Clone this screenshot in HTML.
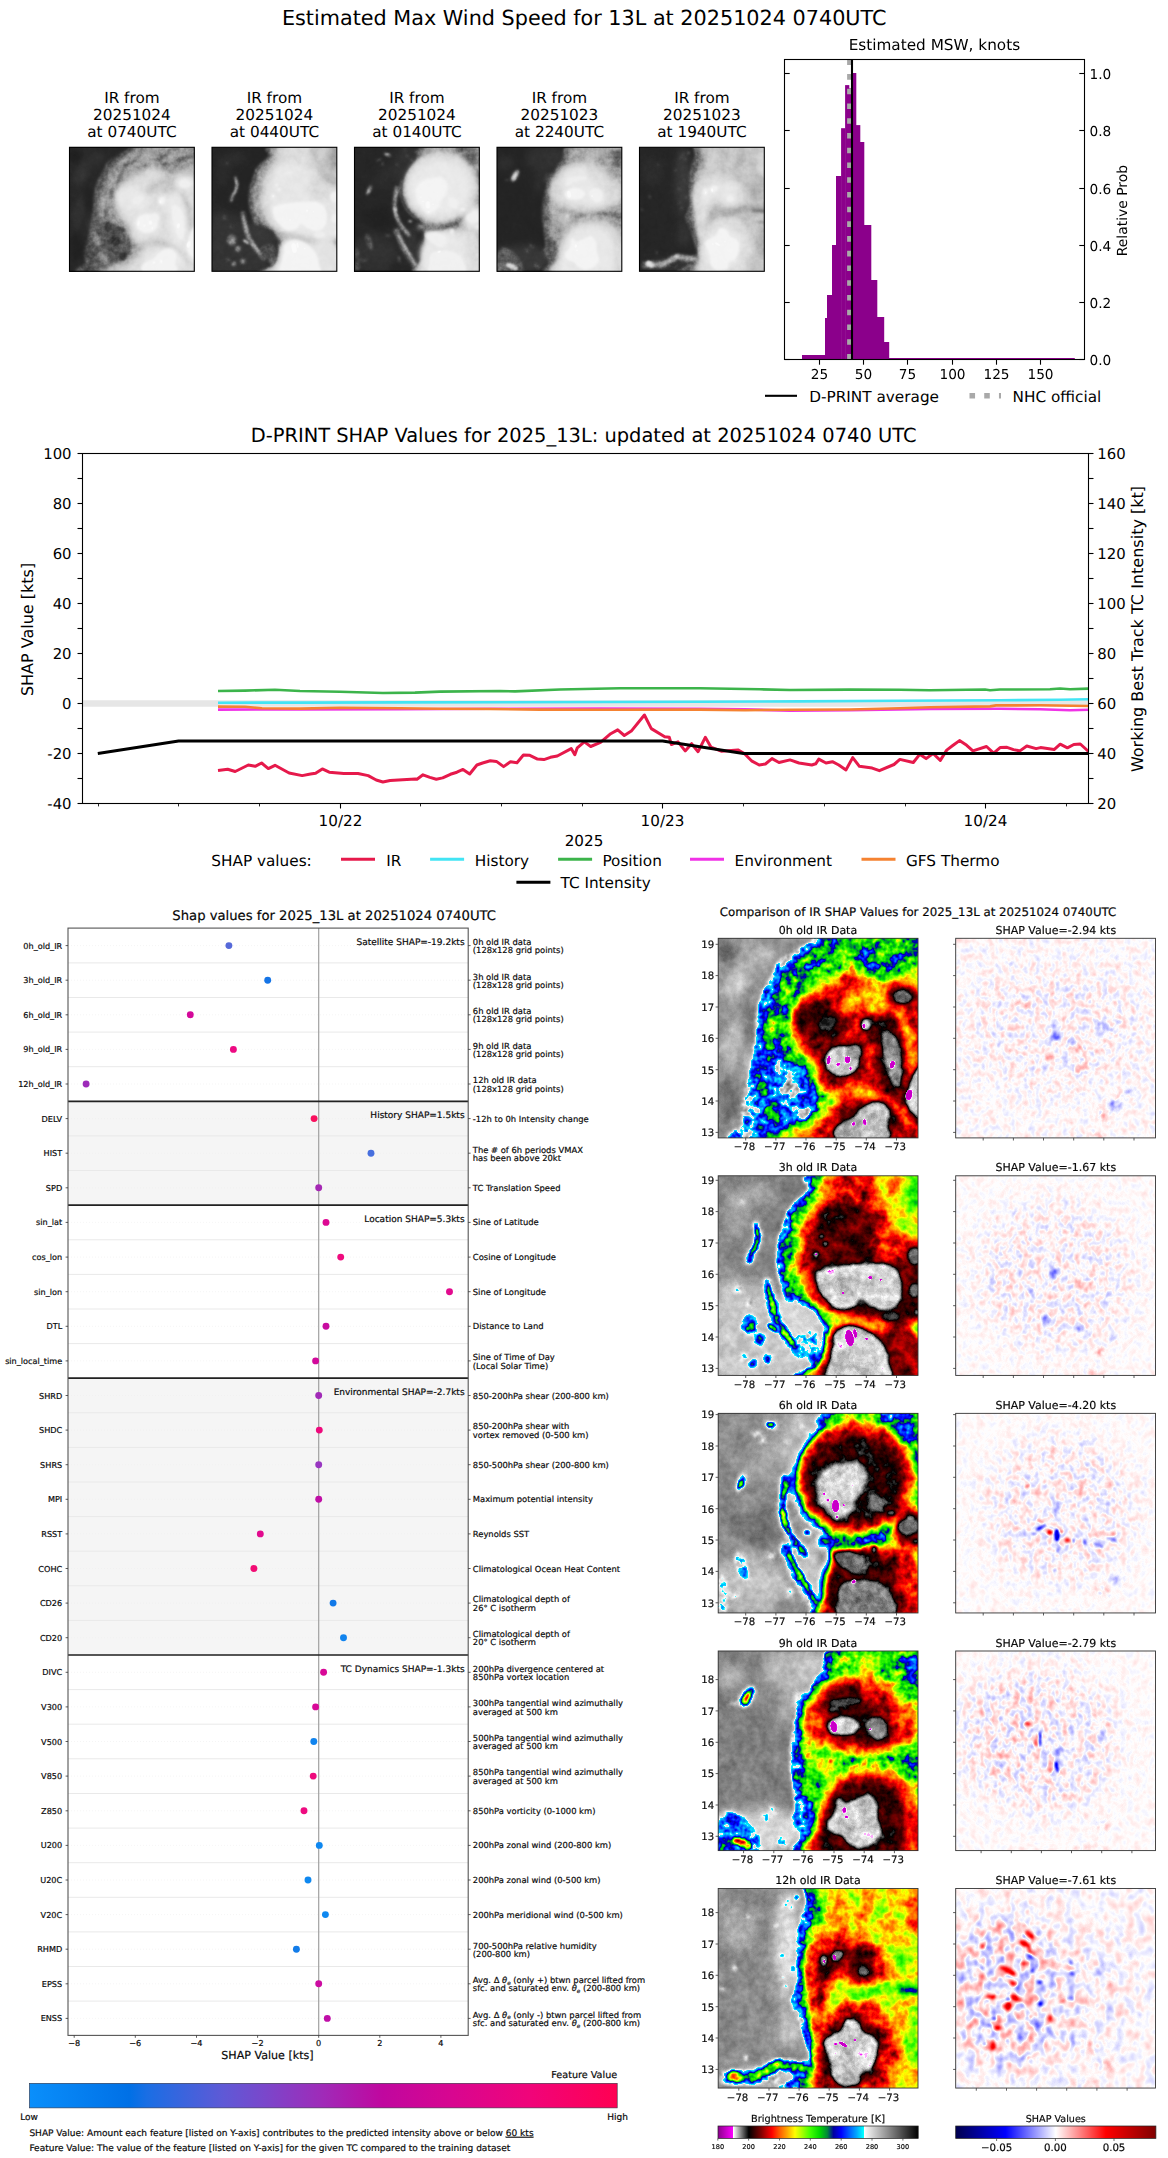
<!DOCTYPE html>
<html lang="en"><head><meta charset="utf-8"><title>D-PRINT 13L 20251024 0740UTC</title>
<style>
html,body{margin:0;padding:0;background:#fff}
svg{display:block}
text{font-family:"DejaVu Sans","Liberation Sans",sans-serif;fill:#000;text-rendering:geometricPrecision}
.soft text{stroke:#222;stroke-width:.2px}
</style></head><body>
<svg width="1168" height="2158" viewBox="0 0 1168 2158">
<rect width="1168" height="2158" fill="#fff"/>
<defs>
<filter id="b0_6" x="-60%" y="-60%" width="220%" height="220%" color-interpolation-filters="sRGB"><feGaussianBlur stdDeviation="0.6"/></filter>
<filter id="b1_2" x="-60%" y="-60%" width="220%" height="220%" color-interpolation-filters="sRGB"><feGaussianBlur stdDeviation="1.2"/></filter>
<filter id="b1_5" x="-60%" y="-60%" width="220%" height="220%" color-interpolation-filters="sRGB"><feGaussianBlur stdDeviation="1.5"/></filter>
<filter id="b2" x="-60%" y="-60%" width="220%" height="220%" color-interpolation-filters="sRGB"><feGaussianBlur stdDeviation="2"/></filter>
<filter id="b2_5" x="-60%" y="-60%" width="220%" height="220%" color-interpolation-filters="sRGB"><feGaussianBlur stdDeviation="2.5"/></filter>
<filter id="b3" x="-60%" y="-60%" width="220%" height="220%" color-interpolation-filters="sRGB"><feGaussianBlur stdDeviation="3"/></filter>
<filter id="b3_5" x="-60%" y="-60%" width="220%" height="220%" color-interpolation-filters="sRGB"><feGaussianBlur stdDeviation="3.5"/></filter>
<filter id="b4" x="-60%" y="-60%" width="220%" height="220%" color-interpolation-filters="sRGB"><feGaussianBlur stdDeviation="4"/></filter>
<filter id="b4_5" x="-60%" y="-60%" width="220%" height="220%" color-interpolation-filters="sRGB"><feGaussianBlur stdDeviation="4.5"/></filter>
<filter id="b5" x="-60%" y="-60%" width="220%" height="220%" color-interpolation-filters="sRGB"><feGaussianBlur stdDeviation="5"/></filter>
<filter id="b6" x="-60%" y="-60%" width="220%" height="220%" color-interpolation-filters="sRGB"><feGaussianBlur stdDeviation="6"/></filter>
<filter id="b14" x="-60%" y="-60%" width="220%" height="220%" color-interpolation-filters="sRGB"><feGaussianBlur stdDeviation="14"/></filter>
<filter id="ir0" x="0" y="0" width="1" height="1" color-interpolation-filters="sRGB"><feTurbulence type="fractalNoise" baseFrequency="0.05" numOctaves="2" seed="11" result="t1"/><feColorMatrix in="t1" type="matrix" values="1 0 0 0 0 1 0 0 0 0 1 0 0 0 0 0 0 0 0 1" result="n1"/><feTurbulence type="fractalNoise" baseFrequency="0.16" numOctaves="2" seed="4" result="t2"/><feColorMatrix in="t2" type="matrix" values="1 0 0 0 0 1 0 0 0 0 1 0 0 0 0 0 0 0 0 1" result="n2"/><feColorMatrix in="SourceGraphic" type="matrix" values="1 0 0 0 0 1 0 0 0 0 1 0 0 0 0 0 0 0 0 1" result="T"/><feColorMatrix in="SourceGraphic" type="matrix" values="0 1 0 0 0 0 1 0 0 0 0 1 0 0 0 0 0 0 0 1" result="m1"/><feColorMatrix in="SourceGraphic" type="matrix" values="0 0 1 0 0 0 0 1 0 0 0 0 1 0 0 0 0 0 0 1" result="m2"/><feComposite in="n1" in2="m1" operator="arithmetic" k1="1" k2="0" k3="-0.5" k4="0.5" result="p1"/><feComposite in="n2" in2="m2" operator="arithmetic" k1="1" k2="0" k3="-0.5" k4="0.5" result="p2"/><feComposite in="T" in2="p1" operator="arithmetic" k1="0" k2="1" k3="1" k4="-0.5" result="f1"/><feComposite in="f1" in2="p2" operator="arithmetic" k1="0" k2="1" k3="1" k4="-0.5" result="f"/><feComponentTransfer in="f"><feFuncR type="table" tableValues="0.545 0.591 0.637 0.683 0.729 0.775 0.821 0.867 0.913 0.959 1 0.9 0.8 0.7 0.6 0.5 0.4 0.3 0.2 0.1 0 0.063 0.125 0.188 0.251 0.314 0.376 0.439 0.502 0.573 0.644 0.715 0.787 0.858 0.929 1 1 1 1 1 1 1 1 1 1 1 1 1 1 1 1 0.925 0.851 0.776 0.702 0.627 0.552 0.477 0.402 0.326 0.251 0.209 0.167 0.125 0.084 0.042 0 0 0 0 0 0 0 0 0 0 0 0 0 0 0 0 0 0 0 0 0 0 0 0 0 0 0 0 0 0.989 0.96 0.932 0.904 0.876 0.847 0.819 0.791 0.763 0.734 0.706 0.678 0.65 0.621 0.593 0.565 0.537 0.508 0.48 0.452 0.424 0.395 0.367 0.339 0.311 0.282 0.254 0.226 0.198 0.169 0.141 0.113 0.085 0.056 0.028 0"/><feFuncG type="table" tableValues="0 0 0 0 0 0 0 0 0 0 1 0.9 0.8 0.7 0.6 0.5 0.4 0.3 0.2 0.1 0 0 0 0 0 0 0 0 0 0 0 0 0 0 0 0 0.071 0.141 0.212 0.282 0.353 0.414 0.475 0.536 0.598 0.659 0.727 0.795 0.864 0.932 1 1 1 1 1 1 1 1 1 1 1 0.975 0.949 0.924 0.898 0.873 0.847 0.784 0.722 0.659 0.596 0.533 0.4 0.267 0.133 0 0 0 0 0 0 0.068 0.136 0.204 0.272 0.34 0.408 0.471 0.533 0.596 0.659 0.735 0.81 0.886 0.962 0.989 0.96 0.932 0.904 0.876 0.847 0.819 0.791 0.763 0.734 0.706 0.678 0.65 0.621 0.593 0.565 0.537 0.508 0.48 0.452 0.424 0.395 0.367 0.339 0.311 0.282 0.254 0.226 0.198 0.169 0.141 0.113 0.085 0.056 0.028 0"/><feFuncB type="table" tableValues="0.545 0.591 0.637 0.683 0.729 0.775 0.821 0.867 0.913 0.959 1 0.9 0.8 0.7 0.6 0.5 0.4 0.3 0.2 0.1 0 0 0 0 0 0 0 0 0 0 0 0 0 0 0 0 0 0 0 0 0 0 0 0 0 0 0 0 0 0 0 0 0 0 0 0 0 0 0 0 0 0 0 0 0 0 0 0.044 0.088 0.132 0.176 0.22 0.322 0.424 0.525 0.627 0.702 0.776 0.851 0.925 1 1 1 1 1 1 1 1 1 1 1 1 1 1 1 0.989 0.96 0.932 0.904 0.876 0.847 0.819 0.791 0.763 0.734 0.706 0.678 0.65 0.621 0.593 0.565 0.537 0.508 0.48 0.452 0.424 0.395 0.367 0.339 0.311 0.282 0.254 0.226 0.198 0.169 0.141 0.113 0.085 0.056 0.028 0"/></feComponentTransfer></filter>
<filter id="gr0" x="0" y="0" width="1" height="1" color-interpolation-filters="sRGB"><feTurbulence type="fractalNoise" baseFrequency="0.05" numOctaves="2" seed="11" result="t1"/><feColorMatrix in="t1" type="matrix" values="1 0 0 0 0 1 0 0 0 0 1 0 0 0 0 0 0 0 0 1" result="n1"/><feTurbulence type="fractalNoise" baseFrequency="0.16" numOctaves="2" seed="4" result="t2"/><feColorMatrix in="t2" type="matrix" values="1 0 0 0 0 1 0 0 0 0 1 0 0 0 0 0 0 0 0 1" result="n2"/><feColorMatrix in="SourceGraphic" type="matrix" values="1 0 0 0 0 1 0 0 0 0 1 0 0 0 0 0 0 0 0 1" result="T"/><feColorMatrix in="SourceGraphic" type="matrix" values="0 1 0 0 0 0 1 0 0 0 0 1 0 0 0 0 0 0 0 1" result="m1"/><feColorMatrix in="SourceGraphic" type="matrix" values="0 0 1 0 0 0 0 1 0 0 0 0 1 0 0 0 0 0 0 1" result="m2"/><feComposite in="n1" in2="m1" operator="arithmetic" k1="0.5" k2="0" k3="-0.25" k4="0.5" result="p1"/><feComposite in="n2" in2="m2" operator="arithmetic" k1="0.5" k2="0" k3="-0.25" k4="0.5" result="p2"/><feComposite in="T" in2="p1" operator="arithmetic" k1="0" k2="1" k3="1" k4="-0.5" result="f1"/><feComposite in="f1" in2="p2" operator="arithmetic" k1="0" k2="1" k3="1" k4="-0.5" result="f"/><feComponentTransfer in="f"><feFuncR type="table" tableValues="1 0.982 0.965 0.945 0.925 0.904 0.883 0.859 0.829 0.8 0.757 0.714 0.663 0.612 0.549 0.486 0.424 0.361 0.31 0.259 0.22 0.184 0.153 0.129 0.106 0.084 0.063"/><feFuncG type="table" tableValues="1 0.982 0.965 0.945 0.925 0.904 0.883 0.859 0.829 0.8 0.757 0.714 0.663 0.612 0.549 0.486 0.424 0.361 0.31 0.259 0.22 0.184 0.153 0.129 0.106 0.084 0.063"/><feFuncB type="table" tableValues="1 0.982 0.965 0.945 0.925 0.904 0.883 0.859 0.829 0.8 0.757 0.714 0.663 0.612 0.549 0.486 0.424 0.361 0.31 0.259 0.22 0.184 0.153 0.129 0.106 0.084 0.063"/></feComponentTransfer></filter>
<filter id="ir1" x="0" y="0" width="1" height="1" color-interpolation-filters="sRGB"><feTurbulence type="fractalNoise" baseFrequency="0.05" numOctaves="2" seed="18" result="t1"/><feColorMatrix in="t1" type="matrix" values="1 0 0 0 0 1 0 0 0 0 1 0 0 0 0 0 0 0 0 1" result="n1"/><feTurbulence type="fractalNoise" baseFrequency="0.16" numOctaves="2" seed="7" result="t2"/><feColorMatrix in="t2" type="matrix" values="1 0 0 0 0 1 0 0 0 0 1 0 0 0 0 0 0 0 0 1" result="n2"/><feColorMatrix in="SourceGraphic" type="matrix" values="1 0 0 0 0 1 0 0 0 0 1 0 0 0 0 0 0 0 0 1" result="T"/><feColorMatrix in="SourceGraphic" type="matrix" values="0 1 0 0 0 0 1 0 0 0 0 1 0 0 0 0 0 0 0 1" result="m1"/><feColorMatrix in="SourceGraphic" type="matrix" values="0 0 1 0 0 0 0 1 0 0 0 0 1 0 0 0 0 0 0 1" result="m2"/><feComposite in="n1" in2="m1" operator="arithmetic" k1="1" k2="0" k3="-0.5" k4="0.5" result="p1"/><feComposite in="n2" in2="m2" operator="arithmetic" k1="1" k2="0" k3="-0.5" k4="0.5" result="p2"/><feComposite in="T" in2="p1" operator="arithmetic" k1="0" k2="1" k3="1" k4="-0.5" result="f1"/><feComposite in="f1" in2="p2" operator="arithmetic" k1="0" k2="1" k3="1" k4="-0.5" result="f"/><feComponentTransfer in="f"><feFuncR type="table" tableValues="0.545 0.591 0.637 0.683 0.729 0.775 0.821 0.867 0.913 0.959 1 0.9 0.8 0.7 0.6 0.5 0.4 0.3 0.2 0.1 0 0.063 0.125 0.188 0.251 0.314 0.376 0.439 0.502 0.573 0.644 0.715 0.787 0.858 0.929 1 1 1 1 1 1 1 1 1 1 1 1 1 1 1 1 0.925 0.851 0.776 0.702 0.627 0.552 0.477 0.402 0.326 0.251 0.209 0.167 0.125 0.084 0.042 0 0 0 0 0 0 0 0 0 0 0 0 0 0 0 0 0 0 0 0 0 0 0 0 0 0 0 0 0 0.989 0.96 0.932 0.904 0.876 0.847 0.819 0.791 0.763 0.734 0.706 0.678 0.65 0.621 0.593 0.565 0.537 0.508 0.48 0.452 0.424 0.395 0.367 0.339 0.311 0.282 0.254 0.226 0.198 0.169 0.141 0.113 0.085 0.056 0.028 0"/><feFuncG type="table" tableValues="0 0 0 0 0 0 0 0 0 0 1 0.9 0.8 0.7 0.6 0.5 0.4 0.3 0.2 0.1 0 0 0 0 0 0 0 0 0 0 0 0 0 0 0 0 0.071 0.141 0.212 0.282 0.353 0.414 0.475 0.536 0.598 0.659 0.727 0.795 0.864 0.932 1 1 1 1 1 1 1 1 1 1 1 0.975 0.949 0.924 0.898 0.873 0.847 0.784 0.722 0.659 0.596 0.533 0.4 0.267 0.133 0 0 0 0 0 0 0.068 0.136 0.204 0.272 0.34 0.408 0.471 0.533 0.596 0.659 0.735 0.81 0.886 0.962 0.989 0.96 0.932 0.904 0.876 0.847 0.819 0.791 0.763 0.734 0.706 0.678 0.65 0.621 0.593 0.565 0.537 0.508 0.48 0.452 0.424 0.395 0.367 0.339 0.311 0.282 0.254 0.226 0.198 0.169 0.141 0.113 0.085 0.056 0.028 0"/><feFuncB type="table" tableValues="0.545 0.591 0.637 0.683 0.729 0.775 0.821 0.867 0.913 0.959 1 0.9 0.8 0.7 0.6 0.5 0.4 0.3 0.2 0.1 0 0 0 0 0 0 0 0 0 0 0 0 0 0 0 0 0 0 0 0 0 0 0 0 0 0 0 0 0 0 0 0 0 0 0 0 0 0 0 0 0 0 0 0 0 0 0 0.044 0.088 0.132 0.176 0.22 0.322 0.424 0.525 0.627 0.702 0.776 0.851 0.925 1 1 1 1 1 1 1 1 1 1 1 1 1 1 1 0.989 0.96 0.932 0.904 0.876 0.847 0.819 0.791 0.763 0.734 0.706 0.678 0.65 0.621 0.593 0.565 0.537 0.508 0.48 0.452 0.424 0.395 0.367 0.339 0.311 0.282 0.254 0.226 0.198 0.169 0.141 0.113 0.085 0.056 0.028 0"/></feComponentTransfer></filter>
<filter id="gr1" x="0" y="0" width="1" height="1" color-interpolation-filters="sRGB"><feTurbulence type="fractalNoise" baseFrequency="0.05" numOctaves="2" seed="18" result="t1"/><feColorMatrix in="t1" type="matrix" values="1 0 0 0 0 1 0 0 0 0 1 0 0 0 0 0 0 0 0 1" result="n1"/><feTurbulence type="fractalNoise" baseFrequency="0.16" numOctaves="2" seed="7" result="t2"/><feColorMatrix in="t2" type="matrix" values="1 0 0 0 0 1 0 0 0 0 1 0 0 0 0 0 0 0 0 1" result="n2"/><feColorMatrix in="SourceGraphic" type="matrix" values="1 0 0 0 0 1 0 0 0 0 1 0 0 0 0 0 0 0 0 1" result="T"/><feColorMatrix in="SourceGraphic" type="matrix" values="0 1 0 0 0 0 1 0 0 0 0 1 0 0 0 0 0 0 0 1" result="m1"/><feColorMatrix in="SourceGraphic" type="matrix" values="0 0 1 0 0 0 0 1 0 0 0 0 1 0 0 0 0 0 0 1" result="m2"/><feComposite in="n1" in2="m1" operator="arithmetic" k1="0.5" k2="0" k3="-0.25" k4="0.5" result="p1"/><feComposite in="n2" in2="m2" operator="arithmetic" k1="0.5" k2="0" k3="-0.25" k4="0.5" result="p2"/><feComposite in="T" in2="p1" operator="arithmetic" k1="0" k2="1" k3="1" k4="-0.5" result="f1"/><feComposite in="f1" in2="p2" operator="arithmetic" k1="0" k2="1" k3="1" k4="-0.5" result="f"/><feComponentTransfer in="f"><feFuncR type="table" tableValues="1 0.982 0.965 0.945 0.925 0.904 0.883 0.859 0.829 0.8 0.757 0.714 0.663 0.612 0.549 0.486 0.424 0.361 0.31 0.259 0.22 0.184 0.153 0.129 0.106 0.084 0.063"/><feFuncG type="table" tableValues="1 0.982 0.965 0.945 0.925 0.904 0.883 0.859 0.829 0.8 0.757 0.714 0.663 0.612 0.549 0.486 0.424 0.361 0.31 0.259 0.22 0.184 0.153 0.129 0.106 0.084 0.063"/><feFuncB type="table" tableValues="1 0.982 0.965 0.945 0.925 0.904 0.883 0.859 0.829 0.8 0.757 0.714 0.663 0.612 0.549 0.486 0.424 0.361 0.31 0.259 0.22 0.184 0.153 0.129 0.106 0.084 0.063"/></feComponentTransfer></filter>
<filter id="ir2" x="0" y="0" width="1" height="1" color-interpolation-filters="sRGB"><feTurbulence type="fractalNoise" baseFrequency="0.05" numOctaves="2" seed="25" result="t1"/><feColorMatrix in="t1" type="matrix" values="1 0 0 0 0 1 0 0 0 0 1 0 0 0 0 0 0 0 0 1" result="n1"/><feTurbulence type="fractalNoise" baseFrequency="0.16" numOctaves="2" seed="10" result="t2"/><feColorMatrix in="t2" type="matrix" values="1 0 0 0 0 1 0 0 0 0 1 0 0 0 0 0 0 0 0 1" result="n2"/><feColorMatrix in="SourceGraphic" type="matrix" values="1 0 0 0 0 1 0 0 0 0 1 0 0 0 0 0 0 0 0 1" result="T"/><feColorMatrix in="SourceGraphic" type="matrix" values="0 1 0 0 0 0 1 0 0 0 0 1 0 0 0 0 0 0 0 1" result="m1"/><feColorMatrix in="SourceGraphic" type="matrix" values="0 0 1 0 0 0 0 1 0 0 0 0 1 0 0 0 0 0 0 1" result="m2"/><feComposite in="n1" in2="m1" operator="arithmetic" k1="1" k2="0" k3="-0.5" k4="0.5" result="p1"/><feComposite in="n2" in2="m2" operator="arithmetic" k1="1" k2="0" k3="-0.5" k4="0.5" result="p2"/><feComposite in="T" in2="p1" operator="arithmetic" k1="0" k2="1" k3="1" k4="-0.5" result="f1"/><feComposite in="f1" in2="p2" operator="arithmetic" k1="0" k2="1" k3="1" k4="-0.5" result="f"/><feComponentTransfer in="f"><feFuncR type="table" tableValues="0.545 0.591 0.637 0.683 0.729 0.775 0.821 0.867 0.913 0.959 1 0.9 0.8 0.7 0.6 0.5 0.4 0.3 0.2 0.1 0 0.063 0.125 0.188 0.251 0.314 0.376 0.439 0.502 0.573 0.644 0.715 0.787 0.858 0.929 1 1 1 1 1 1 1 1 1 1 1 1 1 1 1 1 0.925 0.851 0.776 0.702 0.627 0.552 0.477 0.402 0.326 0.251 0.209 0.167 0.125 0.084 0.042 0 0 0 0 0 0 0 0 0 0 0 0 0 0 0 0 0 0 0 0 0 0 0 0 0 0 0 0 0 0.989 0.96 0.932 0.904 0.876 0.847 0.819 0.791 0.763 0.734 0.706 0.678 0.65 0.621 0.593 0.565 0.537 0.508 0.48 0.452 0.424 0.395 0.367 0.339 0.311 0.282 0.254 0.226 0.198 0.169 0.141 0.113 0.085 0.056 0.028 0"/><feFuncG type="table" tableValues="0 0 0 0 0 0 0 0 0 0 1 0.9 0.8 0.7 0.6 0.5 0.4 0.3 0.2 0.1 0 0 0 0 0 0 0 0 0 0 0 0 0 0 0 0 0.071 0.141 0.212 0.282 0.353 0.414 0.475 0.536 0.598 0.659 0.727 0.795 0.864 0.932 1 1 1 1 1 1 1 1 1 1 1 0.975 0.949 0.924 0.898 0.873 0.847 0.784 0.722 0.659 0.596 0.533 0.4 0.267 0.133 0 0 0 0 0 0 0.068 0.136 0.204 0.272 0.34 0.408 0.471 0.533 0.596 0.659 0.735 0.81 0.886 0.962 0.989 0.96 0.932 0.904 0.876 0.847 0.819 0.791 0.763 0.734 0.706 0.678 0.65 0.621 0.593 0.565 0.537 0.508 0.48 0.452 0.424 0.395 0.367 0.339 0.311 0.282 0.254 0.226 0.198 0.169 0.141 0.113 0.085 0.056 0.028 0"/><feFuncB type="table" tableValues="0.545 0.591 0.637 0.683 0.729 0.775 0.821 0.867 0.913 0.959 1 0.9 0.8 0.7 0.6 0.5 0.4 0.3 0.2 0.1 0 0 0 0 0 0 0 0 0 0 0 0 0 0 0 0 0 0 0 0 0 0 0 0 0 0 0 0 0 0 0 0 0 0 0 0 0 0 0 0 0 0 0 0 0 0 0 0.044 0.088 0.132 0.176 0.22 0.322 0.424 0.525 0.627 0.702 0.776 0.851 0.925 1 1 1 1 1 1 1 1 1 1 1 1 1 1 1 0.989 0.96 0.932 0.904 0.876 0.847 0.819 0.791 0.763 0.734 0.706 0.678 0.65 0.621 0.593 0.565 0.537 0.508 0.48 0.452 0.424 0.395 0.367 0.339 0.311 0.282 0.254 0.226 0.198 0.169 0.141 0.113 0.085 0.056 0.028 0"/></feComponentTransfer></filter>
<filter id="gr2" x="0" y="0" width="1" height="1" color-interpolation-filters="sRGB"><feTurbulence type="fractalNoise" baseFrequency="0.05" numOctaves="2" seed="25" result="t1"/><feColorMatrix in="t1" type="matrix" values="1 0 0 0 0 1 0 0 0 0 1 0 0 0 0 0 0 0 0 1" result="n1"/><feTurbulence type="fractalNoise" baseFrequency="0.16" numOctaves="2" seed="10" result="t2"/><feColorMatrix in="t2" type="matrix" values="1 0 0 0 0 1 0 0 0 0 1 0 0 0 0 0 0 0 0 1" result="n2"/><feColorMatrix in="SourceGraphic" type="matrix" values="1 0 0 0 0 1 0 0 0 0 1 0 0 0 0 0 0 0 0 1" result="T"/><feColorMatrix in="SourceGraphic" type="matrix" values="0 1 0 0 0 0 1 0 0 0 0 1 0 0 0 0 0 0 0 1" result="m1"/><feColorMatrix in="SourceGraphic" type="matrix" values="0 0 1 0 0 0 0 1 0 0 0 0 1 0 0 0 0 0 0 1" result="m2"/><feComposite in="n1" in2="m1" operator="arithmetic" k1="0.5" k2="0" k3="-0.25" k4="0.5" result="p1"/><feComposite in="n2" in2="m2" operator="arithmetic" k1="0.5" k2="0" k3="-0.25" k4="0.5" result="p2"/><feComposite in="T" in2="p1" operator="arithmetic" k1="0" k2="1" k3="1" k4="-0.5" result="f1"/><feComposite in="f1" in2="p2" operator="arithmetic" k1="0" k2="1" k3="1" k4="-0.5" result="f"/><feComponentTransfer in="f"><feFuncR type="table" tableValues="1 0.982 0.965 0.945 0.925 0.904 0.883 0.859 0.829 0.8 0.757 0.714 0.663 0.612 0.549 0.486 0.424 0.361 0.31 0.259 0.22 0.184 0.153 0.129 0.106 0.084 0.063"/><feFuncG type="table" tableValues="1 0.982 0.965 0.945 0.925 0.904 0.883 0.859 0.829 0.8 0.757 0.714 0.663 0.612 0.549 0.486 0.424 0.361 0.31 0.259 0.22 0.184 0.153 0.129 0.106 0.084 0.063"/><feFuncB type="table" tableValues="1 0.982 0.965 0.945 0.925 0.904 0.883 0.859 0.829 0.8 0.757 0.714 0.663 0.612 0.549 0.486 0.424 0.361 0.31 0.259 0.22 0.184 0.153 0.129 0.106 0.084 0.063"/></feComponentTransfer></filter>
<filter id="ir3" x="0" y="0" width="1" height="1" color-interpolation-filters="sRGB"><feTurbulence type="fractalNoise" baseFrequency="0.05" numOctaves="2" seed="32" result="t1"/><feColorMatrix in="t1" type="matrix" values="1 0 0 0 0 1 0 0 0 0 1 0 0 0 0 0 0 0 0 1" result="n1"/><feTurbulence type="fractalNoise" baseFrequency="0.16" numOctaves="2" seed="13" result="t2"/><feColorMatrix in="t2" type="matrix" values="1 0 0 0 0 1 0 0 0 0 1 0 0 0 0 0 0 0 0 1" result="n2"/><feColorMatrix in="SourceGraphic" type="matrix" values="1 0 0 0 0 1 0 0 0 0 1 0 0 0 0 0 0 0 0 1" result="T"/><feColorMatrix in="SourceGraphic" type="matrix" values="0 1 0 0 0 0 1 0 0 0 0 1 0 0 0 0 0 0 0 1" result="m1"/><feColorMatrix in="SourceGraphic" type="matrix" values="0 0 1 0 0 0 0 1 0 0 0 0 1 0 0 0 0 0 0 1" result="m2"/><feComposite in="n1" in2="m1" operator="arithmetic" k1="1" k2="0" k3="-0.5" k4="0.5" result="p1"/><feComposite in="n2" in2="m2" operator="arithmetic" k1="1" k2="0" k3="-0.5" k4="0.5" result="p2"/><feComposite in="T" in2="p1" operator="arithmetic" k1="0" k2="1" k3="1" k4="-0.5" result="f1"/><feComposite in="f1" in2="p2" operator="arithmetic" k1="0" k2="1" k3="1" k4="-0.5" result="f"/><feComponentTransfer in="f"><feFuncR type="table" tableValues="0.545 0.591 0.637 0.683 0.729 0.775 0.821 0.867 0.913 0.959 1 0.9 0.8 0.7 0.6 0.5 0.4 0.3 0.2 0.1 0 0.063 0.125 0.188 0.251 0.314 0.376 0.439 0.502 0.573 0.644 0.715 0.787 0.858 0.929 1 1 1 1 1 1 1 1 1 1 1 1 1 1 1 1 0.925 0.851 0.776 0.702 0.627 0.552 0.477 0.402 0.326 0.251 0.209 0.167 0.125 0.084 0.042 0 0 0 0 0 0 0 0 0 0 0 0 0 0 0 0 0 0 0 0 0 0 0 0 0 0 0 0 0 0.989 0.96 0.932 0.904 0.876 0.847 0.819 0.791 0.763 0.734 0.706 0.678 0.65 0.621 0.593 0.565 0.537 0.508 0.48 0.452 0.424 0.395 0.367 0.339 0.311 0.282 0.254 0.226 0.198 0.169 0.141 0.113 0.085 0.056 0.028 0"/><feFuncG type="table" tableValues="0 0 0 0 0 0 0 0 0 0 1 0.9 0.8 0.7 0.6 0.5 0.4 0.3 0.2 0.1 0 0 0 0 0 0 0 0 0 0 0 0 0 0 0 0 0.071 0.141 0.212 0.282 0.353 0.414 0.475 0.536 0.598 0.659 0.727 0.795 0.864 0.932 1 1 1 1 1 1 1 1 1 1 1 0.975 0.949 0.924 0.898 0.873 0.847 0.784 0.722 0.659 0.596 0.533 0.4 0.267 0.133 0 0 0 0 0 0 0.068 0.136 0.204 0.272 0.34 0.408 0.471 0.533 0.596 0.659 0.735 0.81 0.886 0.962 0.989 0.96 0.932 0.904 0.876 0.847 0.819 0.791 0.763 0.734 0.706 0.678 0.65 0.621 0.593 0.565 0.537 0.508 0.48 0.452 0.424 0.395 0.367 0.339 0.311 0.282 0.254 0.226 0.198 0.169 0.141 0.113 0.085 0.056 0.028 0"/><feFuncB type="table" tableValues="0.545 0.591 0.637 0.683 0.729 0.775 0.821 0.867 0.913 0.959 1 0.9 0.8 0.7 0.6 0.5 0.4 0.3 0.2 0.1 0 0 0 0 0 0 0 0 0 0 0 0 0 0 0 0 0 0 0 0 0 0 0 0 0 0 0 0 0 0 0 0 0 0 0 0 0 0 0 0 0 0 0 0 0 0 0 0.044 0.088 0.132 0.176 0.22 0.322 0.424 0.525 0.627 0.702 0.776 0.851 0.925 1 1 1 1 1 1 1 1 1 1 1 1 1 1 1 0.989 0.96 0.932 0.904 0.876 0.847 0.819 0.791 0.763 0.734 0.706 0.678 0.65 0.621 0.593 0.565 0.537 0.508 0.48 0.452 0.424 0.395 0.367 0.339 0.311 0.282 0.254 0.226 0.198 0.169 0.141 0.113 0.085 0.056 0.028 0"/></feComponentTransfer></filter>
<filter id="gr3" x="0" y="0" width="1" height="1" color-interpolation-filters="sRGB"><feTurbulence type="fractalNoise" baseFrequency="0.05" numOctaves="2" seed="32" result="t1"/><feColorMatrix in="t1" type="matrix" values="1 0 0 0 0 1 0 0 0 0 1 0 0 0 0 0 0 0 0 1" result="n1"/><feTurbulence type="fractalNoise" baseFrequency="0.16" numOctaves="2" seed="13" result="t2"/><feColorMatrix in="t2" type="matrix" values="1 0 0 0 0 1 0 0 0 0 1 0 0 0 0 0 0 0 0 1" result="n2"/><feColorMatrix in="SourceGraphic" type="matrix" values="1 0 0 0 0 1 0 0 0 0 1 0 0 0 0 0 0 0 0 1" result="T"/><feColorMatrix in="SourceGraphic" type="matrix" values="0 1 0 0 0 0 1 0 0 0 0 1 0 0 0 0 0 0 0 1" result="m1"/><feColorMatrix in="SourceGraphic" type="matrix" values="0 0 1 0 0 0 0 1 0 0 0 0 1 0 0 0 0 0 0 1" result="m2"/><feComposite in="n1" in2="m1" operator="arithmetic" k1="0.5" k2="0" k3="-0.25" k4="0.5" result="p1"/><feComposite in="n2" in2="m2" operator="arithmetic" k1="0.5" k2="0" k3="-0.25" k4="0.5" result="p2"/><feComposite in="T" in2="p1" operator="arithmetic" k1="0" k2="1" k3="1" k4="-0.5" result="f1"/><feComposite in="f1" in2="p2" operator="arithmetic" k1="0" k2="1" k3="1" k4="-0.5" result="f"/><feComponentTransfer in="f"><feFuncR type="table" tableValues="1 0.982 0.965 0.945 0.925 0.904 0.883 0.859 0.829 0.8 0.757 0.714 0.663 0.612 0.549 0.486 0.424 0.361 0.31 0.259 0.22 0.184 0.153 0.129 0.106 0.084 0.063"/><feFuncG type="table" tableValues="1 0.982 0.965 0.945 0.925 0.904 0.883 0.859 0.829 0.8 0.757 0.714 0.663 0.612 0.549 0.486 0.424 0.361 0.31 0.259 0.22 0.184 0.153 0.129 0.106 0.084 0.063"/><feFuncB type="table" tableValues="1 0.982 0.965 0.945 0.925 0.904 0.883 0.859 0.829 0.8 0.757 0.714 0.663 0.612 0.549 0.486 0.424 0.361 0.31 0.259 0.22 0.184 0.153 0.129 0.106 0.084 0.063"/></feComponentTransfer></filter>
<filter id="ir4" x="0" y="0" width="1" height="1" color-interpolation-filters="sRGB"><feTurbulence type="fractalNoise" baseFrequency="0.05" numOctaves="2" seed="39" result="t1"/><feColorMatrix in="t1" type="matrix" values="1 0 0 0 0 1 0 0 0 0 1 0 0 0 0 0 0 0 0 1" result="n1"/><feTurbulence type="fractalNoise" baseFrequency="0.16" numOctaves="2" seed="16" result="t2"/><feColorMatrix in="t2" type="matrix" values="1 0 0 0 0 1 0 0 0 0 1 0 0 0 0 0 0 0 0 1" result="n2"/><feColorMatrix in="SourceGraphic" type="matrix" values="1 0 0 0 0 1 0 0 0 0 1 0 0 0 0 0 0 0 0 1" result="T"/><feColorMatrix in="SourceGraphic" type="matrix" values="0 1 0 0 0 0 1 0 0 0 0 1 0 0 0 0 0 0 0 1" result="m1"/><feColorMatrix in="SourceGraphic" type="matrix" values="0 0 1 0 0 0 0 1 0 0 0 0 1 0 0 0 0 0 0 1" result="m2"/><feComposite in="n1" in2="m1" operator="arithmetic" k1="1" k2="0" k3="-0.5" k4="0.5" result="p1"/><feComposite in="n2" in2="m2" operator="arithmetic" k1="1" k2="0" k3="-0.5" k4="0.5" result="p2"/><feComposite in="T" in2="p1" operator="arithmetic" k1="0" k2="1" k3="1" k4="-0.5" result="f1"/><feComposite in="f1" in2="p2" operator="arithmetic" k1="0" k2="1" k3="1" k4="-0.5" result="f"/><feComponentTransfer in="f"><feFuncR type="table" tableValues="0.545 0.591 0.637 0.683 0.729 0.775 0.821 0.867 0.913 0.959 1 0.9 0.8 0.7 0.6 0.5 0.4 0.3 0.2 0.1 0 0.063 0.125 0.188 0.251 0.314 0.376 0.439 0.502 0.573 0.644 0.715 0.787 0.858 0.929 1 1 1 1 1 1 1 1 1 1 1 1 1 1 1 1 0.925 0.851 0.776 0.702 0.627 0.552 0.477 0.402 0.326 0.251 0.209 0.167 0.125 0.084 0.042 0 0 0 0 0 0 0 0 0 0 0 0 0 0 0 0 0 0 0 0 0 0 0 0 0 0 0 0 0 0.989 0.96 0.932 0.904 0.876 0.847 0.819 0.791 0.763 0.734 0.706 0.678 0.65 0.621 0.593 0.565 0.537 0.508 0.48 0.452 0.424 0.395 0.367 0.339 0.311 0.282 0.254 0.226 0.198 0.169 0.141 0.113 0.085 0.056 0.028 0"/><feFuncG type="table" tableValues="0 0 0 0 0 0 0 0 0 0 1 0.9 0.8 0.7 0.6 0.5 0.4 0.3 0.2 0.1 0 0 0 0 0 0 0 0 0 0 0 0 0 0 0 0 0.071 0.141 0.212 0.282 0.353 0.414 0.475 0.536 0.598 0.659 0.727 0.795 0.864 0.932 1 1 1 1 1 1 1 1 1 1 1 0.975 0.949 0.924 0.898 0.873 0.847 0.784 0.722 0.659 0.596 0.533 0.4 0.267 0.133 0 0 0 0 0 0 0.068 0.136 0.204 0.272 0.34 0.408 0.471 0.533 0.596 0.659 0.735 0.81 0.886 0.962 0.989 0.96 0.932 0.904 0.876 0.847 0.819 0.791 0.763 0.734 0.706 0.678 0.65 0.621 0.593 0.565 0.537 0.508 0.48 0.452 0.424 0.395 0.367 0.339 0.311 0.282 0.254 0.226 0.198 0.169 0.141 0.113 0.085 0.056 0.028 0"/><feFuncB type="table" tableValues="0.545 0.591 0.637 0.683 0.729 0.775 0.821 0.867 0.913 0.959 1 0.9 0.8 0.7 0.6 0.5 0.4 0.3 0.2 0.1 0 0 0 0 0 0 0 0 0 0 0 0 0 0 0 0 0 0 0 0 0 0 0 0 0 0 0 0 0 0 0 0 0 0 0 0 0 0 0 0 0 0 0 0 0 0 0 0.044 0.088 0.132 0.176 0.22 0.322 0.424 0.525 0.627 0.702 0.776 0.851 0.925 1 1 1 1 1 1 1 1 1 1 1 1 1 1 1 0.989 0.96 0.932 0.904 0.876 0.847 0.819 0.791 0.763 0.734 0.706 0.678 0.65 0.621 0.593 0.565 0.537 0.508 0.48 0.452 0.424 0.395 0.367 0.339 0.311 0.282 0.254 0.226 0.198 0.169 0.141 0.113 0.085 0.056 0.028 0"/></feComponentTransfer></filter>
<filter id="gr4" x="0" y="0" width="1" height="1" color-interpolation-filters="sRGB"><feTurbulence type="fractalNoise" baseFrequency="0.05" numOctaves="2" seed="39" result="t1"/><feColorMatrix in="t1" type="matrix" values="1 0 0 0 0 1 0 0 0 0 1 0 0 0 0 0 0 0 0 1" result="n1"/><feTurbulence type="fractalNoise" baseFrequency="0.16" numOctaves="2" seed="16" result="t2"/><feColorMatrix in="t2" type="matrix" values="1 0 0 0 0 1 0 0 0 0 1 0 0 0 0 0 0 0 0 1" result="n2"/><feColorMatrix in="SourceGraphic" type="matrix" values="1 0 0 0 0 1 0 0 0 0 1 0 0 0 0 0 0 0 0 1" result="T"/><feColorMatrix in="SourceGraphic" type="matrix" values="0 1 0 0 0 0 1 0 0 0 0 1 0 0 0 0 0 0 0 1" result="m1"/><feColorMatrix in="SourceGraphic" type="matrix" values="0 0 1 0 0 0 0 1 0 0 0 0 1 0 0 0 0 0 0 1" result="m2"/><feComposite in="n1" in2="m1" operator="arithmetic" k1="0.5" k2="0" k3="-0.25" k4="0.5" result="p1"/><feComposite in="n2" in2="m2" operator="arithmetic" k1="0.5" k2="0" k3="-0.25" k4="0.5" result="p2"/><feComposite in="T" in2="p1" operator="arithmetic" k1="0" k2="1" k3="1" k4="-0.5" result="f1"/><feComposite in="f1" in2="p2" operator="arithmetic" k1="0" k2="1" k3="1" k4="-0.5" result="f"/><feComponentTransfer in="f"><feFuncR type="table" tableValues="1 0.982 0.965 0.945 0.925 0.904 0.883 0.859 0.829 0.8 0.757 0.714 0.663 0.612 0.549 0.486 0.424 0.361 0.31 0.259 0.22 0.184 0.153 0.129 0.106 0.084 0.063"/><feFuncG type="table" tableValues="1 0.982 0.965 0.945 0.925 0.904 0.883 0.859 0.829 0.8 0.757 0.714 0.663 0.612 0.549 0.486 0.424 0.361 0.31 0.259 0.22 0.184 0.153 0.129 0.106 0.084 0.063"/><feFuncB type="table" tableValues="1 0.982 0.965 0.945 0.925 0.904 0.883 0.859 0.829 0.8 0.757 0.714 0.663 0.612 0.549 0.486 0.424 0.361 0.31 0.259 0.22 0.184 0.153 0.129 0.106 0.084 0.063"/></feComponentTransfer></filter>
<filter id="sh0" x="0" y="0" width="1" height="1" color-interpolation-filters="sRGB"><feTurbulence type="fractalNoise" baseFrequency="0.15 0.128" numOctaves="2" seed="5" result="t"/><feColorMatrix in="t" type="matrix" values="1 0 0 0 0 1 0 0 0 0 1 0 0 0 0 0 0 0 0 1" result="n"/><feColorMatrix in="SourceGraphic" type="matrix" values="1 0 0 0 0 1 0 0 0 0 1 0 0 0 0 0 0 0 0 1" result="m"/><feColorMatrix in="SourceGraphic" type="matrix" values="0 1 0 0 0 0 1 0 0 0 0 1 0 0 0 0 0 0 0 1" result="o"/><feComposite in="n" in2="m" operator="arithmetic" k1="2" k2="0" k3="-1.0" k4="0.5" result="p"/><feComposite in="p" in2="o" operator="arithmetic" k1="0" k2="1" k3="1" k4="-0.5" result="q"/><feComponentTransfer in="q"><feFuncR type="table" tableValues="0 0 0 0 0 0 0 0 0 0 0 0.1 0.2 0.3 0.4 0.5 0.6 0.7 0.8 0.9 1 1 1 1 1 1 1 1 1 1 1 0.95 0.9 0.851 0.801 0.751 0.701 0.651 0.602 0.552 0.502"/><feFuncG type="table" tableValues="0 0 0 0 0 0 0 0 0 0 0 0.1 0.2 0.3 0.4 0.5 0.6 0.7 0.8 0.9 1 0.9 0.8 0.7 0.6 0.5 0.4 0.3 0.2 0.1 0 0 0 0 0 0 0 0 0 0 0"/><feFuncB type="table" tableValues="0.302 0.372 0.442 0.511 0.581 0.651 0.721 0.791 0.86 0.93 1 1 1 1 1 1 1 1 1 1 1 0.9 0.8 0.7 0.6 0.5 0.4 0.3 0.2 0.1 0 0 0 0 0 0 0 0 0 0 0"/></feComponentTransfer></filter>
<filter id="sh1" x="0" y="0" width="1" height="1" color-interpolation-filters="sRGB"><feTurbulence type="fractalNoise" baseFrequency="0.15 0.128" numOctaves="2" seed="18" result="t"/><feColorMatrix in="t" type="matrix" values="1 0 0 0 0 1 0 0 0 0 1 0 0 0 0 0 0 0 0 1" result="n"/><feColorMatrix in="SourceGraphic" type="matrix" values="1 0 0 0 0 1 0 0 0 0 1 0 0 0 0 0 0 0 0 1" result="m"/><feColorMatrix in="SourceGraphic" type="matrix" values="0 1 0 0 0 0 1 0 0 0 0 1 0 0 0 0 0 0 0 1" result="o"/><feComposite in="n" in2="m" operator="arithmetic" k1="2" k2="0" k3="-1.0" k4="0.5" result="p"/><feComposite in="p" in2="o" operator="arithmetic" k1="0" k2="1" k3="1" k4="-0.5" result="q"/><feComponentTransfer in="q"><feFuncR type="table" tableValues="0 0 0 0 0 0 0 0 0 0 0 0.1 0.2 0.3 0.4 0.5 0.6 0.7 0.8 0.9 1 1 1 1 1 1 1 1 1 1 1 0.95 0.9 0.851 0.801 0.751 0.701 0.651 0.602 0.552 0.502"/><feFuncG type="table" tableValues="0 0 0 0 0 0 0 0 0 0 0 0.1 0.2 0.3 0.4 0.5 0.6 0.7 0.8 0.9 1 0.9 0.8 0.7 0.6 0.5 0.4 0.3 0.2 0.1 0 0 0 0 0 0 0 0 0 0 0"/><feFuncB type="table" tableValues="0.302 0.372 0.442 0.511 0.581 0.651 0.721 0.791 0.86 0.93 1 1 1 1 1 1 1 1 1 1 1 0.9 0.8 0.7 0.6 0.5 0.4 0.3 0.2 0.1 0 0 0 0 0 0 0 0 0 0 0"/></feComponentTransfer></filter>
<filter id="sh2" x="0" y="0" width="1" height="1" color-interpolation-filters="sRGB"><feTurbulence type="fractalNoise" baseFrequency="0.14 0.119" numOctaves="2" seed="31" result="t"/><feColorMatrix in="t" type="matrix" values="1 0 0 0 0 1 0 0 0 0 1 0 0 0 0 0 0 0 0 1" result="n"/><feColorMatrix in="SourceGraphic" type="matrix" values="1 0 0 0 0 1 0 0 0 0 1 0 0 0 0 0 0 0 0 1" result="m"/><feColorMatrix in="SourceGraphic" type="matrix" values="0 1 0 0 0 0 1 0 0 0 0 1 0 0 0 0 0 0 0 1" result="o"/><feComposite in="n" in2="m" operator="arithmetic" k1="2" k2="0" k3="-1.0" k4="0.5" result="p"/><feComposite in="p" in2="o" operator="arithmetic" k1="0" k2="1" k3="1" k4="-0.5" result="q"/><feComponentTransfer in="q"><feFuncR type="table" tableValues="0 0 0 0 0 0 0 0 0 0 0 0.1 0.2 0.3 0.4 0.5 0.6 0.7 0.8 0.9 1 1 1 1 1 1 1 1 1 1 1 0.95 0.9 0.851 0.801 0.751 0.701 0.651 0.602 0.552 0.502"/><feFuncG type="table" tableValues="0 0 0 0 0 0 0 0 0 0 0 0.1 0.2 0.3 0.4 0.5 0.6 0.7 0.8 0.9 1 0.9 0.8 0.7 0.6 0.5 0.4 0.3 0.2 0.1 0 0 0 0 0 0 0 0 0 0 0"/><feFuncB type="table" tableValues="0.302 0.372 0.442 0.511 0.581 0.651 0.721 0.791 0.86 0.93 1 1 1 1 1 1 1 1 1 1 1 0.9 0.8 0.7 0.6 0.5 0.4 0.3 0.2 0.1 0 0 0 0 0 0 0 0 0 0 0"/></feComponentTransfer></filter>
<filter id="sh3" x="0" y="0" width="1" height="1" color-interpolation-filters="sRGB"><feTurbulence type="fractalNoise" baseFrequency="0.14 0.119" numOctaves="2" seed="44" result="t"/><feColorMatrix in="t" type="matrix" values="1 0 0 0 0 1 0 0 0 0 1 0 0 0 0 0 0 0 0 1" result="n"/><feColorMatrix in="SourceGraphic" type="matrix" values="1 0 0 0 0 1 0 0 0 0 1 0 0 0 0 0 0 0 0 1" result="m"/><feColorMatrix in="SourceGraphic" type="matrix" values="0 1 0 0 0 0 1 0 0 0 0 1 0 0 0 0 0 0 0 1" result="o"/><feComposite in="n" in2="m" operator="arithmetic" k1="2" k2="0" k3="-1.0" k4="0.5" result="p"/><feComposite in="p" in2="o" operator="arithmetic" k1="0" k2="1" k3="1" k4="-0.5" result="q"/><feComponentTransfer in="q"><feFuncR type="table" tableValues="0 0 0 0 0 0 0 0 0 0 0 0.1 0.2 0.3 0.4 0.5 0.6 0.7 0.8 0.9 1 1 1 1 1 1 1 1 1 1 1 0.95 0.9 0.851 0.801 0.751 0.701 0.651 0.602 0.552 0.502"/><feFuncG type="table" tableValues="0 0 0 0 0 0 0 0 0 0 0 0.1 0.2 0.3 0.4 0.5 0.6 0.7 0.8 0.9 1 0.9 0.8 0.7 0.6 0.5 0.4 0.3 0.2 0.1 0 0 0 0 0 0 0 0 0 0 0"/><feFuncB type="table" tableValues="0.302 0.372 0.442 0.511 0.581 0.651 0.721 0.791 0.86 0.93 1 1 1 1 1 1 1 1 1 1 1 0.9 0.8 0.7 0.6 0.5 0.4 0.3 0.2 0.1 0 0 0 0 0 0 0 0 0 0 0"/></feComponentTransfer></filter>
<filter id="sh4" x="0" y="0" width="1" height="1" color-interpolation-filters="sRGB"><feTurbulence type="fractalNoise" baseFrequency="0.1 0.085" numOctaves="2" seed="57" result="t"/><feColorMatrix in="t" type="matrix" values="1 0 0 0 0 1 0 0 0 0 1 0 0 0 0 0 0 0 0 1" result="n"/><feColorMatrix in="SourceGraphic" type="matrix" values="1 0 0 0 0 1 0 0 0 0 1 0 0 0 0 0 0 0 0 1" result="m"/><feColorMatrix in="SourceGraphic" type="matrix" values="0 1 0 0 0 0 1 0 0 0 0 1 0 0 0 0 0 0 0 1" result="o"/><feComposite in="n" in2="m" operator="arithmetic" k1="2" k2="0" k3="-1.0" k4="0.5" result="p"/><feComposite in="p" in2="o" operator="arithmetic" k1="0" k2="1" k3="1" k4="-0.5" result="q"/><feComponentTransfer in="q"><feFuncR type="table" tableValues="0 0 0 0 0 0 0 0 0 0 0 0.1 0.2 0.3 0.4 0.5 0.6 0.7 0.8 0.9 1 1 1 1 1 1 1 1 1 1 1 0.95 0.9 0.851 0.801 0.751 0.701 0.651 0.602 0.552 0.502"/><feFuncG type="table" tableValues="0 0 0 0 0 0 0 0 0 0 0 0.1 0.2 0.3 0.4 0.5 0.6 0.7 0.8 0.9 1 0.9 0.8 0.7 0.6 0.5 0.4 0.3 0.2 0.1 0 0 0 0 0 0 0 0 0 0 0"/><feFuncB type="table" tableValues="0.302 0.372 0.442 0.511 0.581 0.651 0.721 0.791 0.86 0.93 1 1 1 1 1 1 1 1 1 1 1 0.9 0.8 0.7 0.6 0.5 0.4 0.3 0.2 0.1 0 0 0 0 0 0 0 0 0 0 0"/></feComponentTransfer></filter>
</defs>
<text x="584.2" y="24.7" font-size="20.75" text-anchor="middle">Estimated Max Wind Speed for 13L at 20251024 0740UTC</text>
<text x="131.9" y="102.6" font-size="15.28" text-anchor="middle">IR from</text>
<text x="131.9" y="120.0" font-size="15.28" text-anchor="middle">20251024</text>
<text x="131.9" y="137.4" font-size="15.28" text-anchor="middle">at 0740UTC</text>
<text x="274.4" y="102.6" font-size="15.28" text-anchor="middle">IR from</text>
<text x="274.4" y="120.0" font-size="15.28" text-anchor="middle">20251024</text>
<text x="274.4" y="137.4" font-size="15.28" text-anchor="middle">at 0440UTC</text>
<text x="416.9" y="102.6" font-size="15.28" text-anchor="middle">IR from</text>
<text x="416.9" y="120.0" font-size="15.28" text-anchor="middle">20251024</text>
<text x="416.9" y="137.4" font-size="15.28" text-anchor="middle">at 0140UTC</text>
<text x="559.4" y="102.6" font-size="15.28" text-anchor="middle">IR from</text>
<text x="559.4" y="120.0" font-size="15.28" text-anchor="middle">20251023</text>
<text x="559.4" y="137.4" font-size="15.28" text-anchor="middle">at 2240UTC</text>
<text x="701.9" y="102.6" font-size="15.28" text-anchor="middle">IR from</text>
<text x="701.9" y="120.0" font-size="15.28" text-anchor="middle">20251023</text>
<text x="701.9" y="137.4" font-size="15.28" text-anchor="middle">at 1940UTC</text>
<svg x="69.5" y="147.3" width="124.8" height="124.0" viewBox="0 0 200 200" preserveAspectRatio="none"><g filter="url(#gr0)"><rect x="-5" y="-5" width="260" height="260" fill="#d60f0d"/><g filter="url(#b4)"><ellipse cx="20.5" cy="39.1" rx="11.3" ry="22.6" fill="#c80f0d" transform="rotate(20 20.5 39.1)"/><ellipse cx="14.8" cy="105.0" rx="9.4" ry="28.3" fill="#ca0f0d" transform="rotate(10 14.8 105.0)"/><ellipse cx="11.0" cy="161.5" rx="11.3" ry="22.6" fill="#e00f0d"/><ellipse cx="39.3" cy="20.3" rx="17.0" ry="9.4" fill="#cc0f0d" transform="rotate(-30 39.3 20.3)"/><ellipse cx="9.2" cy="14.6" rx="11.3" ry="11.3" fill="#e20f0d"/><ellipse cx="29.9" cy="82.4" rx="7.5" ry="18.8" fill="#de0f0d"/><ellipse cx="33.6" cy="123.9" rx="4.7" ry="11.3" fill="#c20f0d" transform="rotate(5 33.6 123.9)"/></g><g filter="url(#b1_5)"><path d="M97.7 -15.5C75.3 -12.4 98.2 -4.9 95.4 -0.5C92.6 3.9 86.3 7.1 80.7 10.8C75.1 14.6 66.3 18.1 61.9 22.1C57.5 26.2 57.2 30.3 54.4 35.3C51.5 40.3 47.3 46.9 44.9 52.3C42.6 57.6 41.3 62.3 40.2 67.3C39.1 72.4 38.8 77.4 38.3 82.4C37.9 87.4 38.0 92.5 37.4 97.5C36.8 102.5 35.4 107.5 34.6 112.6C33.8 117.6 33.5 122.6 32.7 127.6C31.9 132.6 31.0 137.7 29.9 142.7C28.8 147.7 27.2 152.7 26.1 157.8C25.0 162.8 23.4 168.1 23.3 172.8C23.1 177.5 25.2 180.7 25.2 186.0C25.2 191.3 -10.8 200.1 23.3 204.8C57.3 209.6 195.2 251.6 229.5 214.3C263.9 176.9 251.5 19.0 229.5 -19.3C207.6 -57.6 120.0 -18.7 97.7 -15.5Z" fill="#ab4c52"/></g><g filter="url(#b3)"><path d="M112.8 -15.5C92.5 -12.4 111.8 -5.2 108.0 -0.5C104.3 4.2 96.3 7.7 90.1 12.7C84.0 17.7 76.0 24.0 71.3 29.7C66.6 35.3 65.0 40.3 61.9 46.6C58.8 52.9 54.7 60.8 52.5 67.3C50.3 73.9 49.6 79.9 48.7 86.2C47.8 92.5 46.8 100.0 46.8 105.0C46.8 110.0 44.0 113.2 48.7 116.3C53.4 119.5 67.9 119.5 75.1 123.9C82.3 128.2 87.9 136.4 92.0 142.7C96.1 149.0 99.9 155.2 99.6 161.5C99.3 167.8 94.9 173.1 90.1 180.4C85.4 187.6 48.1 199.2 71.3 204.8C94.5 210.5 203.2 251.6 229.5 214.3C255.9 176.9 249.0 19.0 229.5 -19.3C210.1 -57.6 133.0 -18.7 112.8 -15.5Z" fill="#804c52"/><ellipse cx="43.1" cy="148.3" rx="5.3" ry="13.2" fill="#834c52" transform="rotate(-25 43.1 148.3)"/><ellipse cx="56.2" cy="182.2" rx="5.7" ry="13.2" fill="#834c52" transform="rotate(-30 56.2 182.2)"/><ellipse cx="73.2" cy="191.7" rx="7.5" ry="5.7" fill="#814c52"/></g><g filter="url(#b2)"><ellipse cx="61.9" cy="127.6" rx="5.3" ry="8.5" fill="#c24c52"/><ellipse cx="74.1" cy="151.2" rx="8.5" ry="7.5" fill="#c24c52"/><ellipse cx="85.4" cy="175.7" rx="5.3" ry="7.5" fill="#c24c52"/><ellipse cx="82.6" cy="132.3" rx="7.5" ry="3.4" fill="#be4c52" transform="rotate(15 82.6 132.3)"/><ellipse cx="67.5" cy="167.2" rx="4.7" ry="4.7" fill="#b44c52"/><ellipse cx="48.7" cy="135.2" rx="3.8" ry="5.7" fill="#b44c52"/><ellipse cx="93.9" cy="189.8" rx="3.8" ry="5.7" fill="#b44c52"/><ellipse cx="35.5" cy="180.4" rx="3.4" ry="7.5" fill="#b44c52" transform="rotate(-20 35.5 180.4)"/><ellipse cx="54.4" cy="161.5" rx="3.8" ry="5.7" fill="#b24c52"/><ellipse cx="150.4" cy="15.5" rx="13.2" ry="3.4" fill="#9f4c52" transform="rotate(-30 150.4 15.5)"/><ellipse cx="182.4" cy="18.4" rx="17.0" ry="4.1" fill="#9f4c52" transform="rotate(-15 182.4 18.4)"/><ellipse cx="122.2" cy="29.7" rx="5.7" ry="2.6" fill="#9f4c52" transform="rotate(-30 122.2 29.7)"/><ellipse cx="152.3" cy="26.8" rx="4.7" ry="2.6" fill="#9f4c52" transform="rotate(-30 152.3 26.8)"/><ellipse cx="105.2" cy="20.3" rx="9.4" ry="2.6" fill="#994c52" transform="rotate(-40 105.2 20.3)"/><ellipse cx="167.4" cy="3.3" rx="11.3" ry="2.3" fill="#a14c52" transform="rotate(-10 167.4 3.3)"/><ellipse cx="80.7" cy="48.5" rx="3.4" ry="11.3" fill="#9d4c52" transform="rotate(25 80.7 48.5)"/><ellipse cx="67.5" cy="74.9" rx="3.0" ry="11.3" fill="#9d4c52" transform="rotate(15 67.5 74.9)"/><ellipse cx="58.1" cy="105.0" rx="2.6" ry="9.4" fill="#a14c52" transform="rotate(5 58.1 105.0)"/><ellipse cx="90.1" cy="29.7" rx="3.0" ry="9.4" fill="#9d4c52" transform="rotate(40 90.1 29.7)"/></g><g filter="url(#b4)"><path d="M75.1 80.5C76.0 74.9 77.0 68.9 80.7 63.6C84.5 58.2 91.1 52.9 97.7 48.5C104.3 44.1 113.4 39.9 120.3 37.2C127.2 34.5 133.8 32.2 139.1 32.5C144.5 32.8 148.5 35.8 152.3 39.1C156.1 42.4 158.3 51.0 161.7 52.3C165.2 53.5 169.3 48.2 173.0 46.6C176.8 45.1 176.8 43.2 184.3 42.9C191.9 42.5 212.6 17.7 218.2 44.7C223.9 71.7 245.5 178.2 218.2 204.8C190.9 231.5 77.9 207.4 54.4 204.8C30.8 202.3 69.7 193.9 77.0 189.8C84.2 185.7 91.7 185.1 97.7 180.4C103.6 175.7 112.4 167.5 112.8 161.5C113.1 155.6 103.3 150.8 99.6 144.6C95.8 138.3 93.3 129.2 90.1 123.9C87.0 118.5 83.2 116.9 80.7 112.6C78.2 108.2 76.0 102.8 75.1 97.5C74.1 92.1 74.1 86.2 75.1 80.5Z" fill="#5a3824"/><ellipse cx="124.1" cy="12.7" rx="15.1" ry="2.6" fill="#643824" transform="rotate(-35 124.1 12.7)"/><ellipse cx="97.7" cy="44.7" rx="11.3" ry="2.6" fill="#663824" transform="rotate(-40 97.7 44.7)"/><ellipse cx="159.8" cy="16.5" rx="9.4" ry="2.3" fill="#683824" transform="rotate(-50 159.8 16.5)"/></g><g filter="url(#b4)"><path d="M78.8 80.5C79.6 75.2 81.0 70.2 84.5 65.5C87.9 60.8 93.6 56.2 99.6 52.3C105.5 48.4 114.0 44.3 120.3 41.9C126.6 39.6 132.5 37.7 137.2 38.1C141.9 38.6 145.7 41.4 148.5 44.7C151.4 48.0 155.1 54.2 154.2 57.9C153.2 61.7 146.0 64.5 142.9 67.3C139.7 70.2 132.2 74.3 135.4 74.9C138.5 75.5 154.2 72.4 161.7 71.1C169.3 69.9 171.1 67.3 180.6 67.3C190.0 67.3 212.0 48.2 218.2 71.1C224.5 94.0 239.6 182.6 218.2 204.8C196.9 227.1 109.0 207.7 90.1 204.8C71.3 202.0 100.2 194.2 105.2 187.9C110.2 181.6 120.3 174.1 120.3 167.2C120.3 160.3 109.3 153.7 105.2 146.5C101.1 139.2 98.9 129.5 95.8 123.9C92.7 118.2 89.0 116.9 86.4 112.6C83.7 108.2 81.0 102.8 79.8 97.5C78.5 92.1 78.1 85.9 78.8 80.5Z" fill="#413824"/></g><g filter="url(#b4)"><path d="M205.0 39.1C201.0 39.4 187.8 39.4 180.6 41.0C173.3 42.5 168.0 45.4 161.7 48.5C155.4 51.6 148.5 56.0 142.9 59.8C137.2 63.6 130.3 69.2 127.8 71.1" fill="none" stroke="#643824" stroke-width="11.3" stroke-linecap="round"/><path d="M182.4 80.5C183.7 83.4 188.3 91.5 190.0 97.5C191.7 103.4 192.2 110.7 192.8 116.3C193.4 122.0 193.6 128.9 193.7 131.4" fill="none" stroke="#723824" stroke-width="7.2" stroke-linecap="round"/><path d="M112.8 159.6C115.3 158.9 122.8 156.0 127.8 154.9C132.8 153.8 137.2 152.6 142.9 153.0C148.5 153.5 158.6 157.0 161.7 157.8" fill="none" stroke="#6a3824" stroke-width="7.5" stroke-linecap="round"/><path d="M158.0 154.0C160.5 156.2 168.0 162.5 173.0 167.2C178.0 171.9 183.1 177.2 188.1 182.2C193.1 187.3 200.7 194.8 203.2 197.3" fill="none" stroke="#523824" stroke-width="5.7" stroke-linecap="round"/></g><g filter="url(#b4)"><path d="M75.1 74.9C76.0 70.2 82.0 67.0 86.4 65.5C90.8 63.9 96.4 64.2 101.4 65.5C106.5 66.7 111.8 69.5 116.5 73.0C121.2 76.4 128.1 81.8 129.7 86.2C131.3 90.6 129.4 96.9 125.9 99.4C122.5 101.9 114.3 100.6 109.0 101.2C103.6 101.9 98.6 104.4 93.9 103.1C89.2 101.9 83.9 98.4 80.7 93.7C77.6 89.0 74.1 79.6 75.1 74.9Z" fill="#2d1f14"/><ellipse cx="124.1" cy="122.0" rx="21.7" ry="19.8" fill="#2d1f14"/><ellipse cx="172.1" cy="116.3" rx="15.1" ry="43.3" fill="#2d1f14" transform="rotate(-8 172.1 116.3)"/><ellipse cx="186.2" cy="57.9" rx="16.0" ry="12.2" fill="#2d1f14"/><ellipse cx="150.4" cy="186.0" rx="33.0" ry="21.7" fill="#2d1f14"/><ellipse cx="198.5" cy="159.6" rx="11.3" ry="24.5" fill="#2d1f14"/><ellipse cx="148.5" cy="86.2" rx="8.5" ry="9.4" fill="#2f1f14"/></g><g filter="url(#b1_5)"><ellipse cx="124.1" cy="122.9" rx="17.3" ry="15.4" fill="#160908"/><ellipse cx="135.4" cy="114.4" rx="8.5" ry="8.5" fill="#1b0908"/><ellipse cx="147.6" cy="86.2" rx="5.1" ry="6.2" fill="#160908"/><ellipse cx="109.0" cy="84.7" rx="10.4" ry="6.6" fill="#220908" transform="rotate(-20 109.0 84.7)"/><ellipse cx="184.3" cy="58.9" rx="9.8" ry="6.8" fill="#1e0908" transform="rotate(10 184.3 58.9)"/><path d="M165.5 93.7C167.7 91.8 174.0 94.3 176.8 97.5C179.6 100.6 181.2 106.3 182.4 112.6C183.7 118.8 184.6 129.2 184.3 135.2C184.0 141.1 182.4 147.1 180.6 148.3C178.7 149.6 175.2 146.8 173.0 142.7C170.8 138.6 168.9 129.5 167.4 123.9C165.8 118.2 163.9 113.8 163.6 108.8C163.3 103.8 163.3 95.6 165.5 93.7Z" fill="#1c0908"/><path d="M124.1 184.1C127.5 181.6 131.6 181.3 135.4 178.5C139.1 175.7 142.3 169.7 146.7 167.2C151.0 164.7 157.6 162.5 161.7 163.4C165.8 164.3 169.9 168.7 171.1 172.8C172.4 176.9 168.9 183.8 169.3 187.9C169.6 192.0 174.3 194.5 173.0 197.3C171.8 200.1 169.9 203.6 161.7 204.8C153.6 206.1 131.9 206.7 124.1 204.8C116.2 203.0 114.6 197.0 114.6 193.5C114.6 190.1 120.6 186.6 124.1 184.1Z" fill="#180908"/><path d="M190.0 152.1C191.2 147.1 193.1 139.2 195.6 135.2C198.1 131.1 203.5 120.7 205.0 127.6C206.6 134.5 206.6 168.4 205.0 176.6C203.5 184.8 198.5 178.5 195.6 176.6C192.8 174.7 189.0 169.4 188.1 165.3C187.2 161.2 188.7 157.1 190.0 152.1Z" fill="#160908"/></g><g filter="url(#b0_6)"><ellipse cx="110.5" cy="122.3" rx="1.5" ry="4.1" fill="#080000" transform="rotate(10 110.5 122.3)"/><ellipse cx="129.7" cy="121.6" rx="2.6" ry="3.0" fill="#080000"/><ellipse cx="120.3" cy="126.1" rx="1.9" ry="0.9" fill="#080000" transform="rotate(-30 120.3 126.1)"/><ellipse cx="145.7" cy="88.1" rx="1.3" ry="2.3" fill="#080000"/><ellipse cx="174.3" cy="126.7" rx="2.3" ry="3.8" fill="#080000" transform="rotate(15 174.3 126.7)"/><ellipse cx="190.9" cy="156.8" rx="3.0" ry="4.9" fill="#080000" transform="rotate(15 190.9 156.8)"/><ellipse cx="135.4" cy="186.0" rx="1.9" ry="1.3" fill="#080000" transform="rotate(-30 135.4 186.0)"/><ellipse cx="146.7" cy="184.1" rx="1.5" ry="2.6" fill="#080000" transform="rotate(-20 146.7 184.1)"/><ellipse cx="132.5" cy="130.4" rx="0.8" ry="1.9" fill="#080000"/></g></g></svg>
<svg x="212" y="147.3" width="124.8" height="124.0" viewBox="0 0 200 200" preserveAspectRatio="none"><g filter="url(#gr1)"><rect x="-5" y="-5" width="260" height="260" fill="#da0f0d"/><g filter="url(#b6)"><path d="M-2.1 112.6C3.2 95.9 20.5 103.1 29.9 105.0C39.3 106.9 47.5 122.6 54.4 123.9C61.3 125.1 64.1 110.7 71.3 112.6C78.5 114.4 92.0 127.0 97.7 135.2C103.3 143.3 106.5 152.4 105.2 161.5C104.0 170.6 94.2 182.6 90.1 189.8C86.1 197.0 96.1 202.3 80.7 204.8C65.3 207.4 11.7 220.2 -2.1 204.8C-16.0 189.5 -7.5 129.2 -2.1 112.6Z" fill="#c80f0d"/><ellipse cx="29.9" cy="20.3" rx="22.6" ry="11.3" fill="#ce0f0d" transform="rotate(-20 29.9 20.3)"/><ellipse cx="78.8" cy="135.2" rx="15.1" ry="13.2" fill="#c20f0d"/><ellipse cx="14.8" cy="48.5" rx="9.4" ry="15.1" fill="#d00f0d"/></g><g filter="url(#b1_5)"><path d="M94.9 -2.3C73.5 2.0 93.8 9.3 90.1 14.6C86.5 19.9 77.3 24.6 73.2 29.7C69.1 34.7 67.9 39.1 65.7 44.7C63.5 50.4 61.3 57.3 60.0 63.6C58.8 69.9 58.3 76.8 58.1 82.4C58.0 88.1 58.1 92.5 59.1 97.5C60.0 102.5 61.7 108.2 63.8 112.6C65.8 116.9 66.3 120.4 71.3 123.9C76.3 127.3 88.3 129.5 93.9 133.3C99.6 137.0 103.3 141.7 105.2 146.5C107.1 151.2 105.2 157.1 105.2 161.5C105.2 165.9 107.1 168.1 105.2 172.8C103.3 177.5 98.0 184.4 93.9 189.8C89.8 195.1 60.0 202.3 80.7 204.8C101.4 207.4 195.3 240.9 218.2 204.8C241.1 168.7 238.8 22.8 218.2 -11.8C197.7 -46.3 116.2 -6.7 94.9 -2.3Z" fill="#a94c52"/></g><g filter="url(#b2_5)"><path d="M102.4 -2.3C81.8 2.0 98.8 9.0 94.9 14.6C90.9 20.3 82.8 25.9 78.8 31.6C74.9 37.2 73.4 42.5 71.3 48.5C69.2 54.5 67.1 61.7 66.0 67.3C64.9 73.0 64.6 77.4 64.7 82.4C64.8 87.4 65.3 92.5 66.6 97.5C67.9 102.5 69.9 108.2 72.3 112.6C74.6 116.9 76.2 120.1 80.7 123.9C85.3 127.6 94.7 131.1 99.6 135.2C104.4 139.2 108.2 143.9 109.9 148.3C111.7 152.7 110.1 157.4 109.9 161.5C109.8 165.6 110.7 168.1 109.0 172.8C107.3 177.5 103.0 184.4 99.6 189.8C96.1 195.1 68.5 202.3 88.3 204.8C108.0 207.4 196.6 240.9 218.2 204.8C239.9 168.7 237.5 22.8 218.2 -11.8C198.9 -46.3 123.0 -6.7 102.4 -2.3Z" fill="#7e4c52"/></g><g filter="url(#b2)"><path d="M49.6 106.9C50.1 109.7 51.2 118.2 52.5 123.9C53.7 129.5 55.3 135.8 57.2 140.8C59.1 145.8 61.1 149.6 63.8 154.0C66.4 158.4 70.1 163.1 73.2 167.2C76.3 171.3 81.0 176.6 82.6 178.5" fill="none" stroke="#a14c52" stroke-width="8.7" stroke-linecap="round"/><path d="M37.4 49.4C37.9 50.9 40.1 54.6 40.2 57.9C40.4 61.2 39.6 65.8 38.3 69.2C37.1 72.7 34.0 75.8 32.7 78.6C31.4 81.5 31.1 84.9 30.8 86.2" fill="none" stroke="#a14c52" stroke-width="5.7" stroke-linecap="round"/><ellipse cx="31.8" cy="150.2" rx="8.5" ry="9.4" fill="#9d4c52"/><ellipse cx="41.6" cy="163.8" rx="5.3" ry="4.9" fill="#9d4c52"/><ellipse cx="49.6" cy="184.1" rx="5.3" ry="4.9" fill="#a14c52"/><ellipse cx="35.1" cy="187.9" rx="4.1" ry="4.1" fill="#a14c52"/><ellipse cx="90.1" cy="167.2" rx="13.2" ry="11.3" fill="#ad4c52"/><ellipse cx="72.3" cy="118.2" rx="5.7" ry="7.5" fill="#a34c52"/><ellipse cx="20.5" cy="112.6" rx="3.0" ry="4.1" fill="#ad4c52"/><ellipse cx="31.8" cy="127.6" rx="3.4" ry="2.6" fill="#b14c52"/><ellipse cx="24.2" cy="25.0" rx="1.9" ry="1.5" fill="#ad4c52"/><ellipse cx="71.3" cy="37.2" rx="2.3" ry="3.0" fill="#a14c52"/><ellipse cx="26.1" cy="182.2" rx="5.7" ry="1.9" fill="#ad4c52" transform="rotate(20 26.1 182.2)"/><ellipse cx="97.7" cy="182.2" rx="7.5" ry="7.5" fill="#a94c52"/></g><g filter="url(#b1_5)"><path d="M50.6 112.6C51.2 115.7 52.8 125.7 54.4 131.4C55.9 137.0 57.8 141.7 60.0 146.5C62.2 151.2 64.7 155.6 67.5 159.6C70.4 163.7 75.4 169.1 77.0 170.9" fill="none" stroke="#764c52" stroke-width="3.4" stroke-linecap="round"/><path d="M38.0 51.3C38.3 52.7 39.9 56.8 39.9 59.8C39.9 62.8 38.9 66.4 38.0 69.2C37.0 72.1 34.7 75.5 34.0 76.8" fill="none" stroke="#6e4c52" stroke-width="2.3" stroke-linecap="round"/><ellipse cx="31.8" cy="150.2" rx="4.7" ry="5.7" fill="#814c52"/><ellipse cx="41.6" cy="163.8" rx="2.6" ry="2.6" fill="#7c4c52"/><ellipse cx="49.6" cy="184.1" rx="2.6" ry="2.6" fill="#6e4c52"/><ellipse cx="35.1" cy="187.9" rx="1.9" ry="2.3" fill="#764c52"/><ellipse cx="54.4" cy="152.1" rx="5.7" ry="2.3" fill="#5e4c52" transform="rotate(35 54.4 152.1)"/><ellipse cx="38.9" cy="55.1" rx="1.1" ry="3.0" fill="#524c52" transform="rotate(5 38.9 55.1)"/><ellipse cx="53.4" cy="152.1" rx="2.3" ry="1.1" fill="#454c52" transform="rotate(35 53.4 152.1)"/></g><g filter="url(#b3)"><path d="M112.8 -2.3C93.4 2.4 106.2 10.5 102.4 16.5C98.6 22.5 93.4 27.5 90.1 33.4C86.9 39.4 84.7 46.0 82.6 52.3C80.6 58.6 78.8 64.8 77.9 71.1C77.0 77.4 76.5 84.3 77.0 89.9C77.4 95.6 78.8 100.0 80.7 105.0C82.6 110.0 84.8 115.4 88.3 120.1C91.7 124.8 97.1 129.5 101.4 133.3C105.8 137.0 112.6 138.9 114.6 142.7C116.7 146.5 114.3 151.2 113.7 155.9C113.1 160.6 112.0 166.2 110.9 170.9C109.8 175.7 109.6 180.0 107.1 184.1C104.6 188.2 99.3 192.0 95.8 195.4C92.3 198.9 66.0 203.3 86.4 204.8C106.8 206.4 196.3 240.9 218.2 204.8C240.2 168.7 235.8 22.8 218.2 -11.8C200.7 -46.3 132.1 -7.1 112.8 -2.3Z" fill="#5c3824"/></g><g filter="url(#b3_5)"><path d="M120.3 -2.3C101.8 2.7 111.3 12.1 107.1 18.4C102.9 24.6 98.2 29.4 94.9 35.3C91.6 41.3 89.4 47.9 87.3 54.2C85.3 60.4 83.5 67.0 82.6 73.0C81.8 79.0 81.8 84.6 82.2 89.9C82.7 95.3 83.6 100.3 85.4 105.0C87.2 109.7 89.7 113.8 93.0 118.2C96.3 122.6 100.7 127.6 105.2 131.4C109.8 135.2 118.1 136.7 120.3 140.8C122.5 144.9 119.3 150.8 118.4 155.9C117.5 160.9 116.0 166.2 114.6 170.9C113.2 175.7 112.4 179.7 109.9 184.1C107.4 188.5 102.2 193.9 99.6 197.3C96.9 200.8 74.1 203.6 93.9 204.8C113.7 206.1 197.5 240.9 218.2 204.8C239.0 168.7 234.6 22.8 218.2 -11.8C201.9 -46.3 138.8 -7.4 120.3 -2.3Z" fill="#433824"/><path d="M158.0 -2.3C148.5 3.0 159.8 13.0 161.7 20.3C163.6 27.5 166.1 35.3 169.3 41.0C172.4 46.6 172.4 50.4 180.6 54.2C188.7 57.9 212.0 74.6 218.2 63.6C224.5 52.6 228.3 -0.8 218.2 -11.8C208.2 -22.8 167.4 -7.7 158.0 -2.3Z" fill="#603824"/><ellipse cx="197.5" cy="14.6" rx="9.4" ry="20.7" fill="#783824"/><ellipse cx="191.9" cy="56.0" rx="11.3" ry="3.8" fill="#723824" transform="rotate(10 191.9 56.0)"/><ellipse cx="173.0" cy="14.6" rx="5.7" ry="17.0" fill="#563824" transform="rotate(10 173.0 14.6)"/><ellipse cx="201.3" cy="150.2" rx="5.7" ry="13.2" fill="#813824"/></g><g filter="url(#b4)"><path d="M97.7 54.2C99.9 47.3 101.4 40.0 105.2 35.3C109.0 30.6 114.0 27.2 120.3 25.9C126.6 24.6 136.6 25.6 142.9 27.8C149.2 30.0 155.8 34.4 158.0 39.1C160.2 43.8 158.0 50.7 156.1 56.0C154.2 61.4 145.7 67.0 146.7 71.1C147.6 75.2 156.1 78.0 161.7 80.5C167.4 83.0 171.1 84.6 180.6 86.2C190.0 87.7 212.0 80.5 218.2 89.9C224.5 99.4 227.6 133.6 218.2 142.7C208.8 151.8 177.4 145.5 161.7 144.6C146.0 143.6 133.5 140.5 124.1 137.0C114.6 133.6 110.2 129.2 105.2 123.9C100.2 118.5 96.1 112.9 93.9 105.0C91.7 97.2 91.4 85.2 92.0 76.8C92.7 68.3 95.5 61.1 97.7 54.2Z" fill="#2f1f14"/><path d="M112.8 157.8C115.9 152.4 122.2 149.6 127.8 148.3C133.5 147.1 141.0 148.3 146.7 150.2C152.3 152.1 157.3 155.9 161.7 159.6C166.1 163.4 169.9 165.3 173.0 172.8C176.2 180.4 191.5 199.5 180.6 204.8C169.6 210.2 119.0 208.9 107.1 204.8C95.2 200.8 108.0 188.2 109.0 180.4C109.9 172.5 109.6 163.1 112.8 157.8Z" fill="#2d1f14"/><ellipse cx="180.6" cy="180.4" rx="22.6" ry="28.3" fill="#351f14"/></g><g filter="url(#b4)"><path d="M105.2 141.2C108.4 141.3 117.8 141.3 124.1 142.1C130.3 142.9 137.1 144.3 142.9 145.9C148.7 147.5 156.2 150.6 158.9 151.5" fill="none" stroke="#683824" stroke-width="6.4" stroke-linecap="round"/></g><g filter="url(#b1_5)"><path d="M97.7 97.5C98.6 94.3 100.8 95.0 105.2 93.7C109.6 92.5 117.1 90.9 124.1 89.9C131.0 89.0 139.1 88.2 146.7 88.1C154.2 87.9 163.6 87.4 169.3 89.0C174.9 90.6 178.0 93.6 180.6 97.5C183.1 101.4 184.3 107.5 184.3 112.6C184.3 117.6 183.1 123.9 180.6 127.6C178.0 131.4 173.7 134.5 169.3 135.2C164.9 135.8 158.6 133.3 154.2 131.4C149.8 129.5 146.0 123.9 142.9 123.9C139.7 123.9 139.1 129.8 135.4 131.4C131.6 133.0 125.0 134.5 120.3 133.3C115.6 132.0 110.6 127.3 107.1 123.9C103.6 120.4 101.1 116.9 99.6 112.6C98.0 108.2 96.7 100.6 97.7 97.5Z" fill="#160908"/><ellipse cx="103.3" cy="60.8" rx="2.4" ry="2.8" fill="#1a0908"/><ellipse cx="107.5" cy="67.9" rx="3.0" ry="3.0" fill="#180908"/><ellipse cx="98.1" cy="78.6" rx="2.6" ry="2.6" fill="#160908"/><ellipse cx="122.2" cy="41.4" rx="7.5" ry="2.6" fill="#220908" transform="rotate(-10 122.2 41.4)"/><ellipse cx="196.6" cy="80.5" rx="7.5" ry="9.4" fill="#1e0908"/><ellipse cx="196.6" cy="114.4" rx="5.7" ry="7.5" fill="#1e0908"/><ellipse cx="173.0" cy="140.8" rx="9.4" ry="5.3" fill="#210908"/><ellipse cx="199.4" cy="137.0" rx="2.6" ry="3.0" fill="#1c0908"/><path d="M116.5 157.8C118.6 154.6 123.4 151.2 127.8 150.2C132.2 149.3 137.9 150.2 142.9 152.1C147.9 154.0 153.9 158.1 158.0 161.5C162.0 165.0 165.2 168.4 167.4 172.8C169.6 177.2 170.7 182.6 171.1 187.9C171.6 193.2 179.9 202.0 170.2 204.8C160.5 207.7 122.3 208.9 112.8 204.8C103.2 200.8 112.3 186.3 112.8 180.4C113.2 174.4 114.9 172.8 115.6 169.1C116.2 165.3 114.5 160.9 116.5 157.8Z" fill="#160908"/></g><g filter="url(#b0_6)"><ellipse cx="131.6" cy="162.5" rx="3.8" ry="7.9" fill="#080000" transform="rotate(-10 131.6 162.5)"/><ellipse cx="137.2" cy="158.1" rx="1.5" ry="4.1" fill="#080000" transform="rotate(-10 137.2 158.1)"/><ellipse cx="148.5" cy="163.4" rx="1.1" ry="0.9" fill="#080000"/><ellipse cx="152.3" cy="102.2" rx="1.7" ry="1.5" fill="#080000"/><ellipse cx="162.7" cy="104.1" rx="1.1" ry="0.8" fill="#080000"/><ellipse cx="125.0" cy="117.3" rx="0.9" ry="1.1" fill="#080000"/><ellipse cx="98.1" cy="78.6" rx="0.9" ry="0.9" fill="#0a0000"/></g></g></svg>
<svg x="354.5" y="147.3" width="124.8" height="124.0" viewBox="0 0 200 200" preserveAspectRatio="none"><g filter="url(#gr2)"><rect x="-5" y="-5" width="260" height="260" fill="#d80f0d"/><g filter="url(#b6)"><ellipse cx="86.4" cy="33.4" rx="24.5" ry="37.7" fill="#ca0f0d"/><ellipse cx="39.3" cy="112.6" rx="26.4" ry="17.0" fill="#e00f0d"/><ellipse cx="29.9" cy="170.9" rx="37.7" ry="30.1" fill="#ca0f0d"/><ellipse cx="90.1" cy="157.8" rx="11.3" ry="28.3" fill="#c60f0d"/><ellipse cx="48.7" cy="48.5" rx="11.3" ry="18.8" fill="#ce0f0d" transform="rotate(30 48.7 48.5)"/></g><g filter="url(#b2)"><ellipse cx="23.3" cy="152.1" rx="4.7" ry="13.2" fill="#a94c52" transform="rotate(-20 23.3 152.1)"/><ellipse cx="3.5" cy="170.9" rx="3.8" ry="7.5" fill="#ad4c52"/><ellipse cx="11.0" cy="182.2" rx="9.4" ry="2.3" fill="#b14c52"/><ellipse cx="71.3" cy="180.4" rx="2.3" ry="5.7" fill="#ad4c52" transform="rotate(-15 71.3 180.4)"/><ellipse cx="54.4" cy="142.7" rx="5.7" ry="2.6" fill="#b14c52" transform="rotate(20 54.4 142.7)"/><ellipse cx="84.5" cy="14.6" rx="2.3" ry="1.9" fill="#ad4c52"/><ellipse cx="97.7" cy="7.1" rx="2.3" ry="1.9" fill="#ad4c52"/><ellipse cx="92.0" cy="20.3" rx="2.3" ry="1.9" fill="#ad4c52"/><ellipse cx="80.7" cy="3.3" rx="1.9" ry="1.5" fill="#ad4c52"/><ellipse cx="44.9" cy="26.8" rx="1.5" ry="3.8" fill="#a94c52"/><ellipse cx="67.5" cy="27.8" rx="1.5" ry="2.6" fill="#ad4c52"/><ellipse cx="23.3" cy="69.2" rx="3.8" ry="9.0" fill="#a14c52" transform="rotate(25 23.3 69.2)"/><ellipse cx="52.5" cy="11.8" rx="6.8" ry="3.0" fill="#a14c52" transform="rotate(20 52.5 11.8)"/><ellipse cx="39.3" cy="20.3" rx="4.7" ry="1.5" fill="#a54c52" transform="rotate(-30 39.3 20.3)"/><ellipse cx="3.5" cy="191.7" rx="5.7" ry="7.5" fill="#ad4c52"/><path d="M67.5 65.5C67.1 68.3 65.2 76.8 64.7 82.4C64.2 88.1 64.2 94.3 64.7 99.4C65.2 104.4 65.8 107.8 67.5 112.6C69.3 117.3 71.9 122.9 75.1 127.6C78.2 132.3 84.5 138.6 86.4 140.8" fill="none" stroke="#a14c52" stroke-width="7.5" stroke-linecap="round"/><path d="M67.5 135.2C69.1 138.9 73.5 150.8 77.0 157.8C80.4 164.7 84.8 170.9 88.3 176.6C91.7 182.2 95.2 187.0 97.7 191.7C100.2 196.4 102.4 202.6 103.3 204.8" fill="none" stroke="#a14c52" stroke-width="10.5" stroke-linecap="round"/><path d="M75.1 54.2C74.8 57.3 72.6 66.4 73.2 73.0C73.8 79.6 76.0 87.7 78.8 93.7C81.7 99.7 86.7 105.2 90.1 108.8C93.6 112.4 98.0 114.3 99.6 115.4" fill="none" stroke="#a14c52" stroke-width="2.6" stroke-linecap="round"/><ellipse cx="89.2" cy="119.1" rx="3.0" ry="2.6" fill="#994c52"/><ellipse cx="113.7" cy="127.2" rx="8.5" ry="2.3" fill="#ad4c52"/></g><g filter="url(#b1_5)"><path d="M67.2 71.1C66.8 73.6 65.3 81.5 64.9 86.2C64.5 90.9 64.4 95.0 64.9 99.4C65.4 103.8 66.1 107.8 67.9 112.6C69.8 117.3 72.8 122.9 76.0 127.6C79.3 132.3 85.4 138.6 87.3 140.8" fill="none" stroke="#7c4c52" stroke-width="3.0" stroke-linecap="round"/><path d="M71.3 142.7C72.9 145.8 77.6 155.9 80.7 161.5C83.9 167.2 87.3 171.6 90.1 176.6C93.0 181.6 95.6 187.0 97.7 191.7C99.7 196.4 101.6 202.6 102.4 204.8" fill="none" stroke="#724c52" stroke-width="4.1" stroke-linecap="round"/><ellipse cx="23.3" cy="69.2" rx="1.7" ry="6.8" fill="#7c4c52" transform="rotate(25 23.3 69.2)"/><ellipse cx="52.5" cy="11.8" rx="4.1" ry="1.3" fill="#7c4c52" transform="rotate(20 52.5 11.8)"/><ellipse cx="64.7" cy="99.7" rx="2.4" ry="3.0" fill="#4b4c52"/><ellipse cx="89.2" cy="119.1" rx="1.7" ry="1.5" fill="#6e4c52"/></g><g filter="url(#b2)"><path d="M112.8 -4.2C92.7 1.7 102.5 16.2 97.7 24.0C92.8 31.9 86.9 35.6 83.6 42.9C80.2 50.1 77.8 59.5 77.3 67.3C76.9 75.2 78.0 83.0 80.7 89.9C83.5 96.9 89.2 103.1 93.9 108.8C98.6 114.4 105.8 118.5 109.0 123.9C112.1 129.2 111.8 134.5 112.8 140.8C113.7 147.1 115.6 154.9 114.6 161.5C113.7 168.1 109.9 173.1 107.1 180.4C104.3 187.6 79.2 200.8 97.7 204.8C116.2 208.9 198.1 240.9 218.2 204.8C238.3 168.7 235.8 23.1 218.2 -11.8C200.7 -46.6 132.8 -10.2 112.8 -4.2Z" fill="#a34c52"/></g><g filter="url(#b3)"><path d="M122.2 -4.2C103.0 1.7 109.0 16.2 103.3 24.0C97.7 31.9 92.0 35.6 88.3 42.9C84.5 50.1 81.5 59.5 80.7 67.3C80.0 75.2 81.3 83.2 83.9 89.9C86.6 96.7 91.9 102.5 96.7 107.8C101.5 113.2 109.5 116.5 112.8 122.0C116.0 127.5 115.7 134.2 116.5 140.8C117.3 147.4 118.4 154.9 117.5 161.5C116.5 168.1 113.2 173.1 110.9 180.4C108.5 187.6 85.4 200.8 103.3 204.8C121.2 208.9 199.1 240.9 218.2 204.8C237.4 168.7 234.2 23.1 218.2 -11.8C202.2 -46.6 141.3 -10.2 122.2 -4.2Z" fill="#7e4c52"/><ellipse cx="182.4" cy="18.4" rx="20.7" ry="11.3" fill="#a14c52" transform="rotate(-40 182.4 18.4)"/><ellipse cx="195.6" cy="54.2" rx="5.7" ry="17.0" fill="#994c52" transform="rotate(10 195.6 54.2)"/><ellipse cx="173.0" cy="3.3" rx="11.3" ry="4.7" fill="#a14c52"/></g><g filter="url(#b3_5)"><ellipse cx="139.1" cy="64.5" rx="59.9" ry="58.0" fill="#5c3824"/><path d="M112.8 138.9C113.8 134.1 119.0 133.1 124.1 132.3C129.1 131.5 136.6 134.4 142.9 134.2C149.2 134.1 155.4 133.1 161.7 131.4C168.0 129.7 171.1 123.9 180.6 123.9C190.0 123.9 212.0 117.9 218.2 131.4C224.5 144.9 237.1 192.6 218.2 204.8C199.4 217.1 122.8 208.9 105.2 204.8C87.6 200.8 110.7 187.6 112.8 180.4C114.8 173.1 117.5 168.4 117.5 161.5C117.5 154.6 111.7 143.8 112.8 138.9Z" fill="#5c3824"/></g><g filter="url(#b3_5)"><ellipse cx="138.7" cy="65.1" rx="55.6" ry="53.7" fill="#413824"/><path d="M115.6 140.8C116.2 136.6 119.5 136.6 124.1 136.1C128.6 135.6 136.6 137.8 142.9 138.0C149.2 138.1 155.4 137.5 161.7 137.0C168.0 136.6 175.2 134.2 180.6 135.2C185.9 136.1 191.1 131.1 193.7 142.7C196.4 154.3 210.9 194.5 196.6 204.8C182.3 215.2 121.5 208.9 108.0 204.8C94.5 200.8 113.5 187.6 115.6 180.4C117.6 173.1 120.3 168.1 120.3 161.5C120.3 154.9 114.9 145.0 115.6 140.8Z" fill="#413824"/></g><g filter="url(#b3_5)"><path d="M105.2 128.0C108.4 128.5 117.8 130.7 124.1 130.8C130.3 131.0 136.6 130.3 142.9 128.9C149.2 127.5 156.5 124.4 161.7 122.3C166.9 120.3 171.9 117.6 174.0 116.7" fill="none" stroke="#934c52" stroke-width="10.9" stroke-linecap="round"/><path d="M173.0 123.9C175.5 125.0 182.8 128.4 188.1 130.4C193.4 132.5 202.2 135.2 205.0 136.1" fill="none" stroke="#6e4c52" stroke-width="7.5" stroke-linecap="round"/></g><g filter="url(#b2)"><path d="M135.4 130.4C137.9 130.0 145.4 129.2 150.4 127.6C155.4 126.0 163.0 122.1 165.5 121.0" fill="none" stroke="#a74c52" stroke-width="4.1" stroke-linecap="round"/></g><g filter="url(#b5)"><ellipse cx="136.9" cy="65.5" rx="49.4" ry="44.8" fill="#2a1f14"/><ellipse cx="191.9" cy="114.4" rx="17.0" ry="20.7" fill="#2f1f14"/><ellipse cx="142.9" cy="172.8" rx="37.7" ry="35.8" fill="#2d1f14"/></g><g filter="url(#b2_5)"><path d="M97.7 67.3C98.9 62.0 104.6 57.0 109.0 54.2C113.4 51.3 119.0 51.3 124.1 50.4C129.1 49.4 135.0 46.9 139.1 48.5C143.2 50.1 147.3 55.4 148.5 59.8C149.8 64.2 148.2 70.5 146.7 74.9C145.1 79.3 141.0 82.4 139.1 86.2C137.2 89.9 137.9 94.3 135.4 97.5C132.8 100.6 126.9 103.1 124.1 105.0C121.2 106.9 120.9 109.7 118.4 108.8C115.9 107.8 111.8 103.1 109.0 99.4C106.2 95.6 103.3 91.5 101.4 86.2C99.6 80.8 96.4 72.7 97.7 67.3Z" fill="#160908"/></g><g filter="url(#b1_5)"><ellipse cx="158.0" cy="89.9" rx="6.8" ry="9.8" fill="#1e0908" transform="rotate(-30 158.0 89.9)"/><ellipse cx="173.0" cy="99.7" rx="4.7" ry="3.4" fill="#1e0908"/><ellipse cx="190.0" cy="113.5" rx="10.9" ry="8.5" fill="#1e0908"/><ellipse cx="192.8" cy="104.6" rx="3.8" ry="2.6" fill="#1c0908"/><ellipse cx="197.9" cy="128.0" rx="3.4" ry="3.0" fill="#1e0908"/><path d="M114.6 140.8C115.9 138.3 123.4 137.0 127.8 137.0C132.2 137.0 137.9 138.9 141.0 140.8C144.1 142.7 146.3 145.5 146.7 148.3C147.0 151.2 144.8 155.6 142.9 157.8C141.0 160.0 137.9 161.8 135.4 161.5C132.8 161.2 130.3 157.4 127.8 155.9C125.3 154.3 122.5 154.6 120.3 152.1C118.1 149.6 113.4 143.3 114.6 140.8Z" fill="#1e0908"/><path d="M122.2 172.8C124.7 170.0 130.6 168.1 135.4 167.2C140.1 166.2 146.0 166.5 150.4 167.2C154.8 167.8 158.0 168.7 161.7 170.9C165.5 173.1 170.7 174.7 173.0 180.4C175.4 186.0 184.3 200.8 175.9 204.8C167.4 208.9 131.4 208.3 122.2 204.8C112.9 201.4 120.3 189.5 120.3 184.1C120.3 178.8 119.7 175.7 122.2 172.8Z" fill="#1c0908"/><ellipse cx="156.1" cy="136.1" rx="3.0" ry="3.8" fill="#1a0908"/></g><g filter="url(#b0_6)"><ellipse cx="117.5" cy="92.8" rx="3.2" ry="6.0" fill="#080000"/><ellipse cx="106.2" cy="80.5" rx="1.1" ry="0.8" fill="#080000"/><ellipse cx="109.9" cy="87.1" rx="1.3" ry="0.9" fill="#080000"/><ellipse cx="125.9" cy="91.8" rx="0.8" ry="0.9" fill="#080000"/><ellipse cx="118.8" cy="104.1" rx="1.1" ry="1.5" fill="#080000"/><ellipse cx="135.7" cy="168.5" rx="2.3" ry="1.5" fill="#080000" transform="rotate(-30 135.7 168.5)"/></g></g></svg>
<svg x="497" y="147.3" width="124.8" height="124.0" viewBox="0 0 200 200" preserveAspectRatio="none"><g filter="url(#gr3)"><rect x="-5" y="-5" width="260" height="260" fill="#db0f0d"/><g filter="url(#b6)"><ellipse cx="80.7" cy="18.4" rx="33.9" ry="20.7" fill="#ca0f0d"/><ellipse cx="39.3" cy="180.4" rx="49.0" ry="22.6" fill="#c40f0d"/><ellipse cx="14.8" cy="25.9" rx="15.1" ry="11.3" fill="#ce0f0d"/><ellipse cx="67.5" cy="54.2" rx="9.4" ry="22.6" fill="#ce0f0d"/></g><g filter="url(#b2)"><path d="M9.2 161.5C14.5 160.3 24.5 167.8 29.9 172.8C35.2 177.8 39.9 186.3 41.2 191.7C42.4 197.0 44.6 202.6 37.4 204.8C30.2 207.0 4.4 208.9 -2.1 204.8C-8.7 200.8 -4.0 187.6 -2.1 180.4C-0.3 173.1 3.8 162.8 9.2 161.5Z" fill="#a54c52"/><ellipse cx="48.7" cy="167.2" rx="4.1" ry="2.6" fill="#b14c52" transform="rotate(30 48.7 167.2)"/><ellipse cx="63.8" cy="191.7" rx="6.4" ry="3.8" fill="#ad4c52" transform="rotate(30 63.8 191.7)"/><ellipse cx="56.2" cy="159.6" rx="5.7" ry="1.9" fill="#b14c52" transform="rotate(20 56.2 159.6)"/><ellipse cx="80.7" cy="167.2" rx="7.5" ry="4.1" fill="#a94c52" transform="rotate(30 80.7 167.2)"/><ellipse cx="28.9" cy="45.7" rx="5.7" ry="11.7" fill="#a14c52" transform="rotate(30 28.9 45.7)"/><ellipse cx="15.7" cy="53.2" rx="3.0" ry="1.5" fill="#ad4c52" transform="rotate(-30 15.7 53.2)"/></g><g filter="url(#b1_5)"><ellipse cx="28.9" cy="45.7" rx="3.0" ry="8.7" fill="#5a4c52" transform="rotate(30 28.9 45.7)"/><ellipse cx="24.2" cy="192.6" rx="10.4" ry="4.1" fill="#564c52" transform="rotate(25 24.2 192.6)"/><ellipse cx="28.0" cy="46.6" rx="1.5" ry="5.7" fill="#434c52" transform="rotate(30 28.0 46.6)"/><ellipse cx="24.2" cy="193.2" rx="6.8" ry="2.1" fill="#434c52" transform="rotate(25 24.2 193.2)"/></g><g filter="url(#b1_5)"><path d="M117.5 -4.2C98.6 0.5 109.1 10.2 105.2 16.5C101.3 22.8 97.7 28.1 93.9 33.4C90.1 38.8 85.4 42.9 82.6 48.5C79.8 54.2 78.5 61.1 77.0 67.3C75.4 73.6 74.1 79.9 73.2 86.2C72.3 92.5 71.3 98.7 71.3 105.0C71.3 111.3 72.6 117.6 73.2 123.9C73.8 130.1 74.5 137.0 75.1 142.7C75.7 148.3 76.0 152.7 77.0 157.8C77.9 162.8 79.8 167.8 80.7 172.8C81.7 177.8 82.6 182.6 82.6 187.9C82.6 193.2 58.1 202.0 80.7 204.8C103.3 207.7 195.3 240.9 218.2 204.8C241.1 168.7 235.0 23.1 218.2 -11.8C201.4 -46.6 136.3 -8.9 117.5 -4.2Z" fill="#a94c52"/></g><g filter="url(#b3)"><path d="M126.9 -4.2C109.3 0.8 117.3 11.5 112.8 18.4C108.2 25.3 103.5 30.9 99.6 37.2C95.6 43.5 91.8 49.8 89.2 56.0C86.6 62.3 85.3 68.0 83.9 74.9C82.5 81.8 80.9 89.9 80.7 97.5C80.5 105.0 82.0 112.6 82.6 120.1C83.2 127.6 82.0 136.4 84.5 142.7C87.0 149.0 94.9 151.5 97.7 157.8C100.5 164.0 102.1 172.5 101.4 180.4C100.8 188.2 74.5 200.8 93.9 204.8C113.4 208.9 197.5 240.9 218.2 204.8C239.0 168.7 233.5 23.1 218.2 -11.8C203.0 -46.6 144.5 -9.3 126.9 -4.2Z" fill="#7c4c52"/><ellipse cx="191.9" cy="18.4" rx="7.9" ry="15.1" fill="#a94c52"/><ellipse cx="86.4" cy="170.9" rx="9.4" ry="11.3" fill="#a14c52" transform="rotate(-20 86.4 170.9)"/><ellipse cx="82.6" cy="82.4" rx="1.9" ry="11.3" fill="#a94c52" transform="rotate(5 82.6 82.4)"/><ellipse cx="80.7" cy="48.5" rx="2.3" ry="9.4" fill="#a54c52" transform="rotate(20 80.7 48.5)"/><path d="M161.7 105.0C164.9 105.3 173.3 105.6 180.6 106.9C187.8 108.2 201.0 111.6 205.0 112.6" fill="none" stroke="#9d4c52" stroke-width="8.7" stroke-linecap="round"/><ellipse cx="135.4" cy="110.7" rx="5.7" ry="1.9" fill="#994c52"/><ellipse cx="97.7" cy="135.2" rx="7.5" ry="2.3" fill="#994c52" transform="rotate(-40 97.7 135.2)"/><ellipse cx="103.3" cy="148.3" rx="5.7" ry="1.9" fill="#994c52" transform="rotate(-30 103.3 148.3)"/></g><g filter="url(#b4)"><path d="M84.5 74.9C84.0 68.9 86.2 60.6 89.2 54.2C92.2 47.7 96.6 41.3 102.4 36.3C108.2 31.2 116.4 26.4 124.1 24.0C131.7 21.7 141.6 21.2 148.5 22.1C155.4 23.1 159.8 25.9 165.5 29.7C171.1 33.4 177.1 40.0 182.4 44.7C187.8 49.4 194.1 52.9 197.5 57.9C201.0 62.9 203.2 69.5 203.2 74.9C203.2 80.2 201.3 86.0 197.5 89.9C193.7 93.9 186.5 96.2 180.6 98.4C174.6 100.6 168.0 102.0 161.7 103.1C155.4 104.2 149.2 105.0 142.9 105.0C136.6 105.0 130.3 104.1 124.1 103.1C117.8 102.2 110.6 101.6 105.2 99.4C99.9 97.2 95.5 94.0 92.0 89.9C88.6 85.9 85.0 80.8 84.5 74.9Z" fill="#5c3824"/><path d="M107.1 140.8C110.6 135.5 114.6 129.7 120.3 125.7C125.9 121.8 133.2 118.7 141.0 117.3C148.9 115.8 159.5 115.8 167.4 117.3C175.2 118.7 182.6 121.8 188.1 125.7C193.6 129.7 195.3 134.8 200.3 140.8C205.4 146.8 215.2 150.8 218.2 161.5C221.2 172.2 239.3 197.6 218.2 204.8C197.2 212.1 112.4 208.9 92.0 204.8C71.6 200.8 94.5 188.2 95.8 180.4C97.1 172.5 97.7 164.3 99.6 157.8C101.4 151.2 103.6 146.1 107.1 140.8Z" fill="#5c3824"/><path d="M93.9 97.5C94.5 100.6 95.8 110.7 97.7 116.3C99.6 122.0 103.3 127.0 105.2 131.4C107.1 135.8 108.4 140.8 109.0 142.7" fill="none" stroke="#663824" stroke-width="5.7" stroke-linecap="round"/><ellipse cx="156.1" cy="12.7" rx="22.6" ry="5.7" fill="#663824" transform="rotate(-30 156.1 12.7)"/><ellipse cx="112.8" cy="120.1" rx="7.5" ry="11.3" fill="#683824" transform="rotate(-20 112.8 120.1)"/></g><g filter="url(#b4)"><path d="M90.1 73.0C89.7 67.9 92.2 60.5 94.9 55.1C97.5 49.7 101.1 44.7 106.2 40.6C111.2 36.5 118.2 32.6 125.0 30.6C131.7 28.6 140.5 27.8 146.7 28.7C152.8 29.7 156.7 32.8 161.7 36.3C166.7 39.7 171.8 45.4 176.8 49.4C181.8 53.5 188.5 56.8 191.9 60.8C195.3 64.7 197.1 69.2 197.1 73.4C197.1 77.5 195.3 82.5 191.9 85.8C188.5 89.1 181.8 91.5 176.8 93.3C171.8 95.2 167.4 96.2 161.7 97.1C156.1 98.0 149.2 99.0 142.9 99.0C136.6 99.0 129.6 98.0 124.1 97.1C118.5 96.2 113.8 95.2 109.4 93.3C105.0 91.5 100.9 89.2 97.7 85.8C94.5 82.4 90.6 78.1 90.1 73.0Z" fill="#433824"/><path d="M112.8 142.7C116.0 138.0 120.0 133.7 125.0 130.4C130.0 127.1 136.1 124.2 142.9 122.9C149.6 121.7 158.6 121.7 165.5 122.9C172.4 124.2 179.3 127.0 184.3 130.4C189.3 133.9 192.8 138.4 195.6 143.6C198.5 148.8 197.5 151.3 201.3 161.5C205.0 171.7 235.5 197.6 218.2 204.8C201.0 212.1 117.1 208.9 97.7 204.8C78.3 200.8 100.5 188.1 101.8 180.4C103.1 172.7 103.8 165.0 105.6 158.7C107.4 152.4 109.5 147.4 112.8 142.7Z" fill="#433824"/><ellipse cx="110.9" cy="111.0" rx="4.5" ry="4.1" fill="#3f3824"/></g><g filter="url(#b4)"><path d="M107.1 48.5C109.6 41.6 114.3 37.5 120.3 35.3C126.2 33.1 137.9 33.1 142.9 35.3C147.9 37.5 147.3 43.8 150.4 48.5C153.6 53.2 158.3 59.8 161.7 63.6C165.2 67.3 169.3 67.3 171.1 71.1C173.0 74.9 175.2 82.4 173.0 86.2C170.8 89.9 164.2 93.1 158.0 93.7C151.7 94.3 142.3 90.9 135.4 89.9C128.4 89.0 121.5 90.3 116.5 88.1C111.5 85.9 106.8 83.4 105.2 76.8C103.6 70.2 104.6 55.4 107.1 48.5Z" fill="#2d1f14"/><path d="M116.5 142.7C121.2 136.1 128.4 133.6 135.4 131.4C142.3 129.2 151.0 128.2 158.0 129.5C164.9 130.8 171.8 134.2 176.8 138.9C181.8 143.6 186.2 150.8 188.1 157.8C190.0 164.7 189.3 172.5 188.1 180.4C186.8 188.2 194.4 200.8 180.6 204.8C166.7 208.9 117.4 210.5 105.2 204.8C93.0 199.2 105.6 181.3 107.5 170.9C109.4 160.6 111.9 149.3 116.5 142.7Z" fill="#2d1f14"/></g><g filter="url(#b1_5)"><path d="M109.0 74.9C109.6 72.4 113.4 68.9 116.5 67.3C119.7 65.8 124.4 65.1 127.8 65.5C131.3 65.8 135.0 67.7 137.2 69.2C139.4 70.8 141.3 72.7 141.0 74.9C140.7 77.1 138.2 80.8 135.4 82.4C132.5 84.0 127.8 84.3 124.1 84.3C120.3 84.3 115.3 84.0 112.8 82.4C110.2 80.8 108.4 77.4 109.0 74.9Z" fill="#160908"/><path d="M146.7 73.0C147.6 71.0 151.4 67.3 154.2 66.4C157.0 65.5 161.1 65.9 163.6 67.3C166.1 68.8 168.6 72.1 169.3 74.9C169.9 77.7 168.9 81.8 167.4 84.3C165.8 86.8 162.4 89.9 159.8 89.9C157.3 89.9 154.2 86.2 152.3 84.3C150.4 82.4 149.5 80.5 148.5 78.6C147.6 76.8 145.7 75.0 146.7 73.0Z" fill="#1c0908"/><ellipse cx="127.8" cy="50.8" rx="17.3" ry="4.1" fill="#210908" transform="rotate(-5 127.8 50.8)"/><ellipse cx="114.6" cy="58.3" rx="5.7" ry="2.6" fill="#1e0908" transform="rotate(-20 114.6 58.3)"/><ellipse cx="112.8" cy="110.3" rx="1.9" ry="1.7" fill="#270908"/><path d="M120.3 146.5C122.2 144.9 124.4 152.1 127.8 152.1C131.3 152.1 137.2 148.0 141.0 146.5C144.8 144.9 147.6 141.7 150.4 142.7C153.2 143.6 156.4 148.0 158.0 152.1C159.5 156.2 158.9 162.5 159.8 167.2C160.8 171.9 164.2 176.3 163.6 180.4C163.0 184.4 159.5 188.8 156.1 191.7C152.6 194.5 147.0 197.0 142.9 197.3C138.8 197.6 134.7 195.4 131.6 193.5C128.4 191.7 127.2 188.2 124.1 186.0C120.9 183.8 115.3 182.6 112.8 180.4C110.2 178.2 108.4 176.0 109.0 172.8C109.6 169.7 114.6 165.9 116.5 161.5C118.4 157.1 118.4 148.0 120.3 146.5Z" fill="#160908"/></g><g filter="url(#b0_6)"><ellipse cx="115.6" cy="75.8" rx="3.0" ry="5.3" fill="#080000" transform="rotate(-10 115.6 75.8)"/><ellipse cx="152.3" cy="78.6" rx="1.1" ry="1.1" fill="#080000"/><ellipse cx="126.3" cy="159.3" rx="1.7" ry="2.4" fill="#080000" transform="rotate(15 126.3 159.3)"/><ellipse cx="128.2" cy="166.2" rx="1.1" ry="1.1" fill="#080000"/></g></g></svg>
<svg x="639.5" y="147.3" width="124.8" height="124.0" viewBox="0 0 200 200" preserveAspectRatio="none"><g filter="url(#gr4)"><rect x="-5" y="-5" width="260" height="260" fill="#d80f0d"/><g filter="url(#b6)"><ellipse cx="69.4" cy="54.2" rx="13.2" ry="56.5" fill="#c20f0d"/><ellipse cx="48.7" cy="189.8" rx="37.7" ry="9.4" fill="#c60f0d"/><ellipse cx="20.5" cy="39.1" rx="17.0" ry="22.6" fill="#d00f0d"/><ellipse cx="71.3" cy="138.9" rx="9.4" ry="22.6" fill="#c60f0d"/></g><g filter="url(#b1_5)"><ellipse cx="28.9" cy="27.8" rx="1.7" ry="2.1" fill="#a94c52"/><ellipse cx="16.7" cy="79.6" rx="1.7" ry="2.1" fill="#a94c52"/><ellipse cx="3.5" cy="100.3" rx="1.7" ry="2.1" fill="#a94c52"/><ellipse cx="28.0" cy="170.0" rx="1.7" ry="2.1" fill="#a94c52"/><ellipse cx="65.7" cy="16.5" rx="1.7" ry="2.1" fill="#a94c52"/><ellipse cx="73.2" cy="18.4" rx="1.7" ry="2.1" fill="#a94c52"/><ellipse cx="78.8" cy="9.0" rx="1.7" ry="2.1" fill="#a94c52"/><ellipse cx="69.4" cy="10.8" rx="1.7" ry="2.1" fill="#a94c52"/><ellipse cx="58.1" cy="37.2" rx="1.7" ry="2.1" fill="#a94c52"/><ellipse cx="63.8" cy="67.3" rx="1.7" ry="2.1" fill="#a94c52"/><ellipse cx="63.8" cy="89.9" rx="1.7" ry="2.1" fill="#a94c52"/><ellipse cx="67.5" cy="97.5" rx="1.7" ry="2.1" fill="#a94c52"/><ellipse cx="75.1" cy="80.5" rx="1.7" ry="2.1" fill="#a94c52"/><ellipse cx="71.3" cy="54.2" rx="1.7" ry="2.1" fill="#a94c52"/></g><g filter="url(#b2)"><path d="M9.2 189.8C14.2 189.5 30.8 189.9 39.3 187.9C47.8 185.9 54.4 178.9 60.0 177.5C65.7 176.1 67.9 178.9 73.2 179.4C78.5 179.9 88.9 180.2 92.0 180.4" fill="none" stroke="#a34c52" stroke-width="13.2" stroke-linecap="round"/></g><g filter="url(#b2)"><path d="M12.9 189.4C17.3 189.1 31.4 190.0 39.3 187.9C47.1 185.8 54.4 178.5 60.0 177.0C65.7 175.5 68.2 178.3 73.2 178.9C78.2 179.4 87.3 180.1 90.1 180.4" fill="none" stroke="#7a4c52" stroke-width="6.4" stroke-linecap="round"/><ellipse cx="54.4" cy="190.2" rx="7.5" ry="4.1" fill="#c04c52"/><ellipse cx="80.7" cy="190.2" rx="4.5" ry="4.5" fill="#c04c52"/><ellipse cx="16.7" cy="188.8" rx="7.2" ry="4.5" fill="#524c52" transform="rotate(30 16.7 188.8)"/><ellipse cx="60.0" cy="175.7" rx="3.4" ry="2.3" fill="#4b4c52" transform="rotate(20 60.0 175.7)"/><ellipse cx="16.3" cy="188.5" rx="5.3" ry="3.0" fill="#294c52" transform="rotate(30 16.3 188.5)"/></g><g filter="url(#b1_5)"><path d="M84.5 -15.5C60.4 -12.7 84.2 -7.4 84.9 -2.3C85.5 2.7 88.7 9.3 88.3 14.6C87.8 19.9 83.9 24.0 82.2 29.7C80.6 35.3 79.1 42.2 78.5 48.5C77.8 54.8 78.2 61.1 78.5 67.3C78.8 73.6 80.4 81.2 80.4 86.2C80.4 91.2 79.7 93.1 78.5 97.5C77.2 101.9 72.8 107.5 72.8 112.6C72.8 117.6 76.6 122.6 78.5 127.6C80.4 132.6 82.5 137.7 84.1 142.7C85.8 147.7 86.8 153.4 88.3 157.8C89.7 162.2 92.3 165.3 93.0 169.1C93.6 172.8 94.1 177.2 92.0 180.4C90.0 183.5 84.5 183.8 80.7 187.9C77.0 192.0 44.6 200.5 69.4 204.8C94.2 209.2 202.8 251.6 229.5 214.3C256.2 176.9 253.7 19.0 229.5 -19.3C205.4 -57.6 108.6 -18.4 84.5 -15.5Z" fill="#a94c52"/></g><g filter="url(#b3)"><path d="M94.9 -15.5C72.4 -12.7 94.2 -7.7 94.9 -2.3C95.5 3.0 99.0 10.5 98.6 16.5C98.2 22.5 94.5 27.5 92.6 33.4C90.7 39.4 88.5 46.0 87.3 52.3C86.2 58.6 85.5 64.8 85.8 71.1C86.1 77.4 88.5 84.3 89.2 89.9C89.9 95.6 90.3 100.0 90.1 105.0C90.0 110.0 87.9 115.1 88.3 120.1C88.6 125.1 90.6 130.1 92.0 135.2C93.5 140.2 95.7 145.8 97.1 150.2C98.5 154.6 99.5 156.5 100.5 161.5C101.5 166.5 104.9 173.1 103.3 180.4C101.8 187.6 70.1 199.2 91.1 204.8C112.1 210.5 206.5 251.6 229.5 214.3C252.6 176.9 252.0 19.0 229.5 -19.3C207.1 -57.6 117.3 -18.4 94.9 -15.5Z" fill="#7e4c52"/></g><g filter="url(#b4_5)"><path d="M109.0 -4.2C90.1 1.1 107.1 13.0 105.2 20.3C103.3 27.5 99.9 32.8 97.7 39.1C95.5 45.4 93.3 51.6 92.0 57.9C90.8 64.2 89.7 70.2 90.1 76.8C90.6 83.4 93.8 90.3 94.9 97.5C96.0 104.7 95.8 113.2 96.7 120.1C97.7 127.0 99.1 133.3 100.5 138.9C101.9 144.6 104.1 147.1 105.2 154.0C106.3 160.9 108.4 171.9 107.1 180.4C105.8 188.8 79.2 200.8 97.7 204.8C116.2 208.9 198.1 240.9 218.2 204.8C238.3 168.7 236.4 23.1 218.2 -11.8C200.0 -46.6 127.8 -9.6 109.0 -4.2Z" fill="#5e3824"/><ellipse cx="190.0" cy="63.6" rx="11.3" ry="24.5" fill="#703824" transform="rotate(10 190.0 63.6)"/><ellipse cx="161.7" cy="18.4" rx="7.5" ry="18.8" fill="#6c3824" transform="rotate(20 161.7 18.4)"/><ellipse cx="197.5" cy="155.9" rx="7.5" ry="24.5" fill="#6e3824"/><path d="M112.8 106.0C117.8 105.5 133.2 104.8 142.9 103.5C152.6 102.3 160.8 99.0 171.1 98.4C181.5 97.9 199.4 100.0 205.0 100.3" fill="none" stroke="#7c3824" stroke-width="10.4" stroke-linecap="round"/><ellipse cx="135.4" cy="110.7" rx="24.5" ry="9.4" fill="#6e3824" transform="rotate(-5 135.4 110.7)"/><ellipse cx="197.5" cy="27.8" rx="7.5" ry="20.7" fill="#473824"/><ellipse cx="114.6" cy="24.0" rx="7.5" ry="20.7" fill="#4e3824" transform="rotate(15 114.6 24.0)"/></g><g filter="url(#b2_5)"><path d="M180.6 102.2C184.6 102.3 201.0 103.0 205.0 103.1" fill="none" stroke="#9b3824" stroke-width="3.4" stroke-linecap="round"/><path d="M188.1 120.1C190.9 120.4 202.2 121.7 205.0 122.0" fill="none" stroke="#9b3824" stroke-width="2.6" stroke-linecap="round"/></g><g filter="url(#b4)"><path d="M84.5 80.5C85.1 75.2 86.7 68.9 90.1 63.6C93.6 58.2 99.6 52.0 105.2 48.5C110.9 45.1 117.8 43.2 124.1 42.9C130.3 42.5 137.2 44.4 142.9 46.6C148.5 48.8 153.9 52.0 158.0 56.0C162.0 60.1 166.1 66.1 167.4 71.1C168.6 76.1 167.7 82.4 165.5 86.2C163.3 89.9 158.6 92.5 154.2 93.7C149.8 95.0 144.1 94.3 139.1 93.7C134.1 93.1 128.4 89.3 124.1 89.9C119.7 90.6 115.6 93.7 112.8 97.5C109.9 101.2 108.7 107.5 107.1 112.6C105.5 117.6 103.6 122.6 103.3 127.6C103.0 132.6 106.2 138.9 105.2 142.7C104.3 146.5 99.9 152.1 97.7 150.2C95.5 148.3 93.4 138.3 92.0 131.4C90.6 124.5 90.1 114.7 89.2 108.8C88.3 102.8 87.2 100.3 86.4 95.6C85.6 90.9 83.9 85.9 84.5 80.5Z" fill="#413824"/><path d="M97.7 154.0C99.3 148.3 100.8 137.5 105.2 131.4C109.6 125.3 117.1 120.2 124.1 117.3C131.0 114.3 139.7 112.9 146.7 113.5C153.6 114.1 160.5 116.8 165.5 121.0C170.5 125.3 174.3 132.2 176.8 138.9C179.3 145.7 181.2 154.0 180.6 161.5C179.9 169.1 176.2 176.9 173.0 184.1C169.9 191.3 174.3 201.4 161.7 204.8C149.2 208.3 108.8 208.9 97.7 204.8C86.5 200.8 95.2 187.0 94.9 180.4C94.5 173.8 95.3 169.7 95.8 165.3C96.3 160.9 96.1 159.6 97.7 154.0Z" fill="#413824"/></g><g filter="url(#b4)"><path d="M100.5 73.0C102.5 69.4 105.4 65.1 109.9 62.6C114.5 60.1 122.0 58.4 127.8 57.9C133.6 57.5 140.4 57.9 144.8 59.8C149.2 61.7 152.6 65.5 154.2 69.2C155.8 73.0 155.6 79.1 154.2 82.4C152.8 85.7 149.3 88.7 145.7 89.0C142.1 89.3 136.8 85.9 132.5 84.3C128.3 82.7 124.1 79.7 120.3 79.6C116.5 79.4 112.8 81.3 109.9 83.4C107.1 85.4 105.4 91.7 103.3 91.8C101.3 92.0 98.2 87.4 97.7 84.3C97.2 81.2 98.5 76.6 100.5 73.0Z" fill="#2f1f14"/><path d="M104.3 155.9C106.3 150.8 110.7 144.9 114.6 140.8C118.6 136.7 122.6 133.0 127.8 131.4C133.0 129.8 140.5 129.5 145.7 131.4C150.9 133.3 156.1 137.7 158.9 142.7C161.7 147.7 162.7 155.6 162.7 161.5C162.7 167.5 161.3 173.3 158.9 178.5C156.5 183.7 154.3 188.8 148.5 192.6C142.7 196.4 130.3 201.5 124.1 201.1C117.8 200.6 114.5 194.8 110.9 189.8C107.3 184.8 103.5 176.6 102.4 170.9C101.3 165.3 102.2 160.9 104.3 155.9Z" fill="#2c1f14"/></g><g filter="url(#b1_5)"><ellipse cx="105.6" cy="72.1" rx="4.1" ry="6.4" fill="#1c0908" transform="rotate(5 105.6 72.1)"/><ellipse cx="118.8" cy="67.3" rx="6.8" ry="5.3" fill="#1a0908" transform="rotate(-30 118.8 67.3)"/><ellipse cx="144.8" cy="82.4" rx="5.7" ry="5.3" fill="#200908"/><path d="M105.2 154.0C106.2 150.8 111.5 148.7 114.6 146.5C117.8 144.3 121.9 143.3 124.1 140.8C126.2 138.3 125.3 132.6 127.8 131.4C130.3 130.1 136.3 131.4 139.1 133.3C141.9 135.2 142.3 140.2 144.8 142.7C147.3 145.2 151.7 145.8 154.2 148.3C156.7 150.8 159.2 154.0 159.8 157.8C160.5 161.5 159.2 167.2 158.0 170.9C156.7 174.7 154.8 177.8 152.3 180.4C149.8 182.9 144.8 183.5 142.9 186.0C141.0 188.5 144.1 193.5 141.0 195.4C137.9 197.3 128.4 198.3 124.1 197.3C119.7 196.4 116.5 193.2 114.6 189.8C112.8 186.3 113.7 180.7 112.8 176.6C111.8 172.5 110.2 169.1 109.0 165.3C107.7 161.5 104.3 157.1 105.2 154.0Z" fill="#160908"/></g><g filter="url(#b0_6)"><ellipse cx="106.2" cy="73.0" rx="0.9" ry="1.9" fill="#080000"/><ellipse cx="116.5" cy="69.2" rx="1.5" ry="2.6" fill="#080000" transform="rotate(-10 116.5 69.2)"/><ellipse cx="125.0" cy="156.2" rx="4.1" ry="1.5" fill="#080000" transform="rotate(30 125.0 156.2)"/><ellipse cx="117.5" cy="155.9" rx="1.1" ry="0.9" fill="#080000"/><ellipse cx="136.9" cy="152.1" rx="0.8" ry="0.9" fill="#080000"/></g></g></svg>
<rect x="69.5" y="147.3" width="124.8" height="124.0" fill="none" stroke="#000" stroke-width="1.1"/>
<rect x="212" y="147.3" width="124.8" height="124.0" fill="none" stroke="#000" stroke-width="1.1"/>
<rect x="354.5" y="147.3" width="124.8" height="124.0" fill="none" stroke="#000" stroke-width="1.1"/>
<rect x="497" y="147.3" width="124.8" height="124.0" fill="none" stroke="#000" stroke-width="1.1"/>
<rect x="639.5" y="147.3" width="124.8" height="124.0" fill="none" stroke="#000" stroke-width="1.1"/>
<text x="934.4" y="50.3" font-size="15.28" text-anchor="middle">Estimated MSW, knots</text>
<rect x="802.0" y="355.0" width="23.3" height="4.5" fill="#8b008b"/>
<rect x="825.0" y="318.0" width="2.3" height="41.5" fill="#8b008b"/>
<rect x="827.0" y="295.0" width="5.3" height="64.5" fill="#8b008b"/>
<rect x="832.0" y="245.0" width="4.3" height="114.5" fill="#8b008b"/>
<rect x="836.0" y="176.0" width="5.4" height="183.5" fill="#8b008b"/>
<rect x="841.1" y="128.2" width="4.3" height="231.3" fill="#8b008b"/>
<rect x="845.1" y="85.1" width="4.2" height="274.4" fill="#8b008b"/>
<rect x="849.0" y="88.4" width="4.2" height="271.1" fill="#8b008b"/>
<rect x="852.9" y="73.0" width="3.4" height="286.5" fill="#8b008b"/>
<rect x="856.0" y="125.1" width="4.3" height="234.4" fill="#8b008b"/>
<rect x="860.0" y="142.0" width="4.3" height="217.5" fill="#8b008b"/>
<rect x="864.0" y="225.0" width="7.3" height="134.5" fill="#8b008b"/>
<rect x="871.0" y="280.0" width="6.3" height="79.5" fill="#8b008b"/>
<rect x="877.0" y="317.0" width="7.2" height="42.5" fill="#8b008b"/>
<rect x="883.9" y="342.0" width="5.3" height="17.5" fill="#8b008b"/>
<rect x="888.9" y="358.0" width="185.9" height="1.5" fill="#8b008b"/>
<line x1="849.9" y1="359.5" x2="849.9" y2="59.5" stroke="#a9a9a9" stroke-width="5.56" stroke-dasharray="5.56 9.17"/>
<line x1="852" y1="359.5" x2="852" y2="59.5" stroke="#000" stroke-width="2.1"/>
<rect x="784.5" y="59.5" width="300.0" height="300.0" fill="none" stroke="#000" stroke-width="1.1"/>
<line x1="819.5" y1="359.5" x2="819.5" y2="364.7" stroke="#000" stroke-width="1.1"/>
<text x="819.5" y="378.5" font-size="13.7" text-anchor="middle">25</text>
<line x1="863.5" y1="359.5" x2="863.5" y2="364.7" stroke="#000" stroke-width="1.1"/>
<text x="863.5" y="378.5" font-size="13.7" text-anchor="middle">50</text>
<line x1="907.5" y1="359.5" x2="907.5" y2="364.7" stroke="#000" stroke-width="1.1"/>
<text x="907.5" y="378.5" font-size="13.7" text-anchor="middle">75</text>
<line x1="952.5" y1="359.5" x2="952.5" y2="364.7" stroke="#000" stroke-width="1.1"/>
<text x="952.5" y="378.5" font-size="13.7" text-anchor="middle">100</text>
<line x1="996.5" y1="359.5" x2="996.5" y2="364.7" stroke="#000" stroke-width="1.1"/>
<text x="996.5" y="378.5" font-size="13.7" text-anchor="middle">125</text>
<line x1="1040.5" y1="359.5" x2="1040.5" y2="364.7" stroke="#000" stroke-width="1.1"/>
<text x="1040.5" y="378.5" font-size="13.7" text-anchor="middle">150</text>
<line x1="784.5" y1="359.5" x2="789.7" y2="359.5" stroke="#000" stroke-width="1.1"/>
<line x1="1079.3" y1="359.5" x2="1084.5" y2="359.5" stroke="#000" stroke-width="1.1"/>
<text x="1089.5" y="364.8" font-size="13.7">0.0</text>
<line x1="784.5" y1="302.5" x2="789.7" y2="302.5" stroke="#000" stroke-width="1.1"/>
<line x1="1079.3" y1="302.5" x2="1084.5" y2="302.5" stroke="#000" stroke-width="1.1"/>
<text x="1089.5" y="307.8" font-size="13.7">0.2</text>
<line x1="784.5" y1="245.5" x2="789.7" y2="245.5" stroke="#000" stroke-width="1.1"/>
<line x1="1079.3" y1="245.5" x2="1084.5" y2="245.5" stroke="#000" stroke-width="1.1"/>
<text x="1089.5" y="250.8" font-size="13.7">0.4</text>
<line x1="784.5" y1="188.5" x2="789.7" y2="188.5" stroke="#000" stroke-width="1.1"/>
<line x1="1079.3" y1="188.5" x2="1084.5" y2="188.5" stroke="#000" stroke-width="1.1"/>
<text x="1089.5" y="193.8" font-size="13.7">0.6</text>
<line x1="784.5" y1="130.5" x2="789.7" y2="130.5" stroke="#000" stroke-width="1.1"/>
<line x1="1079.3" y1="130.5" x2="1084.5" y2="130.5" stroke="#000" stroke-width="1.1"/>
<text x="1089.5" y="135.8" font-size="13.7">0.8</text>
<line x1="784.5" y1="73.5" x2="789.7" y2="73.5" stroke="#000" stroke-width="1.1"/>
<line x1="1079.3" y1="73.5" x2="1084.5" y2="73.5" stroke="#000" stroke-width="1.1"/>
<text x="1089.5" y="78.8" font-size="13.7">1.0</text>
<text x="1127.2" y="210.6" font-size="13.89" text-anchor="middle" transform="rotate(-90 1127.2 210.6)">Relative Prob</text>
<line x1="765" y1="395.8" x2="797" y2="395.8" stroke="#000" stroke-width="2.1"/>
<text x="809.3" y="401.6" font-size="15.28">D-PRINT average</text>
<line x1="969.5" y1="395.8" x2="1001" y2="395.8" stroke="#a9a9a9" stroke-width="5.56" stroke-dasharray="5.56 9.17"/>
<text x="1012.6" y="401.6" font-size="15.28">NHC official</text>
<text x="583.6" y="442.3" font-size="19.44" text-anchor="middle">D-PRINT SHAP Values for 2025_13L: updated at 20251024 0740 UTC</text>
<line x1="82.5" y1="703.5" x2="1088.5" y2="703.5" stroke="#e6e6e6" stroke-width="6.6"/>
<clipPath id="cm"><rect x="82.5" y="453.5" width="1006.0" height="350.0"/></clipPath><g clip-path="url(#cm)">
<polyline fill="none" stroke="#3cb44b" stroke-width="2.6" stroke-linejoin="round" points="218,691 245,690.6 275,689.8 300,691 340,691.8 383,693 415,692.6 440,691.6 500,691 515,691.4 560,689.5 620,688.2 700,688.2 760,689.3 790,690 850,689.6 900,689.8 930,690.3 985,689.5 990,690.2 1000,689.5 1050,689.3 1060,688.5 1070,689.2 1088.5,688.6"/>
<polyline fill="none" stroke="#42e4f4" stroke-width="2.6" stroke-linejoin="round" points="218,702.7 300,702.6 400,702.4 500,702.2 600,702.0 700,701.8 800,701.4 900,700.8 1000,700.2 1060,699.8 1088.5,699.2"/>
<polyline fill="none" stroke="#f032e6" stroke-width="2.6" stroke-linejoin="round" points="218,709.6 300,709.4 400,709.2 490,708.8 600,708.6 700,708.8 745,709.4 790,710.6 850,710.2 930,709 1000,708.8 1040,709.2 1070,710.2 1088.5,709.8"/>
<polyline fill="none" stroke="#f58231" stroke-width="2.6" stroke-linejoin="round" points="218,706.6 245,706.8 262,708.3 300,708.6 340,707.8 400,708.3 440,708.8 490,709.0 540,709.6 600,709.8 700,709.6 745,710.2 790,709.8 850,709.5 900,708.2 930,707.2 990,706.4 996,705.4 1040,705.3 1088.5,706"/>
<polyline fill="none" stroke="#e6194b" stroke-width="3.0" stroke-linejoin="round" points="218,770.4 227.7,769.2 235.2,771.5 248.3,765.0 255.2,766.3 261.6,763.0 268.3,768.6 275,765.3 289.1,773.0 302.2,775.6 310.5,774 315.6,773.3 322.3,768.9 329.2,772.2 343.8,773.5 358,773.5 368.2,775.6 376.2,780 382.9,782 390.1,780.5 415.3,778.9 417,779.2 423,774.8 429.9,777.4 436.3,779.2 442.7,777.9 450.4,774.3 456.9,772.2 463,769.4 469.7,774 476.9,765 482.6,763 490.3,760.7 496.4,761.4 503.6,766.6 510.5,761.7 517,762.7 523.4,755 529.8,755.3 537.5,759.1 543.9,759.6 550.4,757.3 557.3,756 571.2,748.6 574.8,754.8 577.3,747.8 584.3,741.9 590.7,746.5 600.5,742.4 610.7,733.7 617.7,729.9 624.3,735.5 631.3,731.1 644.4,715 651.3,728.6 664.7,736.8 669.3,737.3 671.4,744.5 678,741.9 685.2,750.9 691.6,743.7 698.1,751.7 705.3,737.3 710.9,747.1 721.2,751.2 737.9,749.9 744.3,753.5 752,761.2 759.2,765 765.4,764 772,758.6 779,762.5 790,759.9 799,763 811.8,765 815.7,763.8 818.8,759.1 826,763 832.4,761.7 838.8,765 846,769.9 852.7,757.6 859.4,766.3 872.2,768.1 879.4,770.7 894,764.5 899.9,759.4 913.3,762.5 919.7,754.3 926.1,758.6 933.1,753.5 940.3,760.4 946.7,750.1 953.1,745.3 959.5,740.6 966.7,745.3 972.9,750.9 986.5,746.5 993.7,753.2 1000.1,747.6 1007,747.3 1013.5,749.6 1019.9,750.9 1026.8,746 1036.1,748.6 1040.5,747.6 1054.1,749.6 1060.2,744.2 1067.4,747.8 1073.8,744.5 1080.3,744 1088.5,751.5"/>
<polyline fill="none" stroke="#000" stroke-width="2.8" stroke-linejoin="round" points="97.8,753.5 178.6,741.0 662.6,741.0 743.4,753.5 1088.5,753.5"/>
</g>
<rect x="82.5" y="453.5" width="1006.0" height="350.0" fill="none" stroke="#000" stroke-width="1.1"/>
<line x1="77.5" y1="453.5" x2="82.5" y2="453.5" stroke="#000" stroke-width="1.1"/>
<text x="71.6" y="459.2" font-size="14.9" text-anchor="end">100</text>
<line x1="77.5" y1="478.5" x2="82.5" y2="478.5" stroke="#000" stroke-width="1.1"/>
<line x1="77.5" y1="503.5" x2="82.5" y2="503.5" stroke="#000" stroke-width="1.1"/>
<text x="71.6" y="509.2" font-size="14.9" text-anchor="end">80</text>
<line x1="77.5" y1="528.5" x2="82.5" y2="528.5" stroke="#000" stroke-width="1.1"/>
<line x1="77.5" y1="553.5" x2="82.5" y2="553.5" stroke="#000" stroke-width="1.1"/>
<text x="71.6" y="559.2" font-size="14.9" text-anchor="end">60</text>
<line x1="77.5" y1="578.5" x2="82.5" y2="578.5" stroke="#000" stroke-width="1.1"/>
<line x1="77.5" y1="603.5" x2="82.5" y2="603.5" stroke="#000" stroke-width="1.1"/>
<text x="71.6" y="609.2" font-size="14.9" text-anchor="end">40</text>
<line x1="77.5" y1="628.5" x2="82.5" y2="628.5" stroke="#000" stroke-width="1.1"/>
<line x1="77.5" y1="653.5" x2="82.5" y2="653.5" stroke="#000" stroke-width="1.1"/>
<text x="71.6" y="659.2" font-size="14.9" text-anchor="end">20</text>
<line x1="77.5" y1="678.5" x2="82.5" y2="678.5" stroke="#000" stroke-width="1.1"/>
<line x1="77.5" y1="703.5" x2="82.5" y2="703.5" stroke="#000" stroke-width="1.1"/>
<text x="71.6" y="709.2" font-size="14.9" text-anchor="end">0</text>
<line x1="77.5" y1="728.5" x2="82.5" y2="728.5" stroke="#000" stroke-width="1.1"/>
<line x1="77.5" y1="753.5" x2="82.5" y2="753.5" stroke="#000" stroke-width="1.1"/>
<text x="71.6" y="759.2" font-size="14.9" text-anchor="end">-20</text>
<line x1="77.5" y1="778.5" x2="82.5" y2="778.5" stroke="#000" stroke-width="1.1"/>
<line x1="77.5" y1="803.5" x2="82.5" y2="803.5" stroke="#000" stroke-width="1.1"/>
<text x="71.6" y="809.2" font-size="14.9" text-anchor="end">-40</text>
<line x1="1088.5" y1="453.5" x2="1093.5" y2="453.5" stroke="#000" stroke-width="1.1"/>
<text x="1097.3" y="459.2" font-size="14.9">160</text>
<line x1="1088.5" y1="478.5" x2="1093.5" y2="478.5" stroke="#000" stroke-width="1.1"/>
<line x1="1088.5" y1="503.5" x2="1093.5" y2="503.5" stroke="#000" stroke-width="1.1"/>
<text x="1097.3" y="509.2" font-size="14.9">140</text>
<line x1="1088.5" y1="528.5" x2="1093.5" y2="528.5" stroke="#000" stroke-width="1.1"/>
<line x1="1088.5" y1="553.5" x2="1093.5" y2="553.5" stroke="#000" stroke-width="1.1"/>
<text x="1097.3" y="559.2" font-size="14.9">120</text>
<line x1="1088.5" y1="578.5" x2="1093.5" y2="578.5" stroke="#000" stroke-width="1.1"/>
<line x1="1088.5" y1="603.5" x2="1093.5" y2="603.5" stroke="#000" stroke-width="1.1"/>
<text x="1097.3" y="609.2" font-size="14.9">100</text>
<line x1="1088.5" y1="628.5" x2="1093.5" y2="628.5" stroke="#000" stroke-width="1.1"/>
<line x1="1088.5" y1="653.5" x2="1093.5" y2="653.5" stroke="#000" stroke-width="1.1"/>
<text x="1097.3" y="659.2" font-size="14.9">80</text>
<line x1="1088.5" y1="678.5" x2="1093.5" y2="678.5" stroke="#000" stroke-width="1.1"/>
<line x1="1088.5" y1="703.5" x2="1093.5" y2="703.5" stroke="#000" stroke-width="1.1"/>
<text x="1097.3" y="709.2" font-size="14.9">60</text>
<line x1="1088.5" y1="728.5" x2="1093.5" y2="728.5" stroke="#000" stroke-width="1.1"/>
<line x1="1088.5" y1="753.5" x2="1093.5" y2="753.5" stroke="#000" stroke-width="1.1"/>
<text x="1097.3" y="759.2" font-size="14.9">40</text>
<line x1="1088.5" y1="778.5" x2="1093.5" y2="778.5" stroke="#000" stroke-width="1.1"/>
<line x1="1088.5" y1="803.5" x2="1093.5" y2="803.5" stroke="#000" stroke-width="1.1"/>
<text x="1097.3" y="809.2" font-size="14.9">20</text>
<line x1="98.5" y1="803.5" x2="98.5" y2="806.4" stroke="#000" stroke-width="0.85"/>
<line x1="178.5" y1="803.5" x2="178.5" y2="806.4" stroke="#000" stroke-width="0.85"/>
<line x1="259.5" y1="803.5" x2="259.5" y2="806.4" stroke="#000" stroke-width="0.85"/>
<line x1="340.5" y1="803.5" x2="340.5" y2="808.5" stroke="#000" stroke-width="1.1"/>
<text x="340.5" y="826.3" font-size="15.2" text-anchor="middle">10/22</text>
<line x1="420.5" y1="803.5" x2="420.5" y2="806.4" stroke="#000" stroke-width="0.85"/>
<line x1="501.5" y1="803.5" x2="501.5" y2="806.4" stroke="#000" stroke-width="0.85"/>
<line x1="582.5" y1="803.5" x2="582.5" y2="806.4" stroke="#000" stroke-width="0.85"/>
<line x1="662.5" y1="803.5" x2="662.5" y2="808.5" stroke="#000" stroke-width="1.1"/>
<text x="662.5" y="826.3" font-size="15.2" text-anchor="middle">10/23</text>
<line x1="743.5" y1="803.5" x2="743.5" y2="806.4" stroke="#000" stroke-width="0.85"/>
<line x1="824.5" y1="803.5" x2="824.5" y2="806.4" stroke="#000" stroke-width="0.85"/>
<line x1="905.5" y1="803.5" x2="905.5" y2="806.4" stroke="#000" stroke-width="0.85"/>
<line x1="985.5" y1="803.5" x2="985.5" y2="808.5" stroke="#000" stroke-width="1.1"/>
<text x="985.5" y="826.3" font-size="15.2" text-anchor="middle">10/24</text>
<line x1="1066.5" y1="803.5" x2="1066.5" y2="806.4" stroke="#000" stroke-width="0.85"/>
<text x="584" y="846" font-size="15.2" text-anchor="middle">2025</text>
<text x="33.2" y="629.5" font-size="16.0" text-anchor="middle" transform="rotate(-90 33.2 629.5)">SHAP Value [kts]</text>
<text x="1143.2" y="629.0" font-size="16.05" text-anchor="middle" transform="rotate(-90 1143.2 629.0)">Working Best Track TC Intensity [kt]</text>
<text x="211.3" y="866.2" font-size="15.28">SHAP values:</text>
<line x1="341" y1="859.2" x2="375" y2="859.2" stroke="#e6194b" stroke-width="3"/>
<text x="386.3" y="866.2" font-size="15.28">IR</text>
<line x1="430.1" y1="859.2" x2="464.1" y2="859.2" stroke="#42e4f4" stroke-width="3"/>
<text x="474.8" y="866.2" font-size="15.28">History</text>
<line x1="558.1" y1="859.2" x2="592.1" y2="859.2" stroke="#3cb44b" stroke-width="3"/>
<text x="602.4" y="866.2" font-size="15.28">Position</text>
<line x1="690" y1="859.2" x2="724" y2="859.2" stroke="#f032e6" stroke-width="3"/>
<text x="734.5" y="866.2" font-size="15.28">Environment</text>
<line x1="861.5" y1="859.2" x2="895.5" y2="859.2" stroke="#f58231" stroke-width="3"/>
<text x="906" y="866.2" font-size="15.28">GFS Thermo</text>
<line x1="516.4" y1="882.3" x2="550.4" y2="882.3" stroke="#000" stroke-width="3"/>
<text x="560.5" y="888.2" font-size="15.28">TC Intensity</text>
<g class="soft">
<text x="334.2" y="919.6" font-size="13.2" text-anchor="middle" fill="#111">Shap values for 2025_13L at 20251024 0740UTC</text>
<rect x="68.0" y="1101.3" width="400.2" height="103.8" fill="#f5f5f5"/>
<rect x="68.0" y="1378.2" width="400.2" height="276.8" fill="#f5f5f5"/>
<line x1="68.0" y1="962.9" x2="468.2" y2="962.9" stroke="#e9e9e9" stroke-width="1"/>
<line x1="68.0" y1="997.5" x2="468.2" y2="997.5" stroke="#e9e9e9" stroke-width="1"/>
<line x1="68.0" y1="1032.1" x2="468.2" y2="1032.1" stroke="#e9e9e9" stroke-width="1"/>
<line x1="68.0" y1="1066.7" x2="468.2" y2="1066.7" stroke="#e9e9e9" stroke-width="1"/>
<line x1="68.0" y1="1101.3" x2="468.2" y2="1101.3" stroke="#e9e9e9" stroke-width="1"/>
<line x1="68.0" y1="1135.9" x2="468.2" y2="1135.9" stroke="#e9e9e9" stroke-width="1"/>
<line x1="68.0" y1="1170.5" x2="468.2" y2="1170.5" stroke="#e9e9e9" stroke-width="1"/>
<line x1="68.0" y1="1205.1" x2="468.2" y2="1205.1" stroke="#e9e9e9" stroke-width="1"/>
<line x1="68.0" y1="1239.8" x2="468.2" y2="1239.8" stroke="#e9e9e9" stroke-width="1"/>
<line x1="68.0" y1="1274.4" x2="468.2" y2="1274.4" stroke="#e9e9e9" stroke-width="1"/>
<line x1="68.0" y1="1309.0" x2="468.2" y2="1309.0" stroke="#e9e9e9" stroke-width="1"/>
<line x1="68.0" y1="1343.6" x2="468.2" y2="1343.6" stroke="#e9e9e9" stroke-width="1"/>
<line x1="68.0" y1="1378.2" x2="468.2" y2="1378.2" stroke="#e9e9e9" stroke-width="1"/>
<line x1="68.0" y1="1412.8" x2="468.2" y2="1412.8" stroke="#e9e9e9" stroke-width="1"/>
<line x1="68.0" y1="1447.4" x2="468.2" y2="1447.4" stroke="#e9e9e9" stroke-width="1"/>
<line x1="68.0" y1="1482.0" x2="468.2" y2="1482.0" stroke="#e9e9e9" stroke-width="1"/>
<line x1="68.0" y1="1516.6" x2="468.2" y2="1516.6" stroke="#e9e9e9" stroke-width="1"/>
<line x1="68.0" y1="1551.2" x2="468.2" y2="1551.2" stroke="#e9e9e9" stroke-width="1"/>
<line x1="68.0" y1="1585.8" x2="468.2" y2="1585.8" stroke="#e9e9e9" stroke-width="1"/>
<line x1="68.0" y1="1620.4" x2="468.2" y2="1620.4" stroke="#e9e9e9" stroke-width="1"/>
<line x1="68.0" y1="1655.0" x2="468.2" y2="1655.0" stroke="#e9e9e9" stroke-width="1"/>
<line x1="68.0" y1="1689.6" x2="468.2" y2="1689.6" stroke="#e9e9e9" stroke-width="1"/>
<line x1="68.0" y1="1724.2" x2="468.2" y2="1724.2" stroke="#e9e9e9" stroke-width="1"/>
<line x1="68.0" y1="1758.8" x2="468.2" y2="1758.8" stroke="#e9e9e9" stroke-width="1"/>
<line x1="68.0" y1="1793.5" x2="468.2" y2="1793.5" stroke="#e9e9e9" stroke-width="1"/>
<line x1="68.0" y1="1828.1" x2="468.2" y2="1828.1" stroke="#e9e9e9" stroke-width="1"/>
<line x1="68.0" y1="1862.7" x2="468.2" y2="1862.7" stroke="#e9e9e9" stroke-width="1"/>
<line x1="68.0" y1="1897.3" x2="468.2" y2="1897.3" stroke="#e9e9e9" stroke-width="1"/>
<line x1="68.0" y1="1931.9" x2="468.2" y2="1931.9" stroke="#e9e9e9" stroke-width="1"/>
<line x1="68.0" y1="1966.5" x2="468.2" y2="1966.5" stroke="#e9e9e9" stroke-width="1"/>
<line x1="68.0" y1="2001.1" x2="468.2" y2="2001.1" stroke="#e9e9e9" stroke-width="1"/>
<line x1="68.0" y1="945.6" x2="468.2" y2="945.6" stroke="#eeeeee" stroke-width="0.6" stroke-dasharray="1 2"/>
<line x1="68.0" y1="980.2" x2="468.2" y2="980.2" stroke="#eeeeee" stroke-width="0.6" stroke-dasharray="1 2"/>
<line x1="68.0" y1="1014.8" x2="468.2" y2="1014.8" stroke="#eeeeee" stroke-width="0.6" stroke-dasharray="1 2"/>
<line x1="68.0" y1="1049.4" x2="468.2" y2="1049.4" stroke="#eeeeee" stroke-width="0.6" stroke-dasharray="1 2"/>
<line x1="68.0" y1="1084.0" x2="468.2" y2="1084.0" stroke="#eeeeee" stroke-width="0.6" stroke-dasharray="1 2"/>
<line x1="68.0" y1="1118.6" x2="468.2" y2="1118.6" stroke="#eeeeee" stroke-width="0.6" stroke-dasharray="1 2"/>
<line x1="68.0" y1="1153.2" x2="468.2" y2="1153.2" stroke="#eeeeee" stroke-width="0.6" stroke-dasharray="1 2"/>
<line x1="68.0" y1="1187.8" x2="468.2" y2="1187.8" stroke="#eeeeee" stroke-width="0.6" stroke-dasharray="1 2"/>
<line x1="68.0" y1="1222.4" x2="468.2" y2="1222.4" stroke="#eeeeee" stroke-width="0.6" stroke-dasharray="1 2"/>
<line x1="68.0" y1="1257.1" x2="468.2" y2="1257.1" stroke="#eeeeee" stroke-width="0.6" stroke-dasharray="1 2"/>
<line x1="68.0" y1="1291.7" x2="468.2" y2="1291.7" stroke="#eeeeee" stroke-width="0.6" stroke-dasharray="1 2"/>
<line x1="68.0" y1="1326.3" x2="468.2" y2="1326.3" stroke="#eeeeee" stroke-width="0.6" stroke-dasharray="1 2"/>
<line x1="68.0" y1="1360.9" x2="468.2" y2="1360.9" stroke="#eeeeee" stroke-width="0.6" stroke-dasharray="1 2"/>
<line x1="68.0" y1="1395.5" x2="468.2" y2="1395.5" stroke="#eeeeee" stroke-width="0.6" stroke-dasharray="1 2"/>
<line x1="68.0" y1="1430.1" x2="468.2" y2="1430.1" stroke="#eeeeee" stroke-width="0.6" stroke-dasharray="1 2"/>
<line x1="68.0" y1="1464.7" x2="468.2" y2="1464.7" stroke="#eeeeee" stroke-width="0.6" stroke-dasharray="1 2"/>
<line x1="68.0" y1="1499.3" x2="468.2" y2="1499.3" stroke="#eeeeee" stroke-width="0.6" stroke-dasharray="1 2"/>
<line x1="68.0" y1="1533.9" x2="468.2" y2="1533.9" stroke="#eeeeee" stroke-width="0.6" stroke-dasharray="1 2"/>
<line x1="68.0" y1="1568.5" x2="468.2" y2="1568.5" stroke="#eeeeee" stroke-width="0.6" stroke-dasharray="1 2"/>
<line x1="68.0" y1="1603.1" x2="468.2" y2="1603.1" stroke="#eeeeee" stroke-width="0.6" stroke-dasharray="1 2"/>
<line x1="68.0" y1="1637.7" x2="468.2" y2="1637.7" stroke="#eeeeee" stroke-width="0.6" stroke-dasharray="1 2"/>
<line x1="68.0" y1="1672.3" x2="468.2" y2="1672.3" stroke="#eeeeee" stroke-width="0.6" stroke-dasharray="1 2"/>
<line x1="68.0" y1="1706.9" x2="468.2" y2="1706.9" stroke="#eeeeee" stroke-width="0.6" stroke-dasharray="1 2"/>
<line x1="68.0" y1="1741.5" x2="468.2" y2="1741.5" stroke="#eeeeee" stroke-width="0.6" stroke-dasharray="1 2"/>
<line x1="68.0" y1="1776.1" x2="468.2" y2="1776.1" stroke="#eeeeee" stroke-width="0.6" stroke-dasharray="1 2"/>
<line x1="68.0" y1="1810.8" x2="468.2" y2="1810.8" stroke="#eeeeee" stroke-width="0.6" stroke-dasharray="1 2"/>
<line x1="68.0" y1="1845.4" x2="468.2" y2="1845.4" stroke="#eeeeee" stroke-width="0.6" stroke-dasharray="1 2"/>
<line x1="68.0" y1="1880.0" x2="468.2" y2="1880.0" stroke="#eeeeee" stroke-width="0.6" stroke-dasharray="1 2"/>
<line x1="68.0" y1="1914.6" x2="468.2" y2="1914.6" stroke="#eeeeee" stroke-width="0.6" stroke-dasharray="1 2"/>
<line x1="68.0" y1="1949.2" x2="468.2" y2="1949.2" stroke="#eeeeee" stroke-width="0.6" stroke-dasharray="1 2"/>
<line x1="68.0" y1="1983.8" x2="468.2" y2="1983.8" stroke="#eeeeee" stroke-width="0.6" stroke-dasharray="1 2"/>
<line x1="68.0" y1="2018.4" x2="468.2" y2="2018.4" stroke="#eeeeee" stroke-width="0.6" stroke-dasharray="1 2"/>
<line x1="318.7" y1="928.1" x2="318.7" y2="2035.4" stroke="#a0a0a0" stroke-width="1.2"/>
<text x="464.6" y="945.0" font-size="9.0" text-anchor="end" fill="#111">Satellite SHAP=-19.2kts</text>
<line x1="68.0" y1="1101.3" x2="468.2" y2="1101.3" stroke="#222" stroke-width="1.7"/>
<text x="464.6" y="1118.0" font-size="9.0" text-anchor="end" fill="#111">History SHAP=1.5kts</text>
<line x1="68.0" y1="1205.1" x2="468.2" y2="1205.1" stroke="#222" stroke-width="1.7"/>
<text x="464.6" y="1221.8" font-size="9.0" text-anchor="end" fill="#111">Location SHAP=5.3kts</text>
<line x1="68.0" y1="1378.2" x2="468.2" y2="1378.2" stroke="#222" stroke-width="1.7"/>
<text x="464.6" y="1394.9" font-size="9.0" text-anchor="end" fill="#111">Environmental SHAP=-2.7kts</text>
<line x1="68.0" y1="1655.0" x2="468.2" y2="1655.0" stroke="#222" stroke-width="1.7"/>
<text x="464.6" y="1671.7" font-size="9.0" text-anchor="end" fill="#111">TC Dynamics SHAP=-1.3kts</text>
<rect x="68.0" y="928.1" width="400.2" height="1107.3" fill="none" stroke="#555" stroke-width="1.1"/>
<line x1="65.6" y1="945.6" x2="68.0" y2="945.6" stroke="#333" stroke-width="0.8"/>
<line x1="468.2" y1="945.6" x2="470.59999999999997" y2="945.6" stroke="#333" stroke-width="0.8"/>
<text x="62.2" y="948.6" font-size="8.15" text-anchor="end" fill="#111">0h_old_IR</text>
<circle cx="228.9" cy="945.6" r="3.45" fill="#5669d9"/>
<text x="472.8" y="944.9" font-size="8.38" fill="#111">0h old IR data</text>
<text x="472.8" y="953.2" font-size="8.38" fill="#111">(128x128 grid points)</text>
<line x1="65.6" y1="980.2" x2="68.0" y2="980.2" stroke="#333" stroke-width="0.8"/>
<line x1="468.2" y1="980.2" x2="470.59999999999997" y2="980.2" stroke="#333" stroke-width="0.8"/>
<text x="62.2" y="983.2" font-size="8.15" text-anchor="end" fill="#111">3h_old_IR</text>
<circle cx="267.7" cy="980.2" r="3.45" fill="#1574e6"/>
<text x="472.8" y="979.5" font-size="8.38" fill="#111">3h old IR data</text>
<text x="472.8" y="987.8" font-size="8.38" fill="#111">(128x128 grid points)</text>
<line x1="65.6" y1="1014.8" x2="68.0" y2="1014.8" stroke="#333" stroke-width="0.8"/>
<line x1="468.2" y1="1014.8" x2="470.59999999999997" y2="1014.8" stroke="#333" stroke-width="0.8"/>
<text x="62.2" y="1017.8" font-size="8.15" text-anchor="end" fill="#111">6h_old_IR</text>
<circle cx="190.3" cy="1014.8" r="3.45" fill="#d4089a"/>
<text x="472.8" y="1014.1" font-size="8.38" fill="#111">6h old IR data</text>
<text x="472.8" y="1022.4" font-size="8.38" fill="#111">(128x128 grid points)</text>
<line x1="65.6" y1="1049.4" x2="68.0" y2="1049.4" stroke="#333" stroke-width="0.8"/>
<line x1="468.2" y1="1049.4" x2="470.59999999999997" y2="1049.4" stroke="#333" stroke-width="0.8"/>
<text x="62.2" y="1052.4" font-size="8.15" text-anchor="end" fill="#111">9h_old_IR</text>
<circle cx="233.4" cy="1049.4" r="3.45" fill="#ed0a82"/>
<text x="472.8" y="1048.7" font-size="8.38" fill="#111">9h old IR data</text>
<text x="472.8" y="1057.0" font-size="8.38" fill="#111">(128x128 grid points)</text>
<line x1="65.6" y1="1084.0" x2="68.0" y2="1084.0" stroke="#333" stroke-width="0.8"/>
<line x1="468.2" y1="1084.0" x2="470.59999999999997" y2="1084.0" stroke="#333" stroke-width="0.8"/>
<text x="62.2" y="1087.0" font-size="8.15" text-anchor="end" fill="#111">12h_old_IR</text>
<circle cx="86.1" cy="1084.0" r="3.45" fill="#9d2bb9"/>
<text x="472.8" y="1083.3" font-size="8.38" fill="#111">12h old IR data</text>
<text x="472.8" y="1091.6" font-size="8.38" fill="#111">(128x128 grid points)</text>
<line x1="65.6" y1="1118.6" x2="68.0" y2="1118.6" stroke="#333" stroke-width="0.8"/>
<line x1="468.2" y1="1118.6" x2="470.59999999999997" y2="1118.6" stroke="#333" stroke-width="0.8"/>
<text x="62.2" y="1121.6" font-size="8.15" text-anchor="end" fill="#111">DELV</text>
<circle cx="314.1" cy="1118.6" r="3.45" fill="#f9105e"/>
<text x="472.8" y="1121.6" font-size="8.38" fill="#111">-12h to 0h Intensity change</text>
<line x1="65.6" y1="1153.2" x2="68.0" y2="1153.2" stroke="#333" stroke-width="0.8"/>
<line x1="468.2" y1="1153.2" x2="470.59999999999997" y2="1153.2" stroke="#333" stroke-width="0.8"/>
<text x="62.2" y="1156.2" font-size="8.15" text-anchor="end" fill="#111">HIST</text>
<circle cx="371.0" cy="1153.2" r="3.45" fill="#476fde"/>
<text x="472.8" y="1152.5" font-size="8.38" fill="#111">The # of 6h periods VMAX</text>
<text x="472.8" y="1160.8" font-size="8.38" fill="#111">has been above 20kt</text>
<line x1="65.6" y1="1187.8" x2="68.0" y2="1187.8" stroke="#333" stroke-width="0.8"/>
<line x1="468.2" y1="1187.8" x2="470.59999999999997" y2="1187.8" stroke="#333" stroke-width="0.8"/>
<text x="62.2" y="1190.8" font-size="8.15" text-anchor="end" fill="#111">SPD</text>
<circle cx="318.7" cy="1187.8" r="3.45" fill="#a528b4"/>
<text x="472.8" y="1190.8" font-size="8.38" fill="#111">TC Translation Speed</text>
<line x1="65.6" y1="1222.4" x2="68.0" y2="1222.4" stroke="#333" stroke-width="0.8"/>
<line x1="468.2" y1="1222.4" x2="470.59999999999997" y2="1222.4" stroke="#333" stroke-width="0.8"/>
<text x="62.2" y="1225.4" font-size="8.15" text-anchor="end" fill="#111">sin_lat</text>
<circle cx="326.0" cy="1222.4" r="3.45" fill="#dd0893"/>
<text x="472.8" y="1225.4" font-size="8.38" fill="#111">Sine of Latitude</text>
<line x1="65.6" y1="1257.1" x2="68.0" y2="1257.1" stroke="#333" stroke-width="0.8"/>
<line x1="468.2" y1="1257.1" x2="470.59999999999997" y2="1257.1" stroke="#333" stroke-width="0.8"/>
<text x="62.2" y="1260.1" font-size="8.15" text-anchor="end" fill="#111">cos_lon</text>
<circle cx="340.7" cy="1257.1" r="3.45" fill="#ef0b7e"/>
<text x="472.8" y="1260.1" font-size="8.38" fill="#111">Cosine of Longitude</text>
<line x1="65.6" y1="1291.7" x2="68.0" y2="1291.7" stroke="#333" stroke-width="0.8"/>
<line x1="468.2" y1="1291.7" x2="470.59999999999997" y2="1291.7" stroke="#333" stroke-width="0.8"/>
<text x="62.2" y="1294.7" font-size="8.15" text-anchor="end" fill="#111">sin_lon</text>
<circle cx="449.5" cy="1291.7" r="3.45" fill="#e20a8e"/>
<text x="472.8" y="1294.7" font-size="8.38" fill="#111">Sine of Longitude</text>
<line x1="65.6" y1="1326.3" x2="68.0" y2="1326.3" stroke="#333" stroke-width="0.8"/>
<line x1="468.2" y1="1326.3" x2="470.59999999999997" y2="1326.3" stroke="#333" stroke-width="0.8"/>
<text x="62.2" y="1329.3" font-size="8.15" text-anchor="end" fill="#111">DTL</text>
<circle cx="326.0" cy="1326.3" r="3.45" fill="#c80ca0"/>
<text x="472.8" y="1329.3" font-size="8.38" fill="#111">Distance to Land</text>
<line x1="65.6" y1="1360.9" x2="68.0" y2="1360.9" stroke="#333" stroke-width="0.8"/>
<line x1="468.2" y1="1360.9" x2="470.59999999999997" y2="1360.9" stroke="#333" stroke-width="0.8"/>
<text x="62.2" y="1363.9" font-size="8.15" text-anchor="end" fill="#111">sin_local_time</text>
<circle cx="315.6" cy="1360.9" r="3.45" fill="#d2099b"/>
<text x="472.8" y="1360.2" font-size="8.38" fill="#111">Sine of Time of Day</text>
<text x="472.8" y="1368.5" font-size="8.38" fill="#111">(Local Solar Time)</text>
<line x1="65.6" y1="1395.5" x2="68.0" y2="1395.5" stroke="#333" stroke-width="0.8"/>
<line x1="468.2" y1="1395.5" x2="470.59999999999997" y2="1395.5" stroke="#333" stroke-width="0.8"/>
<text x="62.2" y="1398.5" font-size="8.15" text-anchor="end" fill="#111">SHRD</text>
<circle cx="318.7" cy="1395.5" r="3.45" fill="#a12ab7"/>
<text x="472.8" y="1398.5" font-size="8.38" fill="#111">850-200hPa shear (200-800 km)</text>
<line x1="65.6" y1="1430.1" x2="68.0" y2="1430.1" stroke="#333" stroke-width="0.8"/>
<line x1="468.2" y1="1430.1" x2="470.59999999999997" y2="1430.1" stroke="#333" stroke-width="0.8"/>
<text x="62.2" y="1433.1" font-size="8.15" text-anchor="end" fill="#111">SHDC</text>
<circle cx="319.3" cy="1430.1" r="3.45" fill="#ee0a7c"/>
<text x="472.8" y="1429.4" font-size="8.38" fill="#111">850-200hPa shear with</text>
<text x="472.8" y="1437.7" font-size="8.38" fill="#111">vortex removed (0-500 km)</text>
<line x1="65.6" y1="1464.7" x2="68.0" y2="1464.7" stroke="#333" stroke-width="0.8"/>
<line x1="468.2" y1="1464.7" x2="470.59999999999997" y2="1464.7" stroke="#333" stroke-width="0.8"/>
<text x="62.2" y="1467.7" font-size="8.15" text-anchor="end" fill="#111">SHRS</text>
<circle cx="318.7" cy="1464.7" r="3.45" fill="#9836c1"/>
<text x="472.8" y="1467.7" font-size="8.38" fill="#111">850-500hPa shear (200-800 km)</text>
<line x1="65.6" y1="1499.3" x2="68.0" y2="1499.3" stroke="#333" stroke-width="0.8"/>
<line x1="468.2" y1="1499.3" x2="470.59999999999997" y2="1499.3" stroke="#333" stroke-width="0.8"/>
<text x="62.2" y="1502.3" font-size="8.15" text-anchor="end" fill="#111">MPI</text>
<circle cx="318.7" cy="1499.3" r="3.45" fill="#c00fa6"/>
<text x="472.8" y="1502.3" font-size="8.38" fill="#111">Maximum potential intensity</text>
<line x1="65.6" y1="1533.9" x2="68.0" y2="1533.9" stroke="#333" stroke-width="0.8"/>
<line x1="468.2" y1="1533.9" x2="470.59999999999997" y2="1533.9" stroke="#333" stroke-width="0.8"/>
<text x="62.2" y="1536.9" font-size="8.15" text-anchor="end" fill="#111">RSST</text>
<circle cx="260.3" cy="1533.9" r="3.45" fill="#e20a8e"/>
<text x="472.8" y="1536.9" font-size="8.38" fill="#111">Reynolds SST</text>
<line x1="65.6" y1="1568.5" x2="68.0" y2="1568.5" stroke="#333" stroke-width="0.8"/>
<line x1="468.2" y1="1568.5" x2="470.59999999999997" y2="1568.5" stroke="#333" stroke-width="0.8"/>
<text x="62.2" y="1571.5" font-size="8.15" text-anchor="end" fill="#111">COHC</text>
<circle cx="253.9" cy="1568.5" r="3.45" fill="#f20c74"/>
<text x="472.8" y="1571.5" font-size="8.38" fill="#111">Climatological Ocean Heat Content</text>
<line x1="65.6" y1="1603.1" x2="68.0" y2="1603.1" stroke="#333" stroke-width="0.8"/>
<line x1="468.2" y1="1603.1" x2="470.59999999999997" y2="1603.1" stroke="#333" stroke-width="0.8"/>
<text x="62.2" y="1606.1" font-size="8.15" text-anchor="end" fill="#111">CD26</text>
<circle cx="333.1" cy="1603.1" r="3.45" fill="#1279e8"/>
<text x="472.8" y="1602.4" font-size="8.38" fill="#111">Climatological depth of</text>
<text x="472.8" y="1610.7" font-size="8.38" fill="#111">26° C isotherm</text>
<line x1="65.6" y1="1637.7" x2="68.0" y2="1637.7" stroke="#333" stroke-width="0.8"/>
<line x1="468.2" y1="1637.7" x2="470.59999999999997" y2="1637.7" stroke="#333" stroke-width="0.8"/>
<text x="62.2" y="1640.7" font-size="8.15" text-anchor="end" fill="#111">CD20</text>
<circle cx="343.5" cy="1637.7" r="3.45" fill="#1184ee"/>
<text x="472.8" y="1637.0" font-size="8.38" fill="#111">Climatological depth of</text>
<text x="472.8" y="1645.3" font-size="8.38" fill="#111">20° C isotherm</text>
<line x1="65.6" y1="1672.3" x2="68.0" y2="1672.3" stroke="#333" stroke-width="0.8"/>
<line x1="468.2" y1="1672.3" x2="470.59999999999997" y2="1672.3" stroke="#333" stroke-width="0.8"/>
<text x="62.2" y="1675.3" font-size="8.15" text-anchor="end" fill="#111">DIVC</text>
<circle cx="323.6" cy="1672.3" r="3.45" fill="#d80997"/>
<text x="472.8" y="1671.6" font-size="8.38" fill="#111">200hPa divergence centered at</text>
<text x="472.8" y="1679.9" font-size="8.38" fill="#111">850hPa vortex location</text>
<line x1="65.6" y1="1706.9" x2="68.0" y2="1706.9" stroke="#333" stroke-width="0.8"/>
<line x1="468.2" y1="1706.9" x2="470.59999999999997" y2="1706.9" stroke="#333" stroke-width="0.8"/>
<text x="62.2" y="1709.9" font-size="8.15" text-anchor="end" fill="#111">V300</text>
<circle cx="315.6" cy="1706.9" r="3.45" fill="#d80997"/>
<text x="472.8" y="1706.2" font-size="8.38" fill="#111">300hPa tangential wind azimuthally</text>
<text x="472.8" y="1714.5" font-size="8.38" fill="#111">averaged at 500 km</text>
<line x1="65.6" y1="1741.5" x2="68.0" y2="1741.5" stroke="#333" stroke-width="0.8"/>
<line x1="468.2" y1="1741.5" x2="470.59999999999997" y2="1741.5" stroke="#333" stroke-width="0.8"/>
<text x="62.2" y="1744.5" font-size="8.15" text-anchor="end" fill="#111">V500</text>
<circle cx="313.8" cy="1741.5" r="3.45" fill="#1184ee"/>
<text x="472.8" y="1740.8" font-size="8.38" fill="#111">500hPa tangential wind azimuthally</text>
<text x="472.8" y="1749.1" font-size="8.38" fill="#111">averaged at 500 km</text>
<line x1="65.6" y1="1776.1" x2="68.0" y2="1776.1" stroke="#333" stroke-width="0.8"/>
<line x1="468.2" y1="1776.1" x2="470.59999999999997" y2="1776.1" stroke="#333" stroke-width="0.8"/>
<text x="62.2" y="1779.1" font-size="8.15" text-anchor="end" fill="#111">V850</text>
<circle cx="313.2" cy="1776.1" r="3.45" fill="#ee0a7c"/>
<text x="472.8" y="1775.4" font-size="8.38" fill="#111">850hPa tangential wind azimuthally</text>
<text x="472.8" y="1783.7" font-size="8.38" fill="#111">averaged at 500 km</text>
<line x1="65.6" y1="1810.8" x2="68.0" y2="1810.8" stroke="#333" stroke-width="0.8"/>
<line x1="468.2" y1="1810.8" x2="470.59999999999997" y2="1810.8" stroke="#333" stroke-width="0.8"/>
<text x="62.2" y="1813.8" font-size="8.15" text-anchor="end" fill="#111">Z850</text>
<circle cx="304.0" cy="1810.8" r="3.45" fill="#ee0a80"/>
<text x="472.8" y="1813.8" font-size="8.38" fill="#111">850hPa vorticity (0-1000 km)</text>
<line x1="65.6" y1="1845.4" x2="68.0" y2="1845.4" stroke="#333" stroke-width="0.8"/>
<line x1="468.2" y1="1845.4" x2="470.59999999999997" y2="1845.4" stroke="#333" stroke-width="0.8"/>
<text x="62.2" y="1848.4" font-size="8.15" text-anchor="end" fill="#111">U200</text>
<circle cx="319.3" cy="1845.4" r="3.45" fill="#0f88f0"/>
<text x="472.8" y="1848.4" font-size="8.38" fill="#111">200hPa zonal wind (200-800 km)</text>
<line x1="65.6" y1="1880.0" x2="68.0" y2="1880.0" stroke="#333" stroke-width="0.8"/>
<line x1="468.2" y1="1880.0" x2="470.59999999999997" y2="1880.0" stroke="#333" stroke-width="0.8"/>
<text x="62.2" y="1883.0" font-size="8.15" text-anchor="end" fill="#111">U20C</text>
<circle cx="308.0" cy="1880.0" r="3.45" fill="#0f88f0"/>
<text x="472.8" y="1883.0" font-size="8.38" fill="#111">200hPa zonal wind (0-500 km)</text>
<line x1="65.6" y1="1914.6" x2="68.0" y2="1914.6" stroke="#333" stroke-width="0.8"/>
<line x1="468.2" y1="1914.6" x2="470.59999999999997" y2="1914.6" stroke="#333" stroke-width="0.8"/>
<text x="62.2" y="1917.6" font-size="8.15" text-anchor="end" fill="#111">V20C</text>
<circle cx="325.4" cy="1914.6" r="3.45" fill="#0f88f0"/>
<text x="472.8" y="1917.6" font-size="8.38" fill="#111">200hPa meridional wind (0-500 km)</text>
<line x1="65.6" y1="1949.2" x2="68.0" y2="1949.2" stroke="#333" stroke-width="0.8"/>
<line x1="468.2" y1="1949.2" x2="470.59999999999997" y2="1949.2" stroke="#333" stroke-width="0.8"/>
<text x="62.2" y="1952.2" font-size="8.15" text-anchor="end" fill="#111">RHMD</text>
<circle cx="296.4" cy="1949.2" r="3.45" fill="#127ce9"/>
<text x="472.8" y="1948.5" font-size="8.38" fill="#111">700-500hPa relative humidity</text>
<text x="472.8" y="1956.8" font-size="8.38" fill="#111">(200-800 km)</text>
<line x1="65.6" y1="1983.8" x2="68.0" y2="1983.8" stroke="#333" stroke-width="0.8"/>
<line x1="468.2" y1="1983.8" x2="470.59999999999997" y2="1983.8" stroke="#333" stroke-width="0.8"/>
<text x="62.2" y="1986.8" font-size="8.15" text-anchor="end" fill="#111">EPSS</text>
<circle cx="318.7" cy="1983.8" r="3.45" fill="#cc0ca1"/>
<line x1="65.6" y1="2018.4" x2="68.0" y2="2018.4" stroke="#333" stroke-width="0.8"/>
<line x1="468.2" y1="2018.4" x2="470.59999999999997" y2="2018.4" stroke="#333" stroke-width="0.8"/>
<text x="62.2" y="2021.4" font-size="8.15" text-anchor="end" fill="#111">ENSS</text>
<circle cx="327.3" cy="2018.4" r="3.45" fill="#c00fa8"/>
<text x="472.8" y="1983.1" font-size="8.38" fill="#111">Avg. Δ <tspan font-style="italic">θ</tspan><tspan font-size="5.7" dy="1.6" font-style="italic">e</tspan><tspan dy="-1.6"> </tspan>(only +) btwn parcel lifted from</text>
<text x="472.8" y="1991.4" font-size="8.38" fill="#111">sfc. and saturated env. <tspan font-style="italic">θ</tspan><tspan font-size="5.7" dy="1.6" font-style="italic">e</tspan><tspan dy="-1.6"> </tspan>(200-800 km)</text>
<text x="472.8" y="2017.7" font-size="8.38" fill="#111">Avg. Δ <tspan font-style="italic">θ</tspan><tspan font-size="5.7" dy="1.6" font-style="italic">e</tspan><tspan dy="-1.6"> </tspan>(only -) btwn parcel lifted from</text>
<text x="472.8" y="2026.0" font-size="8.38" fill="#111">sfc. and saturated env. <tspan font-style="italic">θ</tspan><tspan font-size="5.7" dy="1.6" font-style="italic">e</tspan><tspan dy="-1.6"> </tspan>(200-800 km)</text>
<line x1="74.2" y1="2035.4" x2="74.2" y2="2037.8000000000002" stroke="#333" stroke-width="0.8"/>
<text x="74.2" y="2046.4" font-size="8.15" text-anchor="middle" fill="#111">−8</text>
<line x1="135.3" y1="2035.4" x2="135.3" y2="2037.8000000000002" stroke="#333" stroke-width="0.8"/>
<text x="135.3" y="2046.4" font-size="8.15" text-anchor="middle" fill="#111">−6</text>
<line x1="196.5" y1="2035.4" x2="196.5" y2="2037.8000000000002" stroke="#333" stroke-width="0.8"/>
<text x="196.5" y="2046.4" font-size="8.15" text-anchor="middle" fill="#111">−4</text>
<line x1="257.6" y1="2035.4" x2="257.6" y2="2037.8000000000002" stroke="#333" stroke-width="0.8"/>
<text x="257.6" y="2046.4" font-size="8.15" text-anchor="middle" fill="#111">−2</text>
<line x1="318.7" y1="2035.4" x2="318.7" y2="2037.8000000000002" stroke="#333" stroke-width="0.8"/>
<text x="318.7" y="2046.4" font-size="8.15" text-anchor="middle" fill="#111">0</text>
<line x1="379.8" y1="2035.4" x2="379.8" y2="2037.8000000000002" stroke="#333" stroke-width="0.8"/>
<text x="379.8" y="2046.4" font-size="8.15" text-anchor="middle" fill="#111">2</text>
<line x1="440.9" y1="2035.4" x2="440.9" y2="2037.8000000000002" stroke="#333" stroke-width="0.8"/>
<text x="440.9" y="2046.4" font-size="8.15" text-anchor="middle" fill="#111">4</text>
<text x="267.5" y="2059.3" font-size="11.1" text-anchor="middle" fill="#111">SHAP Value [kts]</text>
<linearGradient id="fv" x1="0" x2="1" y1="0" y2="0"><stop offset="0" stop-color="#0a8ffb"/><stop offset="0.17" stop-color="#0070e6"/><stop offset="0.20" stop-color="#1a6ee4"/><stop offset="0.33" stop-color="#5f59d6"/><stop offset="0.40" stop-color="#7a47cb"/><stop offset="0.50" stop-color="#a02ab8"/><stop offset="0.60" stop-color="#c0079f"/><stop offset="0.72" stop-color="#d80690"/><stop offset="0.85" stop-color="#f0047a"/><stop offset="1" stop-color="#ff0052"/></linearGradient>
<rect x="29.4" y="2083.3" width="587.8" height="24.6" fill="url(#fv)" stroke="#334" stroke-width="0.6"/>
<text x="617.2" y="2078.3" font-size="9.65" text-anchor="end" fill="#111">Feature Value</text>
<text x="29.0" y="2120.0" font-size="9.0" text-anchor="middle" fill="#111">Low</text>
<text x="617.5" y="2120.0" font-size="9.0" text-anchor="middle" fill="#111">High</text>
<text x="29.4" y="2135.8" font-size="9.03" fill="#111">SHAP Value: Amount each feature [listed on Y-axis] contributes to the predicted intensity above or below <tspan text-decoration="underline">60 kts</tspan></text>
<text x="29.4" y="2150.5" font-size="9.03" fill="#111">Feature Value: The value of the feature [listed on Y-axis] for the given TC compared to the training dataset</text>
<text x="918" y="915.6" font-size="11.8" text-anchor="middle" fill="#111">Comparison of IR SHAP Values for 2025_13L at 20251024 0740UTC</text>
<svg x="718.2" y="938.3" width="199.8" height="199.6" viewBox="0 0 200 200" preserveAspectRatio="none"><g filter="url(#ir0)"><rect x="-5" y="-5" width="260" height="260" fill="#d60f0d"/><g filter="url(#b4)"><ellipse cx="20.5" cy="39.1" rx="11.3" ry="22.6" fill="#c80f0d" transform="rotate(20 20.5 39.1)"/><ellipse cx="14.8" cy="105.0" rx="9.4" ry="28.3" fill="#ca0f0d" transform="rotate(10 14.8 105.0)"/><ellipse cx="11.0" cy="161.5" rx="11.3" ry="22.6" fill="#e00f0d"/><ellipse cx="39.3" cy="20.3" rx="17.0" ry="9.4" fill="#cc0f0d" transform="rotate(-30 39.3 20.3)"/><ellipse cx="9.2" cy="14.6" rx="11.3" ry="11.3" fill="#e20f0d"/><ellipse cx="29.9" cy="82.4" rx="7.5" ry="18.8" fill="#de0f0d"/><ellipse cx="33.6" cy="123.9" rx="4.7" ry="11.3" fill="#c20f0d" transform="rotate(5 33.6 123.9)"/></g><g filter="url(#b1_5)"><path d="M97.7 -15.5C75.3 -12.4 98.2 -4.9 95.4 -0.5C92.6 3.9 86.3 7.1 80.7 10.8C75.1 14.6 66.3 18.1 61.9 22.1C57.5 26.2 57.2 30.3 54.4 35.3C51.5 40.3 47.3 46.9 44.9 52.3C42.6 57.6 41.3 62.3 40.2 67.3C39.1 72.4 38.8 77.4 38.3 82.4C37.9 87.4 38.0 92.5 37.4 97.5C36.8 102.5 35.4 107.5 34.6 112.6C33.8 117.6 33.5 122.6 32.7 127.6C31.9 132.6 31.0 137.7 29.9 142.7C28.8 147.7 27.2 152.7 26.1 157.8C25.0 162.8 23.4 168.1 23.3 172.8C23.1 177.5 25.2 180.7 25.2 186.0C25.2 191.3 -10.8 200.1 23.3 204.8C57.3 209.6 195.2 251.6 229.5 214.3C263.9 176.9 251.5 19.0 229.5 -19.3C207.6 -57.6 120.0 -18.7 97.7 -15.5Z" fill="#ab4c52"/></g><g filter="url(#b3)"><path d="M112.8 -15.5C92.5 -12.4 111.8 -5.2 108.0 -0.5C104.3 4.2 96.3 7.7 90.1 12.7C84.0 17.7 76.0 24.0 71.3 29.7C66.6 35.3 65.0 40.3 61.9 46.6C58.8 52.9 54.7 60.8 52.5 67.3C50.3 73.9 49.6 79.9 48.7 86.2C47.8 92.5 46.8 100.0 46.8 105.0C46.8 110.0 44.0 113.2 48.7 116.3C53.4 119.5 67.9 119.5 75.1 123.9C82.3 128.2 87.9 136.4 92.0 142.7C96.1 149.0 99.9 155.2 99.6 161.5C99.3 167.8 94.9 173.1 90.1 180.4C85.4 187.6 48.1 199.2 71.3 204.8C94.5 210.5 203.2 251.6 229.5 214.3C255.9 176.9 249.0 19.0 229.5 -19.3C210.1 -57.6 133.0 -18.7 112.8 -15.5Z" fill="#804c52"/><ellipse cx="43.1" cy="148.3" rx="5.3" ry="13.2" fill="#834c52" transform="rotate(-25 43.1 148.3)"/><ellipse cx="56.2" cy="182.2" rx="5.7" ry="13.2" fill="#834c52" transform="rotate(-30 56.2 182.2)"/><ellipse cx="73.2" cy="191.7" rx="7.5" ry="5.7" fill="#814c52"/></g><g filter="url(#b2)"><ellipse cx="61.9" cy="127.6" rx="5.3" ry="8.5" fill="#c24c52"/><ellipse cx="74.1" cy="151.2" rx="8.5" ry="7.5" fill="#c24c52"/><ellipse cx="85.4" cy="175.7" rx="5.3" ry="7.5" fill="#c24c52"/><ellipse cx="82.6" cy="132.3" rx="7.5" ry="3.4" fill="#be4c52" transform="rotate(15 82.6 132.3)"/><ellipse cx="67.5" cy="167.2" rx="4.7" ry="4.7" fill="#b44c52"/><ellipse cx="48.7" cy="135.2" rx="3.8" ry="5.7" fill="#b44c52"/><ellipse cx="93.9" cy="189.8" rx="3.8" ry="5.7" fill="#b44c52"/><ellipse cx="35.5" cy="180.4" rx="3.4" ry="7.5" fill="#b44c52" transform="rotate(-20 35.5 180.4)"/><ellipse cx="54.4" cy="161.5" rx="3.8" ry="5.7" fill="#b24c52"/><ellipse cx="150.4" cy="15.5" rx="13.2" ry="3.4" fill="#9f4c52" transform="rotate(-30 150.4 15.5)"/><ellipse cx="182.4" cy="18.4" rx="17.0" ry="4.1" fill="#9f4c52" transform="rotate(-15 182.4 18.4)"/><ellipse cx="122.2" cy="29.7" rx="5.7" ry="2.6" fill="#9f4c52" transform="rotate(-30 122.2 29.7)"/><ellipse cx="152.3" cy="26.8" rx="4.7" ry="2.6" fill="#9f4c52" transform="rotate(-30 152.3 26.8)"/><ellipse cx="105.2" cy="20.3" rx="9.4" ry="2.6" fill="#994c52" transform="rotate(-40 105.2 20.3)"/><ellipse cx="167.4" cy="3.3" rx="11.3" ry="2.3" fill="#a14c52" transform="rotate(-10 167.4 3.3)"/><ellipse cx="80.7" cy="48.5" rx="3.4" ry="11.3" fill="#9d4c52" transform="rotate(25 80.7 48.5)"/><ellipse cx="67.5" cy="74.9" rx="3.0" ry="11.3" fill="#9d4c52" transform="rotate(15 67.5 74.9)"/><ellipse cx="58.1" cy="105.0" rx="2.6" ry="9.4" fill="#a14c52" transform="rotate(5 58.1 105.0)"/><ellipse cx="90.1" cy="29.7" rx="3.0" ry="9.4" fill="#9d4c52" transform="rotate(40 90.1 29.7)"/></g><g filter="url(#b4)"><path d="M75.1 80.5C76.0 74.9 77.0 68.9 80.7 63.6C84.5 58.2 91.1 52.9 97.7 48.5C104.3 44.1 113.4 39.9 120.3 37.2C127.2 34.5 133.8 32.2 139.1 32.5C144.5 32.8 148.5 35.8 152.3 39.1C156.1 42.4 158.3 51.0 161.7 52.3C165.2 53.5 169.3 48.2 173.0 46.6C176.8 45.1 176.8 43.2 184.3 42.9C191.9 42.5 212.6 17.7 218.2 44.7C223.9 71.7 245.5 178.2 218.2 204.8C190.9 231.5 77.9 207.4 54.4 204.8C30.8 202.3 69.7 193.9 77.0 189.8C84.2 185.7 91.7 185.1 97.7 180.4C103.6 175.7 112.4 167.5 112.8 161.5C113.1 155.6 103.3 150.8 99.6 144.6C95.8 138.3 93.3 129.2 90.1 123.9C87.0 118.5 83.2 116.9 80.7 112.6C78.2 108.2 76.0 102.8 75.1 97.5C74.1 92.1 74.1 86.2 75.1 80.5Z" fill="#5a3824"/><ellipse cx="124.1" cy="12.7" rx="15.1" ry="2.6" fill="#643824" transform="rotate(-35 124.1 12.7)"/><ellipse cx="97.7" cy="44.7" rx="11.3" ry="2.6" fill="#663824" transform="rotate(-40 97.7 44.7)"/><ellipse cx="159.8" cy="16.5" rx="9.4" ry="2.3" fill="#683824" transform="rotate(-50 159.8 16.5)"/></g><g filter="url(#b4)"><path d="M78.8 80.5C79.6 75.2 81.0 70.2 84.5 65.5C87.9 60.8 93.6 56.2 99.6 52.3C105.5 48.4 114.0 44.3 120.3 41.9C126.6 39.6 132.5 37.7 137.2 38.1C141.9 38.6 145.7 41.4 148.5 44.7C151.4 48.0 155.1 54.2 154.2 57.9C153.2 61.7 146.0 64.5 142.9 67.3C139.7 70.2 132.2 74.3 135.4 74.9C138.5 75.5 154.2 72.4 161.7 71.1C169.3 69.9 171.1 67.3 180.6 67.3C190.0 67.3 212.0 48.2 218.2 71.1C224.5 94.0 239.6 182.6 218.2 204.8C196.9 227.1 109.0 207.7 90.1 204.8C71.3 202.0 100.2 194.2 105.2 187.9C110.2 181.6 120.3 174.1 120.3 167.2C120.3 160.3 109.3 153.7 105.2 146.5C101.1 139.2 98.9 129.5 95.8 123.9C92.7 118.2 89.0 116.9 86.4 112.6C83.7 108.2 81.0 102.8 79.8 97.5C78.5 92.1 78.1 85.9 78.8 80.5Z" fill="#413824"/></g><g filter="url(#b4)"><path d="M205.0 39.1C201.0 39.4 187.8 39.4 180.6 41.0C173.3 42.5 168.0 45.4 161.7 48.5C155.4 51.6 148.5 56.0 142.9 59.8C137.2 63.6 130.3 69.2 127.8 71.1" fill="none" stroke="#643824" stroke-width="11.3" stroke-linecap="round"/><path d="M182.4 80.5C183.7 83.4 188.3 91.5 190.0 97.5C191.7 103.4 192.2 110.7 192.8 116.3C193.4 122.0 193.6 128.9 193.7 131.4" fill="none" stroke="#723824" stroke-width="7.2" stroke-linecap="round"/><path d="M112.8 159.6C115.3 158.9 122.8 156.0 127.8 154.9C132.8 153.8 137.2 152.6 142.9 153.0C148.5 153.5 158.6 157.0 161.7 157.8" fill="none" stroke="#6a3824" stroke-width="7.5" stroke-linecap="round"/><path d="M158.0 154.0C160.5 156.2 168.0 162.5 173.0 167.2C178.0 171.9 183.1 177.2 188.1 182.2C193.1 187.3 200.7 194.8 203.2 197.3" fill="none" stroke="#523824" stroke-width="5.7" stroke-linecap="round"/></g><g filter="url(#b4)"><path d="M75.1 74.9C76.0 70.2 82.0 67.0 86.4 65.5C90.8 63.9 96.4 64.2 101.4 65.5C106.5 66.7 111.8 69.5 116.5 73.0C121.2 76.4 128.1 81.8 129.7 86.2C131.3 90.6 129.4 96.9 125.9 99.4C122.5 101.9 114.3 100.6 109.0 101.2C103.6 101.9 98.6 104.4 93.9 103.1C89.2 101.9 83.9 98.4 80.7 93.7C77.6 89.0 74.1 79.6 75.1 74.9Z" fill="#2d1f14"/><ellipse cx="124.1" cy="122.0" rx="21.7" ry="19.8" fill="#2d1f14"/><ellipse cx="172.1" cy="116.3" rx="15.1" ry="43.3" fill="#2d1f14" transform="rotate(-8 172.1 116.3)"/><ellipse cx="186.2" cy="57.9" rx="16.0" ry="12.2" fill="#2d1f14"/><ellipse cx="150.4" cy="186.0" rx="33.0" ry="21.7" fill="#2d1f14"/><ellipse cx="198.5" cy="159.6" rx="11.3" ry="24.5" fill="#2d1f14"/><ellipse cx="148.5" cy="86.2" rx="8.5" ry="9.4" fill="#2f1f14"/></g><g filter="url(#b1_5)"><ellipse cx="124.1" cy="122.9" rx="17.3" ry="15.4" fill="#160908"/><ellipse cx="135.4" cy="114.4" rx="8.5" ry="8.5" fill="#1b0908"/><ellipse cx="147.6" cy="86.2" rx="5.1" ry="6.2" fill="#160908"/><ellipse cx="109.0" cy="84.7" rx="10.4" ry="6.6" fill="#220908" transform="rotate(-20 109.0 84.7)"/><ellipse cx="184.3" cy="58.9" rx="9.8" ry="6.8" fill="#1e0908" transform="rotate(10 184.3 58.9)"/><path d="M165.5 93.7C167.7 91.8 174.0 94.3 176.8 97.5C179.6 100.6 181.2 106.3 182.4 112.6C183.7 118.8 184.6 129.2 184.3 135.2C184.0 141.1 182.4 147.1 180.6 148.3C178.7 149.6 175.2 146.8 173.0 142.7C170.8 138.6 168.9 129.5 167.4 123.9C165.8 118.2 163.9 113.8 163.6 108.8C163.3 103.8 163.3 95.6 165.5 93.7Z" fill="#1c0908"/><path d="M124.1 184.1C127.5 181.6 131.6 181.3 135.4 178.5C139.1 175.7 142.3 169.7 146.7 167.2C151.0 164.7 157.6 162.5 161.7 163.4C165.8 164.3 169.9 168.7 171.1 172.8C172.4 176.9 168.9 183.8 169.3 187.9C169.6 192.0 174.3 194.5 173.0 197.3C171.8 200.1 169.9 203.6 161.7 204.8C153.6 206.1 131.9 206.7 124.1 204.8C116.2 203.0 114.6 197.0 114.6 193.5C114.6 190.1 120.6 186.6 124.1 184.1Z" fill="#180908"/><path d="M190.0 152.1C191.2 147.1 193.1 139.2 195.6 135.2C198.1 131.1 203.5 120.7 205.0 127.6C206.6 134.5 206.6 168.4 205.0 176.6C203.5 184.8 198.5 178.5 195.6 176.6C192.8 174.7 189.0 169.4 188.1 165.3C187.2 161.2 188.7 157.1 190.0 152.1Z" fill="#160908"/></g><g filter="url(#b0_6)"><ellipse cx="110.5" cy="122.3" rx="1.5" ry="4.1" fill="#080000" transform="rotate(10 110.5 122.3)"/><ellipse cx="129.7" cy="121.6" rx="2.6" ry="3.0" fill="#080000"/><ellipse cx="120.3" cy="126.1" rx="1.9" ry="0.9" fill="#080000" transform="rotate(-30 120.3 126.1)"/><ellipse cx="145.7" cy="88.1" rx="1.3" ry="2.3" fill="#080000"/><ellipse cx="174.3" cy="126.7" rx="2.3" ry="3.8" fill="#080000" transform="rotate(15 174.3 126.7)"/><ellipse cx="190.9" cy="156.8" rx="3.0" ry="4.9" fill="#080000" transform="rotate(15 190.9 156.8)"/><ellipse cx="135.4" cy="186.0" rx="1.9" ry="1.3" fill="#080000" transform="rotate(-30 135.4 186.0)"/><ellipse cx="146.7" cy="184.1" rx="1.5" ry="2.6" fill="#080000" transform="rotate(-20 146.7 184.1)"/><ellipse cx="132.5" cy="130.4" rx="0.8" ry="1.9" fill="#080000"/></g></g></svg>
<svg x="718.2" y="1175.8" width="199.8" height="199.6" viewBox="0 0 200 200" preserveAspectRatio="none"><g filter="url(#ir1)"><rect x="-5" y="-5" width="260" height="260" fill="#da0f0d"/><g filter="url(#b6)"><path d="M-2.1 112.6C3.2 95.9 20.5 103.1 29.9 105.0C39.3 106.9 47.5 122.6 54.4 123.9C61.3 125.1 64.1 110.7 71.3 112.6C78.5 114.4 92.0 127.0 97.7 135.2C103.3 143.3 106.5 152.4 105.2 161.5C104.0 170.6 94.2 182.6 90.1 189.8C86.1 197.0 96.1 202.3 80.7 204.8C65.3 207.4 11.7 220.2 -2.1 204.8C-16.0 189.5 -7.5 129.2 -2.1 112.6Z" fill="#c80f0d"/><ellipse cx="29.9" cy="20.3" rx="22.6" ry="11.3" fill="#ce0f0d" transform="rotate(-20 29.9 20.3)"/><ellipse cx="78.8" cy="135.2" rx="15.1" ry="13.2" fill="#c20f0d"/><ellipse cx="14.8" cy="48.5" rx="9.4" ry="15.1" fill="#d00f0d"/></g><g filter="url(#b1_5)"><path d="M94.9 -2.3C73.5 2.0 93.8 9.3 90.1 14.6C86.5 19.9 77.3 24.6 73.2 29.7C69.1 34.7 67.9 39.1 65.7 44.7C63.5 50.4 61.3 57.3 60.0 63.6C58.8 69.9 58.3 76.8 58.1 82.4C58.0 88.1 58.1 92.5 59.1 97.5C60.0 102.5 61.7 108.2 63.8 112.6C65.8 116.9 66.3 120.4 71.3 123.9C76.3 127.3 88.3 129.5 93.9 133.3C99.6 137.0 103.3 141.7 105.2 146.5C107.1 151.2 105.2 157.1 105.2 161.5C105.2 165.9 107.1 168.1 105.2 172.8C103.3 177.5 98.0 184.4 93.9 189.8C89.8 195.1 60.0 202.3 80.7 204.8C101.4 207.4 195.3 240.9 218.2 204.8C241.1 168.7 238.8 22.8 218.2 -11.8C197.7 -46.3 116.2 -6.7 94.9 -2.3Z" fill="#a94c52"/></g><g filter="url(#b2_5)"><path d="M102.4 -2.3C81.8 2.0 98.8 9.0 94.9 14.6C90.9 20.3 82.8 25.9 78.8 31.6C74.9 37.2 73.4 42.5 71.3 48.5C69.2 54.5 67.1 61.7 66.0 67.3C64.9 73.0 64.6 77.4 64.7 82.4C64.8 87.4 65.3 92.5 66.6 97.5C67.9 102.5 69.9 108.2 72.3 112.6C74.6 116.9 76.2 120.1 80.7 123.9C85.3 127.6 94.7 131.1 99.6 135.2C104.4 139.2 108.2 143.9 109.9 148.3C111.7 152.7 110.1 157.4 109.9 161.5C109.8 165.6 110.7 168.1 109.0 172.8C107.3 177.5 103.0 184.4 99.6 189.8C96.1 195.1 68.5 202.3 88.3 204.8C108.0 207.4 196.6 240.9 218.2 204.8C239.9 168.7 237.5 22.8 218.2 -11.8C198.9 -46.3 123.0 -6.7 102.4 -2.3Z" fill="#7e4c52"/></g><g filter="url(#b2)"><path d="M49.6 106.9C50.1 109.7 51.2 118.2 52.5 123.9C53.7 129.5 55.3 135.8 57.2 140.8C59.1 145.8 61.1 149.6 63.8 154.0C66.4 158.4 70.1 163.1 73.2 167.2C76.3 171.3 81.0 176.6 82.6 178.5" fill="none" stroke="#a14c52" stroke-width="8.7" stroke-linecap="round"/><path d="M37.4 49.4C37.9 50.9 40.1 54.6 40.2 57.9C40.4 61.2 39.6 65.8 38.3 69.2C37.1 72.7 34.0 75.8 32.7 78.6C31.4 81.5 31.1 84.9 30.8 86.2" fill="none" stroke="#a14c52" stroke-width="5.7" stroke-linecap="round"/><ellipse cx="31.8" cy="150.2" rx="8.5" ry="9.4" fill="#9d4c52"/><ellipse cx="41.6" cy="163.8" rx="5.3" ry="4.9" fill="#9d4c52"/><ellipse cx="49.6" cy="184.1" rx="5.3" ry="4.9" fill="#a14c52"/><ellipse cx="35.1" cy="187.9" rx="4.1" ry="4.1" fill="#a14c52"/><ellipse cx="90.1" cy="167.2" rx="13.2" ry="11.3" fill="#ad4c52"/><ellipse cx="72.3" cy="118.2" rx="5.7" ry="7.5" fill="#a34c52"/><ellipse cx="20.5" cy="112.6" rx="3.0" ry="4.1" fill="#ad4c52"/><ellipse cx="31.8" cy="127.6" rx="3.4" ry="2.6" fill="#b14c52"/><ellipse cx="24.2" cy="25.0" rx="1.9" ry="1.5" fill="#ad4c52"/><ellipse cx="71.3" cy="37.2" rx="2.3" ry="3.0" fill="#a14c52"/><ellipse cx="26.1" cy="182.2" rx="5.7" ry="1.9" fill="#ad4c52" transform="rotate(20 26.1 182.2)"/><ellipse cx="97.7" cy="182.2" rx="7.5" ry="7.5" fill="#a94c52"/></g><g filter="url(#b1_5)"><path d="M50.6 112.6C51.2 115.7 52.8 125.7 54.4 131.4C55.9 137.0 57.8 141.7 60.0 146.5C62.2 151.2 64.7 155.6 67.5 159.6C70.4 163.7 75.4 169.1 77.0 170.9" fill="none" stroke="#764c52" stroke-width="3.4" stroke-linecap="round"/><path d="M38.0 51.3C38.3 52.7 39.9 56.8 39.9 59.8C39.9 62.8 38.9 66.4 38.0 69.2C37.0 72.1 34.7 75.5 34.0 76.8" fill="none" stroke="#6e4c52" stroke-width="2.3" stroke-linecap="round"/><ellipse cx="31.8" cy="150.2" rx="4.7" ry="5.7" fill="#814c52"/><ellipse cx="41.6" cy="163.8" rx="2.6" ry="2.6" fill="#7c4c52"/><ellipse cx="49.6" cy="184.1" rx="2.6" ry="2.6" fill="#6e4c52"/><ellipse cx="35.1" cy="187.9" rx="1.9" ry="2.3" fill="#764c52"/><ellipse cx="54.4" cy="152.1" rx="5.7" ry="2.3" fill="#5e4c52" transform="rotate(35 54.4 152.1)"/><ellipse cx="38.9" cy="55.1" rx="1.1" ry="3.0" fill="#524c52" transform="rotate(5 38.9 55.1)"/><ellipse cx="53.4" cy="152.1" rx="2.3" ry="1.1" fill="#454c52" transform="rotate(35 53.4 152.1)"/></g><g filter="url(#b3)"><path d="M112.8 -2.3C93.4 2.4 106.2 10.5 102.4 16.5C98.6 22.5 93.4 27.5 90.1 33.4C86.9 39.4 84.7 46.0 82.6 52.3C80.6 58.6 78.8 64.8 77.9 71.1C77.0 77.4 76.5 84.3 77.0 89.9C77.4 95.6 78.8 100.0 80.7 105.0C82.6 110.0 84.8 115.4 88.3 120.1C91.7 124.8 97.1 129.5 101.4 133.3C105.8 137.0 112.6 138.9 114.6 142.7C116.7 146.5 114.3 151.2 113.7 155.9C113.1 160.6 112.0 166.2 110.9 170.9C109.8 175.7 109.6 180.0 107.1 184.1C104.6 188.2 99.3 192.0 95.8 195.4C92.3 198.9 66.0 203.3 86.4 204.8C106.8 206.4 196.3 240.9 218.2 204.8C240.2 168.7 235.8 22.8 218.2 -11.8C200.7 -46.3 132.1 -7.1 112.8 -2.3Z" fill="#5c3824"/></g><g filter="url(#b3_5)"><path d="M120.3 -2.3C101.8 2.7 111.3 12.1 107.1 18.4C102.9 24.6 98.2 29.4 94.9 35.3C91.6 41.3 89.4 47.9 87.3 54.2C85.3 60.4 83.5 67.0 82.6 73.0C81.8 79.0 81.8 84.6 82.2 89.9C82.7 95.3 83.6 100.3 85.4 105.0C87.2 109.7 89.7 113.8 93.0 118.2C96.3 122.6 100.7 127.6 105.2 131.4C109.8 135.2 118.1 136.7 120.3 140.8C122.5 144.9 119.3 150.8 118.4 155.9C117.5 160.9 116.0 166.2 114.6 170.9C113.2 175.7 112.4 179.7 109.9 184.1C107.4 188.5 102.2 193.9 99.6 197.3C96.9 200.8 74.1 203.6 93.9 204.8C113.7 206.1 197.5 240.9 218.2 204.8C239.0 168.7 234.6 22.8 218.2 -11.8C201.9 -46.3 138.8 -7.4 120.3 -2.3Z" fill="#433824"/><path d="M158.0 -2.3C148.5 3.0 159.8 13.0 161.7 20.3C163.6 27.5 166.1 35.3 169.3 41.0C172.4 46.6 172.4 50.4 180.6 54.2C188.7 57.9 212.0 74.6 218.2 63.6C224.5 52.6 228.3 -0.8 218.2 -11.8C208.2 -22.8 167.4 -7.7 158.0 -2.3Z" fill="#603824"/><ellipse cx="197.5" cy="14.6" rx="9.4" ry="20.7" fill="#783824"/><ellipse cx="191.9" cy="56.0" rx="11.3" ry="3.8" fill="#723824" transform="rotate(10 191.9 56.0)"/><ellipse cx="173.0" cy="14.6" rx="5.7" ry="17.0" fill="#563824" transform="rotate(10 173.0 14.6)"/><ellipse cx="201.3" cy="150.2" rx="5.7" ry="13.2" fill="#813824"/></g><g filter="url(#b4)"><path d="M97.7 54.2C99.9 47.3 101.4 40.0 105.2 35.3C109.0 30.6 114.0 27.2 120.3 25.9C126.6 24.6 136.6 25.6 142.9 27.8C149.2 30.0 155.8 34.4 158.0 39.1C160.2 43.8 158.0 50.7 156.1 56.0C154.2 61.4 145.7 67.0 146.7 71.1C147.6 75.2 156.1 78.0 161.7 80.5C167.4 83.0 171.1 84.6 180.6 86.2C190.0 87.7 212.0 80.5 218.2 89.9C224.5 99.4 227.6 133.6 218.2 142.7C208.8 151.8 177.4 145.5 161.7 144.6C146.0 143.6 133.5 140.5 124.1 137.0C114.6 133.6 110.2 129.2 105.2 123.9C100.2 118.5 96.1 112.9 93.9 105.0C91.7 97.2 91.4 85.2 92.0 76.8C92.7 68.3 95.5 61.1 97.7 54.2Z" fill="#2f1f14"/><path d="M112.8 157.8C115.9 152.4 122.2 149.6 127.8 148.3C133.5 147.1 141.0 148.3 146.7 150.2C152.3 152.1 157.3 155.9 161.7 159.6C166.1 163.4 169.9 165.3 173.0 172.8C176.2 180.4 191.5 199.5 180.6 204.8C169.6 210.2 119.0 208.9 107.1 204.8C95.2 200.8 108.0 188.2 109.0 180.4C109.9 172.5 109.6 163.1 112.8 157.8Z" fill="#2d1f14"/><ellipse cx="180.6" cy="180.4" rx="22.6" ry="28.3" fill="#351f14"/></g><g filter="url(#b4)"><path d="M105.2 141.2C108.4 141.3 117.8 141.3 124.1 142.1C130.3 142.9 137.1 144.3 142.9 145.9C148.7 147.5 156.2 150.6 158.9 151.5" fill="none" stroke="#683824" stroke-width="6.4" stroke-linecap="round"/></g><g filter="url(#b1_5)"><path d="M97.7 97.5C98.6 94.3 100.8 95.0 105.2 93.7C109.6 92.5 117.1 90.9 124.1 89.9C131.0 89.0 139.1 88.2 146.7 88.1C154.2 87.9 163.6 87.4 169.3 89.0C174.9 90.6 178.0 93.6 180.6 97.5C183.1 101.4 184.3 107.5 184.3 112.6C184.3 117.6 183.1 123.9 180.6 127.6C178.0 131.4 173.7 134.5 169.3 135.2C164.9 135.8 158.6 133.3 154.2 131.4C149.8 129.5 146.0 123.9 142.9 123.9C139.7 123.9 139.1 129.8 135.4 131.4C131.6 133.0 125.0 134.5 120.3 133.3C115.6 132.0 110.6 127.3 107.1 123.9C103.6 120.4 101.1 116.9 99.6 112.6C98.0 108.2 96.7 100.6 97.7 97.5Z" fill="#160908"/><ellipse cx="103.3" cy="60.8" rx="2.4" ry="2.8" fill="#1a0908"/><ellipse cx="107.5" cy="67.9" rx="3.0" ry="3.0" fill="#180908"/><ellipse cx="98.1" cy="78.6" rx="2.6" ry="2.6" fill="#160908"/><ellipse cx="122.2" cy="41.4" rx="7.5" ry="2.6" fill="#220908" transform="rotate(-10 122.2 41.4)"/><ellipse cx="196.6" cy="80.5" rx="7.5" ry="9.4" fill="#1e0908"/><ellipse cx="196.6" cy="114.4" rx="5.7" ry="7.5" fill="#1e0908"/><ellipse cx="173.0" cy="140.8" rx="9.4" ry="5.3" fill="#210908"/><ellipse cx="199.4" cy="137.0" rx="2.6" ry="3.0" fill="#1c0908"/><path d="M116.5 157.8C118.6 154.6 123.4 151.2 127.8 150.2C132.2 149.3 137.9 150.2 142.9 152.1C147.9 154.0 153.9 158.1 158.0 161.5C162.0 165.0 165.2 168.4 167.4 172.8C169.6 177.2 170.7 182.6 171.1 187.9C171.6 193.2 179.9 202.0 170.2 204.8C160.5 207.7 122.3 208.9 112.8 204.8C103.2 200.8 112.3 186.3 112.8 180.4C113.2 174.4 114.9 172.8 115.6 169.1C116.2 165.3 114.5 160.9 116.5 157.8Z" fill="#160908"/></g><g filter="url(#b0_6)"><ellipse cx="131.6" cy="162.5" rx="3.8" ry="7.9" fill="#080000" transform="rotate(-10 131.6 162.5)"/><ellipse cx="137.2" cy="158.1" rx="1.5" ry="4.1" fill="#080000" transform="rotate(-10 137.2 158.1)"/><ellipse cx="148.5" cy="163.4" rx="1.1" ry="0.9" fill="#080000"/><ellipse cx="152.3" cy="102.2" rx="1.7" ry="1.5" fill="#080000"/><ellipse cx="162.7" cy="104.1" rx="1.1" ry="0.8" fill="#080000"/><ellipse cx="125.0" cy="117.3" rx="0.9" ry="1.1" fill="#080000"/><ellipse cx="98.1" cy="78.6" rx="0.9" ry="0.9" fill="#0a0000"/></g></g></svg>
<svg x="718.2" y="1413.35" width="199.8" height="199.6" viewBox="0 0 200 200" preserveAspectRatio="none"><g filter="url(#ir2)"><rect x="-5" y="-5" width="260" height="260" fill="#d80f0d"/><g filter="url(#b6)"><ellipse cx="86.4" cy="33.4" rx="24.5" ry="37.7" fill="#ca0f0d"/><ellipse cx="39.3" cy="112.6" rx="26.4" ry="17.0" fill="#e00f0d"/><ellipse cx="29.9" cy="170.9" rx="37.7" ry="30.1" fill="#ca0f0d"/><ellipse cx="90.1" cy="157.8" rx="11.3" ry="28.3" fill="#c60f0d"/><ellipse cx="48.7" cy="48.5" rx="11.3" ry="18.8" fill="#ce0f0d" transform="rotate(30 48.7 48.5)"/></g><g filter="url(#b2)"><ellipse cx="23.3" cy="152.1" rx="4.7" ry="13.2" fill="#a94c52" transform="rotate(-20 23.3 152.1)"/><ellipse cx="3.5" cy="170.9" rx="3.8" ry="7.5" fill="#ad4c52"/><ellipse cx="11.0" cy="182.2" rx="9.4" ry="2.3" fill="#b14c52"/><ellipse cx="71.3" cy="180.4" rx="2.3" ry="5.7" fill="#ad4c52" transform="rotate(-15 71.3 180.4)"/><ellipse cx="54.4" cy="142.7" rx="5.7" ry="2.6" fill="#b14c52" transform="rotate(20 54.4 142.7)"/><ellipse cx="84.5" cy="14.6" rx="2.3" ry="1.9" fill="#ad4c52"/><ellipse cx="97.7" cy="7.1" rx="2.3" ry="1.9" fill="#ad4c52"/><ellipse cx="92.0" cy="20.3" rx="2.3" ry="1.9" fill="#ad4c52"/><ellipse cx="80.7" cy="3.3" rx="1.9" ry="1.5" fill="#ad4c52"/><ellipse cx="44.9" cy="26.8" rx="1.5" ry="3.8" fill="#a94c52"/><ellipse cx="67.5" cy="27.8" rx="1.5" ry="2.6" fill="#ad4c52"/><ellipse cx="23.3" cy="69.2" rx="3.8" ry="9.0" fill="#a14c52" transform="rotate(25 23.3 69.2)"/><ellipse cx="52.5" cy="11.8" rx="6.8" ry="3.0" fill="#a14c52" transform="rotate(20 52.5 11.8)"/><ellipse cx="39.3" cy="20.3" rx="4.7" ry="1.5" fill="#a54c52" transform="rotate(-30 39.3 20.3)"/><ellipse cx="3.5" cy="191.7" rx="5.7" ry="7.5" fill="#ad4c52"/><path d="M67.5 65.5C67.1 68.3 65.2 76.8 64.7 82.4C64.2 88.1 64.2 94.3 64.7 99.4C65.2 104.4 65.8 107.8 67.5 112.6C69.3 117.3 71.9 122.9 75.1 127.6C78.2 132.3 84.5 138.6 86.4 140.8" fill="none" stroke="#a14c52" stroke-width="7.5" stroke-linecap="round"/><path d="M67.5 135.2C69.1 138.9 73.5 150.8 77.0 157.8C80.4 164.7 84.8 170.9 88.3 176.6C91.7 182.2 95.2 187.0 97.7 191.7C100.2 196.4 102.4 202.6 103.3 204.8" fill="none" stroke="#a14c52" stroke-width="10.5" stroke-linecap="round"/><path d="M75.1 54.2C74.8 57.3 72.6 66.4 73.2 73.0C73.8 79.6 76.0 87.7 78.8 93.7C81.7 99.7 86.7 105.2 90.1 108.8C93.6 112.4 98.0 114.3 99.6 115.4" fill="none" stroke="#a14c52" stroke-width="2.6" stroke-linecap="round"/><ellipse cx="89.2" cy="119.1" rx="3.0" ry="2.6" fill="#994c52"/><ellipse cx="113.7" cy="127.2" rx="8.5" ry="2.3" fill="#ad4c52"/></g><g filter="url(#b1_5)"><path d="M67.2 71.1C66.8 73.6 65.3 81.5 64.9 86.2C64.5 90.9 64.4 95.0 64.9 99.4C65.4 103.8 66.1 107.8 67.9 112.6C69.8 117.3 72.8 122.9 76.0 127.6C79.3 132.3 85.4 138.6 87.3 140.8" fill="none" stroke="#7c4c52" stroke-width="3.0" stroke-linecap="round"/><path d="M71.3 142.7C72.9 145.8 77.6 155.9 80.7 161.5C83.9 167.2 87.3 171.6 90.1 176.6C93.0 181.6 95.6 187.0 97.7 191.7C99.7 196.4 101.6 202.6 102.4 204.8" fill="none" stroke="#724c52" stroke-width="4.1" stroke-linecap="round"/><ellipse cx="23.3" cy="69.2" rx="1.7" ry="6.8" fill="#7c4c52" transform="rotate(25 23.3 69.2)"/><ellipse cx="52.5" cy="11.8" rx="4.1" ry="1.3" fill="#7c4c52" transform="rotate(20 52.5 11.8)"/><ellipse cx="64.7" cy="99.7" rx="2.4" ry="3.0" fill="#4b4c52"/><ellipse cx="89.2" cy="119.1" rx="1.7" ry="1.5" fill="#6e4c52"/></g><g filter="url(#b2)"><path d="M112.8 -4.2C92.7 1.7 102.5 16.2 97.7 24.0C92.8 31.9 86.9 35.6 83.6 42.9C80.2 50.1 77.8 59.5 77.3 67.3C76.9 75.2 78.0 83.0 80.7 89.9C83.5 96.9 89.2 103.1 93.9 108.8C98.6 114.4 105.8 118.5 109.0 123.9C112.1 129.2 111.8 134.5 112.8 140.8C113.7 147.1 115.6 154.9 114.6 161.5C113.7 168.1 109.9 173.1 107.1 180.4C104.3 187.6 79.2 200.8 97.7 204.8C116.2 208.9 198.1 240.9 218.2 204.8C238.3 168.7 235.8 23.1 218.2 -11.8C200.7 -46.6 132.8 -10.2 112.8 -4.2Z" fill="#a34c52"/></g><g filter="url(#b3)"><path d="M122.2 -4.2C103.0 1.7 109.0 16.2 103.3 24.0C97.7 31.9 92.0 35.6 88.3 42.9C84.5 50.1 81.5 59.5 80.7 67.3C80.0 75.2 81.3 83.2 83.9 89.9C86.6 96.7 91.9 102.5 96.7 107.8C101.5 113.2 109.5 116.5 112.8 122.0C116.0 127.5 115.7 134.2 116.5 140.8C117.3 147.4 118.4 154.9 117.5 161.5C116.5 168.1 113.2 173.1 110.9 180.4C108.5 187.6 85.4 200.8 103.3 204.8C121.2 208.9 199.1 240.9 218.2 204.8C237.4 168.7 234.2 23.1 218.2 -11.8C202.2 -46.6 141.3 -10.2 122.2 -4.2Z" fill="#7e4c52"/><ellipse cx="182.4" cy="18.4" rx="20.7" ry="11.3" fill="#a14c52" transform="rotate(-40 182.4 18.4)"/><ellipse cx="195.6" cy="54.2" rx="5.7" ry="17.0" fill="#994c52" transform="rotate(10 195.6 54.2)"/><ellipse cx="173.0" cy="3.3" rx="11.3" ry="4.7" fill="#a14c52"/></g><g filter="url(#b3_5)"><ellipse cx="139.1" cy="64.5" rx="59.9" ry="58.0" fill="#5c3824"/><path d="M112.8 138.9C113.8 134.1 119.0 133.1 124.1 132.3C129.1 131.5 136.6 134.4 142.9 134.2C149.2 134.1 155.4 133.1 161.7 131.4C168.0 129.7 171.1 123.9 180.6 123.9C190.0 123.9 212.0 117.9 218.2 131.4C224.5 144.9 237.1 192.6 218.2 204.8C199.4 217.1 122.8 208.9 105.2 204.8C87.6 200.8 110.7 187.6 112.8 180.4C114.8 173.1 117.5 168.4 117.5 161.5C117.5 154.6 111.7 143.8 112.8 138.9Z" fill="#5c3824"/></g><g filter="url(#b3_5)"><ellipse cx="138.7" cy="65.1" rx="55.6" ry="53.7" fill="#413824"/><path d="M115.6 140.8C116.2 136.6 119.5 136.6 124.1 136.1C128.6 135.6 136.6 137.8 142.9 138.0C149.2 138.1 155.4 137.5 161.7 137.0C168.0 136.6 175.2 134.2 180.6 135.2C185.9 136.1 191.1 131.1 193.7 142.7C196.4 154.3 210.9 194.5 196.6 204.8C182.3 215.2 121.5 208.9 108.0 204.8C94.5 200.8 113.5 187.6 115.6 180.4C117.6 173.1 120.3 168.1 120.3 161.5C120.3 154.9 114.9 145.0 115.6 140.8Z" fill="#413824"/></g><g filter="url(#b3_5)"><path d="M105.2 128.0C108.4 128.5 117.8 130.7 124.1 130.8C130.3 131.0 136.6 130.3 142.9 128.9C149.2 127.5 156.5 124.4 161.7 122.3C166.9 120.3 171.9 117.6 174.0 116.7" fill="none" stroke="#934c52" stroke-width="10.9" stroke-linecap="round"/><path d="M173.0 123.9C175.5 125.0 182.8 128.4 188.1 130.4C193.4 132.5 202.2 135.2 205.0 136.1" fill="none" stroke="#6e4c52" stroke-width="7.5" stroke-linecap="round"/></g><g filter="url(#b2)"><path d="M135.4 130.4C137.9 130.0 145.4 129.2 150.4 127.6C155.4 126.0 163.0 122.1 165.5 121.0" fill="none" stroke="#a74c52" stroke-width="4.1" stroke-linecap="round"/></g><g filter="url(#b5)"><ellipse cx="136.9" cy="65.5" rx="49.4" ry="44.8" fill="#2a1f14"/><ellipse cx="191.9" cy="114.4" rx="17.0" ry="20.7" fill="#2f1f14"/><ellipse cx="142.9" cy="172.8" rx="37.7" ry="35.8" fill="#2d1f14"/></g><g filter="url(#b2_5)"><path d="M97.7 67.3C98.9 62.0 104.6 57.0 109.0 54.2C113.4 51.3 119.0 51.3 124.1 50.4C129.1 49.4 135.0 46.9 139.1 48.5C143.2 50.1 147.3 55.4 148.5 59.8C149.8 64.2 148.2 70.5 146.7 74.9C145.1 79.3 141.0 82.4 139.1 86.2C137.2 89.9 137.9 94.3 135.4 97.5C132.8 100.6 126.9 103.1 124.1 105.0C121.2 106.9 120.9 109.7 118.4 108.8C115.9 107.8 111.8 103.1 109.0 99.4C106.2 95.6 103.3 91.5 101.4 86.2C99.6 80.8 96.4 72.7 97.7 67.3Z" fill="#160908"/></g><g filter="url(#b1_5)"><ellipse cx="158.0" cy="89.9" rx="6.8" ry="9.8" fill="#1e0908" transform="rotate(-30 158.0 89.9)"/><ellipse cx="173.0" cy="99.7" rx="4.7" ry="3.4" fill="#1e0908"/><ellipse cx="190.0" cy="113.5" rx="10.9" ry="8.5" fill="#1e0908"/><ellipse cx="192.8" cy="104.6" rx="3.8" ry="2.6" fill="#1c0908"/><ellipse cx="197.9" cy="128.0" rx="3.4" ry="3.0" fill="#1e0908"/><path d="M114.6 140.8C115.9 138.3 123.4 137.0 127.8 137.0C132.2 137.0 137.9 138.9 141.0 140.8C144.1 142.7 146.3 145.5 146.7 148.3C147.0 151.2 144.8 155.6 142.9 157.8C141.0 160.0 137.9 161.8 135.4 161.5C132.8 161.2 130.3 157.4 127.8 155.9C125.3 154.3 122.5 154.6 120.3 152.1C118.1 149.6 113.4 143.3 114.6 140.8Z" fill="#1e0908"/><path d="M122.2 172.8C124.7 170.0 130.6 168.1 135.4 167.2C140.1 166.2 146.0 166.5 150.4 167.2C154.8 167.8 158.0 168.7 161.7 170.9C165.5 173.1 170.7 174.7 173.0 180.4C175.4 186.0 184.3 200.8 175.9 204.8C167.4 208.9 131.4 208.3 122.2 204.8C112.9 201.4 120.3 189.5 120.3 184.1C120.3 178.8 119.7 175.7 122.2 172.8Z" fill="#1c0908"/><ellipse cx="156.1" cy="136.1" rx="3.0" ry="3.8" fill="#1a0908"/></g><g filter="url(#b0_6)"><ellipse cx="117.5" cy="92.8" rx="3.2" ry="6.0" fill="#080000"/><ellipse cx="106.2" cy="80.5" rx="1.1" ry="0.8" fill="#080000"/><ellipse cx="109.9" cy="87.1" rx="1.3" ry="0.9" fill="#080000"/><ellipse cx="125.9" cy="91.8" rx="0.8" ry="0.9" fill="#080000"/><ellipse cx="118.8" cy="104.1" rx="1.1" ry="1.5" fill="#080000"/><ellipse cx="135.7" cy="168.5" rx="2.3" ry="1.5" fill="#080000" transform="rotate(-30 135.7 168.5)"/></g></g></svg>
<svg x="718.2" y="1651.0" width="199.8" height="199.6" viewBox="0 0 200 200" preserveAspectRatio="none"><g filter="url(#ir3)"><rect x="-5" y="-5" width="260" height="260" fill="#db0f0d"/><g filter="url(#b6)"><ellipse cx="80.7" cy="18.4" rx="33.9" ry="20.7" fill="#ca0f0d"/><ellipse cx="39.3" cy="180.4" rx="49.0" ry="22.6" fill="#c40f0d"/><ellipse cx="14.8" cy="25.9" rx="15.1" ry="11.3" fill="#ce0f0d"/><ellipse cx="67.5" cy="54.2" rx="9.4" ry="22.6" fill="#ce0f0d"/></g><g filter="url(#b2)"><path d="M9.2 161.5C14.5 160.3 24.5 167.8 29.9 172.8C35.2 177.8 39.9 186.3 41.2 191.7C42.4 197.0 44.6 202.6 37.4 204.8C30.2 207.0 4.4 208.9 -2.1 204.8C-8.7 200.8 -4.0 187.6 -2.1 180.4C-0.3 173.1 3.8 162.8 9.2 161.5Z" fill="#a54c52"/><ellipse cx="48.7" cy="167.2" rx="4.1" ry="2.6" fill="#b14c52" transform="rotate(30 48.7 167.2)"/><ellipse cx="63.8" cy="191.7" rx="6.4" ry="3.8" fill="#ad4c52" transform="rotate(30 63.8 191.7)"/><ellipse cx="56.2" cy="159.6" rx="5.7" ry="1.9" fill="#b14c52" transform="rotate(20 56.2 159.6)"/><ellipse cx="80.7" cy="167.2" rx="7.5" ry="4.1" fill="#a94c52" transform="rotate(30 80.7 167.2)"/><ellipse cx="28.9" cy="45.7" rx="5.7" ry="11.7" fill="#a14c52" transform="rotate(30 28.9 45.7)"/><ellipse cx="15.7" cy="53.2" rx="3.0" ry="1.5" fill="#ad4c52" transform="rotate(-30 15.7 53.2)"/></g><g filter="url(#b1_5)"><ellipse cx="28.9" cy="45.7" rx="3.0" ry="8.7" fill="#5a4c52" transform="rotate(30 28.9 45.7)"/><ellipse cx="24.2" cy="192.6" rx="10.4" ry="4.1" fill="#564c52" transform="rotate(25 24.2 192.6)"/><ellipse cx="28.0" cy="46.6" rx="1.5" ry="5.7" fill="#434c52" transform="rotate(30 28.0 46.6)"/><ellipse cx="24.2" cy="193.2" rx="6.8" ry="2.1" fill="#434c52" transform="rotate(25 24.2 193.2)"/></g><g filter="url(#b1_5)"><path d="M117.5 -4.2C98.6 0.5 109.1 10.2 105.2 16.5C101.3 22.8 97.7 28.1 93.9 33.4C90.1 38.8 85.4 42.9 82.6 48.5C79.8 54.2 78.5 61.1 77.0 67.3C75.4 73.6 74.1 79.9 73.2 86.2C72.3 92.5 71.3 98.7 71.3 105.0C71.3 111.3 72.6 117.6 73.2 123.9C73.8 130.1 74.5 137.0 75.1 142.7C75.7 148.3 76.0 152.7 77.0 157.8C77.9 162.8 79.8 167.8 80.7 172.8C81.7 177.8 82.6 182.6 82.6 187.9C82.6 193.2 58.1 202.0 80.7 204.8C103.3 207.7 195.3 240.9 218.2 204.8C241.1 168.7 235.0 23.1 218.2 -11.8C201.4 -46.6 136.3 -8.9 117.5 -4.2Z" fill="#a94c52"/></g><g filter="url(#b3)"><path d="M126.9 -4.2C109.3 0.8 117.3 11.5 112.8 18.4C108.2 25.3 103.5 30.9 99.6 37.2C95.6 43.5 91.8 49.8 89.2 56.0C86.6 62.3 85.3 68.0 83.9 74.9C82.5 81.8 80.9 89.9 80.7 97.5C80.5 105.0 82.0 112.6 82.6 120.1C83.2 127.6 82.0 136.4 84.5 142.7C87.0 149.0 94.9 151.5 97.7 157.8C100.5 164.0 102.1 172.5 101.4 180.4C100.8 188.2 74.5 200.8 93.9 204.8C113.4 208.9 197.5 240.9 218.2 204.8C239.0 168.7 233.5 23.1 218.2 -11.8C203.0 -46.6 144.5 -9.3 126.9 -4.2Z" fill="#7c4c52"/><ellipse cx="191.9" cy="18.4" rx="7.9" ry="15.1" fill="#a94c52"/><ellipse cx="86.4" cy="170.9" rx="9.4" ry="11.3" fill="#a14c52" transform="rotate(-20 86.4 170.9)"/><ellipse cx="82.6" cy="82.4" rx="1.9" ry="11.3" fill="#a94c52" transform="rotate(5 82.6 82.4)"/><ellipse cx="80.7" cy="48.5" rx="2.3" ry="9.4" fill="#a54c52" transform="rotate(20 80.7 48.5)"/><path d="M161.7 105.0C164.9 105.3 173.3 105.6 180.6 106.9C187.8 108.2 201.0 111.6 205.0 112.6" fill="none" stroke="#9d4c52" stroke-width="8.7" stroke-linecap="round"/><ellipse cx="135.4" cy="110.7" rx="5.7" ry="1.9" fill="#994c52"/><ellipse cx="97.7" cy="135.2" rx="7.5" ry="2.3" fill="#994c52" transform="rotate(-40 97.7 135.2)"/><ellipse cx="103.3" cy="148.3" rx="5.7" ry="1.9" fill="#994c52" transform="rotate(-30 103.3 148.3)"/></g><g filter="url(#b4)"><path d="M84.5 74.9C84.0 68.9 86.2 60.6 89.2 54.2C92.2 47.7 96.6 41.3 102.4 36.3C108.2 31.2 116.4 26.4 124.1 24.0C131.7 21.7 141.6 21.2 148.5 22.1C155.4 23.1 159.8 25.9 165.5 29.7C171.1 33.4 177.1 40.0 182.4 44.7C187.8 49.4 194.1 52.9 197.5 57.9C201.0 62.9 203.2 69.5 203.2 74.9C203.2 80.2 201.3 86.0 197.5 89.9C193.7 93.9 186.5 96.2 180.6 98.4C174.6 100.6 168.0 102.0 161.7 103.1C155.4 104.2 149.2 105.0 142.9 105.0C136.6 105.0 130.3 104.1 124.1 103.1C117.8 102.2 110.6 101.6 105.2 99.4C99.9 97.2 95.5 94.0 92.0 89.9C88.6 85.9 85.0 80.8 84.5 74.9Z" fill="#5c3824"/><path d="M107.1 140.8C110.6 135.5 114.6 129.7 120.3 125.7C125.9 121.8 133.2 118.7 141.0 117.3C148.9 115.8 159.5 115.8 167.4 117.3C175.2 118.7 182.6 121.8 188.1 125.7C193.6 129.7 195.3 134.8 200.3 140.8C205.4 146.8 215.2 150.8 218.2 161.5C221.2 172.2 239.3 197.6 218.2 204.8C197.2 212.1 112.4 208.9 92.0 204.8C71.6 200.8 94.5 188.2 95.8 180.4C97.1 172.5 97.7 164.3 99.6 157.8C101.4 151.2 103.6 146.1 107.1 140.8Z" fill="#5c3824"/><path d="M93.9 97.5C94.5 100.6 95.8 110.7 97.7 116.3C99.6 122.0 103.3 127.0 105.2 131.4C107.1 135.8 108.4 140.8 109.0 142.7" fill="none" stroke="#663824" stroke-width="5.7" stroke-linecap="round"/><ellipse cx="156.1" cy="12.7" rx="22.6" ry="5.7" fill="#663824" transform="rotate(-30 156.1 12.7)"/><ellipse cx="112.8" cy="120.1" rx="7.5" ry="11.3" fill="#683824" transform="rotate(-20 112.8 120.1)"/></g><g filter="url(#b4)"><path d="M90.1 73.0C89.7 67.9 92.2 60.5 94.9 55.1C97.5 49.7 101.1 44.7 106.2 40.6C111.2 36.5 118.2 32.6 125.0 30.6C131.7 28.6 140.5 27.8 146.7 28.7C152.8 29.7 156.7 32.8 161.7 36.3C166.7 39.7 171.8 45.4 176.8 49.4C181.8 53.5 188.5 56.8 191.9 60.8C195.3 64.7 197.1 69.2 197.1 73.4C197.1 77.5 195.3 82.5 191.9 85.8C188.5 89.1 181.8 91.5 176.8 93.3C171.8 95.2 167.4 96.2 161.7 97.1C156.1 98.0 149.2 99.0 142.9 99.0C136.6 99.0 129.6 98.0 124.1 97.1C118.5 96.2 113.8 95.2 109.4 93.3C105.0 91.5 100.9 89.2 97.7 85.8C94.5 82.4 90.6 78.1 90.1 73.0Z" fill="#433824"/><path d="M112.8 142.7C116.0 138.0 120.0 133.7 125.0 130.4C130.0 127.1 136.1 124.2 142.9 122.9C149.6 121.7 158.6 121.7 165.5 122.9C172.4 124.2 179.3 127.0 184.3 130.4C189.3 133.9 192.8 138.4 195.6 143.6C198.5 148.8 197.5 151.3 201.3 161.5C205.0 171.7 235.5 197.6 218.2 204.8C201.0 212.1 117.1 208.9 97.7 204.8C78.3 200.8 100.5 188.1 101.8 180.4C103.1 172.7 103.8 165.0 105.6 158.7C107.4 152.4 109.5 147.4 112.8 142.7Z" fill="#433824"/><ellipse cx="110.9" cy="111.0" rx="4.5" ry="4.1" fill="#3f3824"/></g><g filter="url(#b4)"><path d="M107.1 48.5C109.6 41.6 114.3 37.5 120.3 35.3C126.2 33.1 137.9 33.1 142.9 35.3C147.9 37.5 147.3 43.8 150.4 48.5C153.6 53.2 158.3 59.8 161.7 63.6C165.2 67.3 169.3 67.3 171.1 71.1C173.0 74.9 175.2 82.4 173.0 86.2C170.8 89.9 164.2 93.1 158.0 93.7C151.7 94.3 142.3 90.9 135.4 89.9C128.4 89.0 121.5 90.3 116.5 88.1C111.5 85.9 106.8 83.4 105.2 76.8C103.6 70.2 104.6 55.4 107.1 48.5Z" fill="#2d1f14"/><path d="M116.5 142.7C121.2 136.1 128.4 133.6 135.4 131.4C142.3 129.2 151.0 128.2 158.0 129.5C164.9 130.8 171.8 134.2 176.8 138.9C181.8 143.6 186.2 150.8 188.1 157.8C190.0 164.7 189.3 172.5 188.1 180.4C186.8 188.2 194.4 200.8 180.6 204.8C166.7 208.9 117.4 210.5 105.2 204.8C93.0 199.2 105.6 181.3 107.5 170.9C109.4 160.6 111.9 149.3 116.5 142.7Z" fill="#2d1f14"/></g><g filter="url(#b1_5)"><path d="M109.0 74.9C109.6 72.4 113.4 68.9 116.5 67.3C119.7 65.8 124.4 65.1 127.8 65.5C131.3 65.8 135.0 67.7 137.2 69.2C139.4 70.8 141.3 72.7 141.0 74.9C140.7 77.1 138.2 80.8 135.4 82.4C132.5 84.0 127.8 84.3 124.1 84.3C120.3 84.3 115.3 84.0 112.8 82.4C110.2 80.8 108.4 77.4 109.0 74.9Z" fill="#160908"/><path d="M146.7 73.0C147.6 71.0 151.4 67.3 154.2 66.4C157.0 65.5 161.1 65.9 163.6 67.3C166.1 68.8 168.6 72.1 169.3 74.9C169.9 77.7 168.9 81.8 167.4 84.3C165.8 86.8 162.4 89.9 159.8 89.9C157.3 89.9 154.2 86.2 152.3 84.3C150.4 82.4 149.5 80.5 148.5 78.6C147.6 76.8 145.7 75.0 146.7 73.0Z" fill="#1c0908"/><ellipse cx="127.8" cy="50.8" rx="17.3" ry="4.1" fill="#210908" transform="rotate(-5 127.8 50.8)"/><ellipse cx="114.6" cy="58.3" rx="5.7" ry="2.6" fill="#1e0908" transform="rotate(-20 114.6 58.3)"/><ellipse cx="112.8" cy="110.3" rx="1.9" ry="1.7" fill="#270908"/><path d="M120.3 146.5C122.2 144.9 124.4 152.1 127.8 152.1C131.3 152.1 137.2 148.0 141.0 146.5C144.8 144.9 147.6 141.7 150.4 142.7C153.2 143.6 156.4 148.0 158.0 152.1C159.5 156.2 158.9 162.5 159.8 167.2C160.8 171.9 164.2 176.3 163.6 180.4C163.0 184.4 159.5 188.8 156.1 191.7C152.6 194.5 147.0 197.0 142.9 197.3C138.8 197.6 134.7 195.4 131.6 193.5C128.4 191.7 127.2 188.2 124.1 186.0C120.9 183.8 115.3 182.6 112.8 180.4C110.2 178.2 108.4 176.0 109.0 172.8C109.6 169.7 114.6 165.9 116.5 161.5C118.4 157.1 118.4 148.0 120.3 146.5Z" fill="#160908"/></g><g filter="url(#b0_6)"><ellipse cx="115.6" cy="75.8" rx="3.0" ry="5.3" fill="#080000" transform="rotate(-10 115.6 75.8)"/><ellipse cx="152.3" cy="78.6" rx="1.1" ry="1.1" fill="#080000"/><ellipse cx="126.3" cy="159.3" rx="1.7" ry="2.4" fill="#080000" transform="rotate(15 126.3 159.3)"/><ellipse cx="128.2" cy="166.2" rx="1.1" ry="1.1" fill="#080000"/></g></g></svg>
<svg x="718.2" y="1888.45" width="199.8" height="199.6" viewBox="0 0 200 200" preserveAspectRatio="none"><g filter="url(#ir4)"><rect x="-5" y="-5" width="260" height="260" fill="#d80f0d"/><g filter="url(#b6)"><ellipse cx="69.4" cy="54.2" rx="13.2" ry="56.5" fill="#c20f0d"/><ellipse cx="48.7" cy="189.8" rx="37.7" ry="9.4" fill="#c60f0d"/><ellipse cx="20.5" cy="39.1" rx="17.0" ry="22.6" fill="#d00f0d"/><ellipse cx="71.3" cy="138.9" rx="9.4" ry="22.6" fill="#c60f0d"/></g><g filter="url(#b1_5)"><ellipse cx="28.9" cy="27.8" rx="1.7" ry="2.1" fill="#a94c52"/><ellipse cx="16.7" cy="79.6" rx="1.7" ry="2.1" fill="#a94c52"/><ellipse cx="3.5" cy="100.3" rx="1.7" ry="2.1" fill="#a94c52"/><ellipse cx="28.0" cy="170.0" rx="1.7" ry="2.1" fill="#a94c52"/><ellipse cx="65.7" cy="16.5" rx="1.7" ry="2.1" fill="#a94c52"/><ellipse cx="73.2" cy="18.4" rx="1.7" ry="2.1" fill="#a94c52"/><ellipse cx="78.8" cy="9.0" rx="1.7" ry="2.1" fill="#a94c52"/><ellipse cx="69.4" cy="10.8" rx="1.7" ry="2.1" fill="#a94c52"/><ellipse cx="58.1" cy="37.2" rx="1.7" ry="2.1" fill="#a94c52"/><ellipse cx="63.8" cy="67.3" rx="1.7" ry="2.1" fill="#a94c52"/><ellipse cx="63.8" cy="89.9" rx="1.7" ry="2.1" fill="#a94c52"/><ellipse cx="67.5" cy="97.5" rx="1.7" ry="2.1" fill="#a94c52"/><ellipse cx="75.1" cy="80.5" rx="1.7" ry="2.1" fill="#a94c52"/><ellipse cx="71.3" cy="54.2" rx="1.7" ry="2.1" fill="#a94c52"/></g><g filter="url(#b2)"><path d="M9.2 189.8C14.2 189.5 30.8 189.9 39.3 187.9C47.8 185.9 54.4 178.9 60.0 177.5C65.7 176.1 67.9 178.9 73.2 179.4C78.5 179.9 88.9 180.2 92.0 180.4" fill="none" stroke="#a34c52" stroke-width="13.2" stroke-linecap="round"/></g><g filter="url(#b2)"><path d="M12.9 189.4C17.3 189.1 31.4 190.0 39.3 187.9C47.1 185.8 54.4 178.5 60.0 177.0C65.7 175.5 68.2 178.3 73.2 178.9C78.2 179.4 87.3 180.1 90.1 180.4" fill="none" stroke="#7a4c52" stroke-width="6.4" stroke-linecap="round"/><ellipse cx="54.4" cy="190.2" rx="7.5" ry="4.1" fill="#c04c52"/><ellipse cx="80.7" cy="190.2" rx="4.5" ry="4.5" fill="#c04c52"/><ellipse cx="16.7" cy="188.8" rx="7.2" ry="4.5" fill="#524c52" transform="rotate(30 16.7 188.8)"/><ellipse cx="60.0" cy="175.7" rx="3.4" ry="2.3" fill="#4b4c52" transform="rotate(20 60.0 175.7)"/><ellipse cx="16.3" cy="188.5" rx="5.3" ry="3.0" fill="#294c52" transform="rotate(30 16.3 188.5)"/></g><g filter="url(#b1_5)"><path d="M84.5 -15.5C60.4 -12.7 84.2 -7.4 84.9 -2.3C85.5 2.7 88.7 9.3 88.3 14.6C87.8 19.9 83.9 24.0 82.2 29.7C80.6 35.3 79.1 42.2 78.5 48.5C77.8 54.8 78.2 61.1 78.5 67.3C78.8 73.6 80.4 81.2 80.4 86.2C80.4 91.2 79.7 93.1 78.5 97.5C77.2 101.9 72.8 107.5 72.8 112.6C72.8 117.6 76.6 122.6 78.5 127.6C80.4 132.6 82.5 137.7 84.1 142.7C85.8 147.7 86.8 153.4 88.3 157.8C89.7 162.2 92.3 165.3 93.0 169.1C93.6 172.8 94.1 177.2 92.0 180.4C90.0 183.5 84.5 183.8 80.7 187.9C77.0 192.0 44.6 200.5 69.4 204.8C94.2 209.2 202.8 251.6 229.5 214.3C256.2 176.9 253.7 19.0 229.5 -19.3C205.4 -57.6 108.6 -18.4 84.5 -15.5Z" fill="#a94c52"/></g><g filter="url(#b3)"><path d="M94.9 -15.5C72.4 -12.7 94.2 -7.7 94.9 -2.3C95.5 3.0 99.0 10.5 98.6 16.5C98.2 22.5 94.5 27.5 92.6 33.4C90.7 39.4 88.5 46.0 87.3 52.3C86.2 58.6 85.5 64.8 85.8 71.1C86.1 77.4 88.5 84.3 89.2 89.9C89.9 95.6 90.3 100.0 90.1 105.0C90.0 110.0 87.9 115.1 88.3 120.1C88.6 125.1 90.6 130.1 92.0 135.2C93.5 140.2 95.7 145.8 97.1 150.2C98.5 154.6 99.5 156.5 100.5 161.5C101.5 166.5 104.9 173.1 103.3 180.4C101.8 187.6 70.1 199.2 91.1 204.8C112.1 210.5 206.5 251.6 229.5 214.3C252.6 176.9 252.0 19.0 229.5 -19.3C207.1 -57.6 117.3 -18.4 94.9 -15.5Z" fill="#7e4c52"/></g><g filter="url(#b4_5)"><path d="M109.0 -4.2C90.1 1.1 107.1 13.0 105.2 20.3C103.3 27.5 99.9 32.8 97.7 39.1C95.5 45.4 93.3 51.6 92.0 57.9C90.8 64.2 89.7 70.2 90.1 76.8C90.6 83.4 93.8 90.3 94.9 97.5C96.0 104.7 95.8 113.2 96.7 120.1C97.7 127.0 99.1 133.3 100.5 138.9C101.9 144.6 104.1 147.1 105.2 154.0C106.3 160.9 108.4 171.9 107.1 180.4C105.8 188.8 79.2 200.8 97.7 204.8C116.2 208.9 198.1 240.9 218.2 204.8C238.3 168.7 236.4 23.1 218.2 -11.8C200.0 -46.6 127.8 -9.6 109.0 -4.2Z" fill="#5e3824"/><ellipse cx="190.0" cy="63.6" rx="11.3" ry="24.5" fill="#703824" transform="rotate(10 190.0 63.6)"/><ellipse cx="161.7" cy="18.4" rx="7.5" ry="18.8" fill="#6c3824" transform="rotate(20 161.7 18.4)"/><ellipse cx="197.5" cy="155.9" rx="7.5" ry="24.5" fill="#6e3824"/><path d="M112.8 106.0C117.8 105.5 133.2 104.8 142.9 103.5C152.6 102.3 160.8 99.0 171.1 98.4C181.5 97.9 199.4 100.0 205.0 100.3" fill="none" stroke="#7c3824" stroke-width="10.4" stroke-linecap="round"/><ellipse cx="135.4" cy="110.7" rx="24.5" ry="9.4" fill="#6e3824" transform="rotate(-5 135.4 110.7)"/><ellipse cx="197.5" cy="27.8" rx="7.5" ry="20.7" fill="#473824"/><ellipse cx="114.6" cy="24.0" rx="7.5" ry="20.7" fill="#4e3824" transform="rotate(15 114.6 24.0)"/></g><g filter="url(#b2_5)"><path d="M180.6 102.2C184.6 102.3 201.0 103.0 205.0 103.1" fill="none" stroke="#9b3824" stroke-width="3.4" stroke-linecap="round"/><path d="M188.1 120.1C190.9 120.4 202.2 121.7 205.0 122.0" fill="none" stroke="#9b3824" stroke-width="2.6" stroke-linecap="round"/></g><g filter="url(#b4)"><path d="M84.5 80.5C85.1 75.2 86.7 68.9 90.1 63.6C93.6 58.2 99.6 52.0 105.2 48.5C110.9 45.1 117.8 43.2 124.1 42.9C130.3 42.5 137.2 44.4 142.9 46.6C148.5 48.8 153.9 52.0 158.0 56.0C162.0 60.1 166.1 66.1 167.4 71.1C168.6 76.1 167.7 82.4 165.5 86.2C163.3 89.9 158.6 92.5 154.2 93.7C149.8 95.0 144.1 94.3 139.1 93.7C134.1 93.1 128.4 89.3 124.1 89.9C119.7 90.6 115.6 93.7 112.8 97.5C109.9 101.2 108.7 107.5 107.1 112.6C105.5 117.6 103.6 122.6 103.3 127.6C103.0 132.6 106.2 138.9 105.2 142.7C104.3 146.5 99.9 152.1 97.7 150.2C95.5 148.3 93.4 138.3 92.0 131.4C90.6 124.5 90.1 114.7 89.2 108.8C88.3 102.8 87.2 100.3 86.4 95.6C85.6 90.9 83.9 85.9 84.5 80.5Z" fill="#413824"/><path d="M97.7 154.0C99.3 148.3 100.8 137.5 105.2 131.4C109.6 125.3 117.1 120.2 124.1 117.3C131.0 114.3 139.7 112.9 146.7 113.5C153.6 114.1 160.5 116.8 165.5 121.0C170.5 125.3 174.3 132.2 176.8 138.9C179.3 145.7 181.2 154.0 180.6 161.5C179.9 169.1 176.2 176.9 173.0 184.1C169.9 191.3 174.3 201.4 161.7 204.8C149.2 208.3 108.8 208.9 97.7 204.8C86.5 200.8 95.2 187.0 94.9 180.4C94.5 173.8 95.3 169.7 95.8 165.3C96.3 160.9 96.1 159.6 97.7 154.0Z" fill="#413824"/></g><g filter="url(#b4)"><path d="M100.5 73.0C102.5 69.4 105.4 65.1 109.9 62.6C114.5 60.1 122.0 58.4 127.8 57.9C133.6 57.5 140.4 57.9 144.8 59.8C149.2 61.7 152.6 65.5 154.2 69.2C155.8 73.0 155.6 79.1 154.2 82.4C152.8 85.7 149.3 88.7 145.7 89.0C142.1 89.3 136.8 85.9 132.5 84.3C128.3 82.7 124.1 79.7 120.3 79.6C116.5 79.4 112.8 81.3 109.9 83.4C107.1 85.4 105.4 91.7 103.3 91.8C101.3 92.0 98.2 87.4 97.7 84.3C97.2 81.2 98.5 76.6 100.5 73.0Z" fill="#2f1f14"/><path d="M104.3 155.9C106.3 150.8 110.7 144.9 114.6 140.8C118.6 136.7 122.6 133.0 127.8 131.4C133.0 129.8 140.5 129.5 145.7 131.4C150.9 133.3 156.1 137.7 158.9 142.7C161.7 147.7 162.7 155.6 162.7 161.5C162.7 167.5 161.3 173.3 158.9 178.5C156.5 183.7 154.3 188.8 148.5 192.6C142.7 196.4 130.3 201.5 124.1 201.1C117.8 200.6 114.5 194.8 110.9 189.8C107.3 184.8 103.5 176.6 102.4 170.9C101.3 165.3 102.2 160.9 104.3 155.9Z" fill="#2c1f14"/></g><g filter="url(#b1_5)"><ellipse cx="105.6" cy="72.1" rx="4.1" ry="6.4" fill="#1c0908" transform="rotate(5 105.6 72.1)"/><ellipse cx="118.8" cy="67.3" rx="6.8" ry="5.3" fill="#1a0908" transform="rotate(-30 118.8 67.3)"/><ellipse cx="144.8" cy="82.4" rx="5.7" ry="5.3" fill="#200908"/><path d="M105.2 154.0C106.2 150.8 111.5 148.7 114.6 146.5C117.8 144.3 121.9 143.3 124.1 140.8C126.2 138.3 125.3 132.6 127.8 131.4C130.3 130.1 136.3 131.4 139.1 133.3C141.9 135.2 142.3 140.2 144.8 142.7C147.3 145.2 151.7 145.8 154.2 148.3C156.7 150.8 159.2 154.0 159.8 157.8C160.5 161.5 159.2 167.2 158.0 170.9C156.7 174.7 154.8 177.8 152.3 180.4C149.8 182.9 144.8 183.5 142.9 186.0C141.0 188.5 144.1 193.5 141.0 195.4C137.9 197.3 128.4 198.3 124.1 197.3C119.7 196.4 116.5 193.2 114.6 189.8C112.8 186.3 113.7 180.7 112.8 176.6C111.8 172.5 110.2 169.1 109.0 165.3C107.7 161.5 104.3 157.1 105.2 154.0Z" fill="#160908"/></g><g filter="url(#b0_6)"><ellipse cx="106.2" cy="73.0" rx="0.9" ry="1.9" fill="#080000"/><ellipse cx="116.5" cy="69.2" rx="1.5" ry="2.6" fill="#080000" transform="rotate(-10 116.5 69.2)"/><ellipse cx="125.0" cy="156.2" rx="4.1" ry="1.5" fill="#080000" transform="rotate(30 125.0 156.2)"/><ellipse cx="117.5" cy="155.9" rx="1.1" ry="0.9" fill="#080000"/><ellipse cx="136.9" cy="152.1" rx="0.8" ry="0.9" fill="#080000"/></g></g></svg>
<svg x="955.7" y="938.3" width="199.8" height="199.6" viewBox="0 0 200 200" preserveAspectRatio="none"><g filter="url(#sh0)"><rect x="-5" y="-5" width="260" height="260" fill="#0d8000"/><g filter="url(#b14)"><ellipse cx="99.8" cy="89.9" rx="86.6" ry="62.2" fill="#178000"/></g><g filter="url(#b2)"><ellipse cx="98.8" cy="98.4" rx="4.5" ry="4.5" fill="#245400"/><ellipse cx="99.8" cy="89.0" rx="2.6" ry="5.7" fill="#246e00"/><ellipse cx="145.0" cy="88.1" rx="5.7" ry="4.1" fill="#246600" transform="rotate(20 145.0 88.1)"/><ellipse cx="158.2" cy="94.7" rx="7.5" ry="2.3" fill="#247300" transform="rotate(20 158.2 94.7)"/><ellipse cx="160.0" cy="167.2" rx="6.4" ry="5.3" fill="#247000" transform="rotate(30 160.0 167.2)"/><ellipse cx="114.8" cy="103.5" rx="2.8" ry="2.6" fill="#246e00"/><ellipse cx="128.0" cy="122.0" rx="2.3" ry="1.9" fill="#246b00"/><ellipse cx="113.0" cy="126.7" rx="1.9" ry="1.5" fill="#246e00"/><ellipse cx="73.4" cy="152.1" rx="2.3" ry="4.7" fill="#247500"/><ellipse cx="124.3" cy="154.0" rx="6.6" ry="1.9" fill="#247500" transform="rotate(20 124.3 154.0)"/><ellipse cx="173.2" cy="155.9" rx="3.8" ry="2.8" fill="#247300"/><ellipse cx="93.2" cy="117.3" rx="1.9" ry="4.7" fill="#249600"/><ellipse cx="122.4" cy="131.8" rx="1.9" ry="5.7" fill="#249100"/><ellipse cx="129.9" cy="128.0" rx="1.9" ry="4.7" fill="#249100"/><ellipse cx="124.3" cy="110.7" rx="9.4" ry="2.3" fill="#248f00"/><ellipse cx="72.5" cy="69.2" rx="3.0" ry="2.6" fill="#248f00"/><ellipse cx="41.4" cy="48.5" rx="3.0" ry="2.6" fill="#248c00"/><ellipse cx="146.9" cy="177.5" rx="6.0" ry="5.3" fill="#248c00"/><ellipse cx="198.7" cy="57.0" rx="1.5" ry="4.7" fill="#248f00"/><ellipse cx="133.7" cy="197.7" rx="16.0" ry="1.5" fill="#248c00"/><ellipse cx="18.8" cy="110.7" rx="1.9" ry="5.7" fill="#248a00"/><ellipse cx="30.1" cy="57.9" rx="2.3" ry="4.7" fill="#248a00"/><ellipse cx="54.6" cy="26.8" rx="2.6" ry="2.3" fill="#248a00"/><ellipse cx="162.9" cy="157.8" rx="2.6" ry="2.6" fill="#248a00"/></g></g></svg>
<svg x="955.7" y="1175.8" width="199.8" height="199.6" viewBox="0 0 200 200" preserveAspectRatio="none"><g filter="url(#sh1)"><rect x="-5" y="-5" width="260" height="260" fill="#088000"/><g filter="url(#b14)"><ellipse cx="98.8" cy="101.2" rx="79.1" ry="75.3" fill="#178000"/></g><g filter="url(#b2)"><ellipse cx="98.8" cy="97.5" rx="3.4" ry="6.0" fill="#215e00"/><ellipse cx="91.3" cy="146.5" rx="2.4" ry="9.4" fill="#216900" transform="rotate(-20 91.3 146.5)"/><ellipse cx="124.3" cy="154.0" rx="9.4" ry="2.1" fill="#217000" transform="rotate(20 124.3 154.0)"/><ellipse cx="158.2" cy="164.3" rx="5.7" ry="2.1" fill="#217000" transform="rotate(20 158.2 164.3)"/><ellipse cx="152.5" cy="118.2" rx="3.8" ry="3.0" fill="#216b00"/><ellipse cx="145.0" cy="86.2" rx="4.5" ry="3.8" fill="#217300"/><ellipse cx="131.8" cy="105.0" rx="7.5" ry="1.5" fill="#217000"/><ellipse cx="35.7" cy="106.0" rx="4.7" ry="1.1" fill="#217000"/><ellipse cx="75.3" cy="118.2" rx="2.6" ry="3.0" fill="#217000"/><ellipse cx="47.0" cy="74.9" rx="2.6" ry="4.7" fill="#217000" transform="rotate(-30 47.0 74.9)"/><ellipse cx="58.3" cy="37.2" rx="1.9" ry="3.8" fill="#217300"/><ellipse cx="41.4" cy="42.9" rx="2.3" ry="1.9" fill="#217300"/><ellipse cx="111.1" cy="52.3" rx="1.9" ry="1.9" fill="#217300"/><ellipse cx="74.3" cy="63.6" rx="1.9" ry="1.9" fill="#217000"/><ellipse cx="127.1" cy="107.8" rx="9.4" ry="1.9" fill="#219900"/><ellipse cx="141.2" cy="94.7" rx="5.7" ry="1.5" fill="#219100"/><ellipse cx="116.7" cy="122.0" rx="1.9" ry="3.8" fill="#218f00"/><ellipse cx="70.6" cy="72.1" rx="3.8" ry="1.5" fill="#219400"/><ellipse cx="48.9" cy="70.2" rx="2.8" ry="1.1" fill="#218f00"/><ellipse cx="39.5" cy="102.2" rx="2.8" ry="1.1" fill="#218f00"/><ellipse cx="145.0" cy="175.7" rx="4.7" ry="3.8" fill="#218f00"/><ellipse cx="124.3" cy="25.9" rx="1.9" ry="1.9" fill="#218c00"/><ellipse cx="86.6" cy="189.8" rx="2.8" ry="0.9" fill="#218c00"/><ellipse cx="135.6" cy="197.7" rx="17.0" ry="1.5" fill="#218a00"/><ellipse cx="105.4" cy="131.4" rx="1.5" ry="3.8" fill="#217300"/><ellipse cx="120.5" cy="127.6" rx="1.5" ry="4.1" fill="#217300"/></g></g></svg>
<svg x="955.7" y="1413.35" width="199.8" height="199.6" viewBox="0 0 200 200" preserveAspectRatio="none"><g filter="url(#sh2)"><rect x="-5" y="-5" width="260" height="260" fill="#088000"/><g filter="url(#b14)"><ellipse cx="105.4" cy="97.5" rx="75.3" ry="75.3" fill="#1a8000"/></g><g filter="url(#b1_2)"><ellipse cx="101.3" cy="122.0" rx="2.4" ry="6.0" fill="#1a2400"/><ellipse cx="94.1" cy="119.1" rx="2.6" ry="2.6" fill="#1acc00"/><ellipse cx="112.0" cy="127.2" rx="3.0" ry="2.1" fill="#1ab800"/><ellipse cx="106.4" cy="118.6" rx="1.5" ry="1.5" fill="#1aad00"/><ellipse cx="83.8" cy="107.8" rx="2.8" ry="1.3" fill="#1aa600" transform="rotate(30 83.8 107.8)"/><ellipse cx="71.5" cy="73.0" rx="2.6" ry="1.3" fill="#1aab00" transform="rotate(-20 71.5 73.0)"/><ellipse cx="85.6" cy="114.4" rx="5.3" ry="1.7" fill="#1a4700" transform="rotate(-30 85.6 114.4)"/><ellipse cx="78.1" cy="121.0" rx="2.6" ry="1.5" fill="#1a5900"/><ellipse cx="118.2" cy="128.0" rx="1.3" ry="2.4" fill="#1a4c00"/><ellipse cx="129.0" cy="128.6" rx="1.7" ry="3.2" fill="#1a5e00"/><ellipse cx="143.1" cy="132.3" rx="4.5" ry="1.7" fill="#1a6100" transform="rotate(20 143.1 132.3)"/><ellipse cx="156.3" cy="126.1" rx="5.3" ry="1.7" fill="#1a5e00" transform="rotate(20 156.3 126.1)"/><ellipse cx="102.6" cy="135.2" rx="2.1" ry="4.5" fill="#1a5e00"/><ellipse cx="158.2" cy="121.0" rx="1.9" ry="1.9" fill="#1a9900"/><ellipse cx="98.8" cy="156.8" rx="2.4" ry="2.4" fill="#1a6600"/><ellipse cx="94.1" cy="137.0" rx="1.5" ry="1.9" fill="#1a9400"/></g><g filter="url(#b2_5)"><ellipse cx="99.8" cy="97.5" rx="4.1" ry="7.5" fill="#216b00"/><ellipse cx="115.8" cy="74.9" rx="1.9" ry="4.7" fill="#216b00"/><ellipse cx="52.7" cy="83.4" rx="2.3" ry="1.9" fill="#216b00"/><ellipse cx="71.5" cy="62.6" rx="2.3" ry="3.8" fill="#216e00"/><ellipse cx="79.0" cy="46.6" rx="3.8" ry="1.1" fill="#216e00"/><ellipse cx="160.0" cy="166.2" rx="6.6" ry="4.7" fill="#217300"/><ellipse cx="146.9" cy="89.9" rx="7.5" ry="1.9" fill="#217000" transform="rotate(20 146.9 89.9)"/><ellipse cx="111.1" cy="67.3" rx="1.9" ry="9.4" fill="#218f00" transform="rotate(20 111.1 67.3)"/><ellipse cx="128.0" cy="71.1" rx="1.9" ry="9.4" fill="#218f00" transform="rotate(20 128.0 71.1)"/><ellipse cx="101.6" cy="52.3" rx="1.5" ry="5.7" fill="#218c00"/><ellipse cx="146.9" cy="177.5" rx="5.7" ry="5.3" fill="#218c00"/><ellipse cx="139.3" cy="63.6" rx="1.9" ry="4.7" fill="#217300"/><ellipse cx="122.4" cy="64.5" rx="1.9" ry="3.8" fill="#217500"/><ellipse cx="128.0" cy="31.6" rx="3.0" ry="1.9" fill="#217300"/></g></g></svg>
<svg x="955.7" y="1651.0" width="199.8" height="199.6" viewBox="0 0 200 200" preserveAspectRatio="none"><g filter="url(#sh3)"><rect x="-5" y="-5" width="260" height="260" fill="#088000"/><g filter="url(#b14)"><ellipse cx="86.6" cy="89.9" rx="79.1" ry="75.3" fill="#1a8000"/><ellipse cx="48.9" cy="82.4" rx="47.1" ry="56.5" fill="#1f8000"/></g><g filter="url(#b1_2)"><ellipse cx="84.3" cy="88.1" rx="1.1" ry="7.9" fill="#1a2b00"/><ellipse cx="101.3" cy="116.3" rx="1.7" ry="6.0" fill="#1a3300" transform="rotate(-10 101.3 116.3)"/><ellipse cx="71.5" cy="73.0" rx="3.4" ry="2.1" fill="#1ab200"/><ellipse cx="94.7" cy="116.3" rx="2.3" ry="6.6" fill="#1aa100"/><ellipse cx="80.0" cy="91.8" rx="2.3" ry="3.8" fill="#1a9c00"/></g><g filter="url(#b2_5)"><ellipse cx="102.6" cy="102.2" rx="11.3" ry="4.5" fill="#216900"/><ellipse cx="124.3" cy="107.8" rx="9.4" ry="1.5" fill="#216600" transform="rotate(10 124.3 107.8)"/><ellipse cx="131.4" cy="111.0" rx="2.6" ry="1.9" fill="#216600"/><ellipse cx="100.7" cy="127.6" rx="1.9" ry="5.7" fill="#216b00"/><ellipse cx="115.8" cy="76.8" rx="1.9" ry="3.8" fill="#216900"/><ellipse cx="73.4" cy="64.5" rx="2.8" ry="2.3" fill="#216900"/><ellipse cx="137.4" cy="63.6" rx="2.3" ry="3.8" fill="#217000"/><ellipse cx="148.7" cy="85.2" rx="5.7" ry="3.8" fill="#217500"/><ellipse cx="80.9" cy="52.3" rx="2.3" ry="2.3" fill="#219600"/><ellipse cx="75.3" cy="46.6" rx="2.3" ry="2.3" fill="#219400"/><ellipse cx="58.3" cy="85.2" rx="2.8" ry="1.5" fill="#219400"/><ellipse cx="112.0" cy="58.9" rx="2.3" ry="2.3" fill="#219100"/><ellipse cx="152.5" cy="73.0" rx="2.3" ry="2.3" fill="#219100"/><ellipse cx="133.7" cy="105.0" rx="7.5" ry="0.8" fill="#219100"/><ellipse cx="68.7" cy="94.7" rx="1.9" ry="1.9" fill="#219400"/><ellipse cx="37.6" cy="108.8" rx="1.9" ry="1.9" fill="#218f00"/><ellipse cx="146.9" cy="175.7" rx="5.7" ry="5.3" fill="#218a00"/><ellipse cx="54.6" cy="31.6" rx="2.6" ry="2.3" fill="#218c00"/><ellipse cx="90.3" cy="35.3" rx="2.3" ry="3.8" fill="#218c00"/><ellipse cx="48.9" cy="105.0" rx="5.7" ry="1.9" fill="#218a00"/><ellipse cx="133.7" cy="198.3" rx="17.0" ry="1.5" fill="#218a00"/></g></g></svg>
<svg x="955.7" y="1888.45" width="199.8" height="199.6" viewBox="0 0 200 200" preserveAspectRatio="none"><g filter="url(#sh4)"><rect x="-5" y="-5" width="260" height="260" fill="#128000"/><g filter="url(#b14)"><ellipse cx="54.6" cy="101.2" rx="62.2" ry="81.0" fill="#338000"/><ellipse cx="124.3" cy="105.0" rx="37.7" ry="56.5" fill="#1f8000"/></g><g filter="url(#b1_5)"><ellipse cx="73.4" cy="45.7" rx="5.7" ry="2.4" fill="#38bd00" transform="rotate(40 73.4 45.7)"/><ellipse cx="69.6" cy="56.0" rx="6.6" ry="2.4" fill="#38c200" transform="rotate(35 69.6 56.0)"/><ellipse cx="75.3" cy="63.6" rx="4.7" ry="2.1" fill="#38b800" transform="rotate(40 75.3 63.6)"/><ellipse cx="52.7" cy="82.4" rx="7.5" ry="2.8" fill="#38cc00" transform="rotate(30 52.7 82.4)"/><ellipse cx="69.6" cy="74.9" rx="4.7" ry="2.1" fill="#38b800"/><ellipse cx="34.8" cy="108.4" rx="5.3" ry="1.9" fill="#38c400"/><ellipse cx="60.2" cy="109.7" rx="6.6" ry="3.2" fill="#38b800" transform="rotate(30 60.2 109.7)"/><ellipse cx="51.7" cy="118.2" rx="4.1" ry="4.5" fill="#38bd00"/><ellipse cx="41.4" cy="139.9" rx="4.1" ry="1.9" fill="#38c200"/><ellipse cx="58.3" cy="95.6" rx="3.8" ry="2.3" fill="#38b800"/><ellipse cx="75.3" cy="129.5" rx="2.3" ry="2.3" fill="#38b200"/><ellipse cx="95.1" cy="130.4" rx="1.9" ry="4.1" fill="#38ad00"/><ellipse cx="107.3" cy="113.5" rx="3.0" ry="1.9" fill="#38ad00"/><ellipse cx="26.3" cy="57.9" rx="2.6" ry="2.6" fill="#38a600"/><ellipse cx="37.6" cy="157.8" rx="2.6" ry="4.7" fill="#38a600"/><ellipse cx="73.4" cy="169.1" rx="3.4" ry="2.3" fill="#389900"/><ellipse cx="77.2" cy="82.4" rx="1.5" ry="2.6" fill="#382e00"/><ellipse cx="83.8" cy="94.1" rx="2.3" ry="1.9" fill="#383300"/><ellipse cx="52.7" cy="111.0" rx="2.6" ry="1.5" fill="#383300"/><ellipse cx="85.1" cy="115.8" rx="2.6" ry="2.3" fill="#384700"/><ellipse cx="116.7" cy="85.2" rx="2.6" ry="2.3" fill="#384700"/><ellipse cx="115.8" cy="74.9" rx="1.5" ry="3.0" fill="#385200"/><ellipse cx="38.5" cy="130.4" rx="2.6" ry="1.5" fill="#384200"/><ellipse cx="34.2" cy="137.0" rx="2.6" ry="1.5" fill="#384700"/><ellipse cx="75.3" cy="68.3" rx="4.7" ry="1.7" fill="#384c00" transform="rotate(40 75.3 68.3)"/><ellipse cx="54.6" cy="88.4" rx="3.8" ry="1.5" fill="#384700" transform="rotate(30 54.6 88.4)"/><ellipse cx="71.5" cy="50.4" rx="5.7" ry="1.3" fill="#384c00" transform="rotate(40 71.5 50.4)"/><ellipse cx="26.3" cy="79.6" rx="1.9" ry="1.9" fill="#384c00"/><ellipse cx="114.8" cy="110.7" rx="3.8" ry="2.3" fill="#385900"/><ellipse cx="29.1" cy="155.9" rx="1.9" ry="1.9" fill="#385200"/></g><g filter="url(#b3)"><ellipse cx="82.8" cy="137.0" rx="3.8" ry="8.5" fill="#336600"/><ellipse cx="100.7" cy="99.4" rx="5.7" ry="5.7" fill="#336b00"/><ellipse cx="145.9" cy="84.3" rx="7.5" ry="4.7" fill="#337000"/><ellipse cx="139.3" cy="157.8" rx="11.3" ry="3.8" fill="#337300"/><ellipse cx="116.7" cy="152.1" rx="5.7" ry="5.7" fill="#337300"/><ellipse cx="146.9" cy="177.5" rx="7.5" ry="5.7" fill="#338c00"/><ellipse cx="131.8" cy="197.3" rx="15.1" ry="1.9" fill="#338f00"/></g></g></svg>
<text x="818" y="933.9" font-size="11.0" text-anchor="middle" fill="#111">0h old IR Data</text>
<text x="1055.8" y="933.9" font-size="11.0" text-anchor="middle" fill="#111">SHAP Value=-2.94 kts</text>
<rect x="718.2" y="938.3" width="199.8" height="199.6" fill="none" stroke="#333" stroke-width="0.9"/>
<rect x="955.7" y="938.3" width="199.8" height="199.6" fill="none" stroke="#333" stroke-width="0.9"/>
<line x1="715.6" y1="944.3" x2="718.2" y2="944.3" stroke="#333" stroke-width="0.8"/>
<line x1="953.1" y1="944.3" x2="955.7" y2="944.3" stroke="#333" stroke-width="0.8"/>
<text x="714.3" y="948.1" font-size="10.2" text-anchor="end" fill="#111">19</text>
<line x1="715.6" y1="975.6" x2="718.2" y2="975.6" stroke="#333" stroke-width="0.8"/>
<line x1="953.1" y1="975.6" x2="955.7" y2="975.6" stroke="#333" stroke-width="0.8"/>
<text x="714.3" y="979.4" font-size="10.2" text-anchor="end" fill="#111">18</text>
<line x1="715.6" y1="1007.0" x2="718.2" y2="1007.0" stroke="#333" stroke-width="0.8"/>
<line x1="953.1" y1="1007.0" x2="955.7" y2="1007.0" stroke="#333" stroke-width="0.8"/>
<text x="714.3" y="1010.8" font-size="10.2" text-anchor="end" fill="#111">17</text>
<line x1="715.6" y1="1038.3" x2="718.2" y2="1038.3" stroke="#333" stroke-width="0.8"/>
<line x1="953.1" y1="1038.3" x2="955.7" y2="1038.3" stroke="#333" stroke-width="0.8"/>
<text x="714.3" y="1042.1" font-size="10.2" text-anchor="end" fill="#111">16</text>
<line x1="715.6" y1="1069.7" x2="718.2" y2="1069.7" stroke="#333" stroke-width="0.8"/>
<line x1="953.1" y1="1069.7" x2="955.7" y2="1069.7" stroke="#333" stroke-width="0.8"/>
<text x="714.3" y="1073.5" font-size="10.2" text-anchor="end" fill="#111">15</text>
<line x1="715.6" y1="1101.0" x2="718.2" y2="1101.0" stroke="#333" stroke-width="0.8"/>
<line x1="953.1" y1="1101.0" x2="955.7" y2="1101.0" stroke="#333" stroke-width="0.8"/>
<text x="714.3" y="1104.8" font-size="10.2" text-anchor="end" fill="#111">14</text>
<line x1="715.6" y1="1132.4" x2="718.2" y2="1132.4" stroke="#333" stroke-width="0.8"/>
<line x1="953.1" y1="1132.4" x2="955.7" y2="1132.4" stroke="#333" stroke-width="0.8"/>
<text x="714.3" y="1136.2" font-size="10.2" text-anchor="end" fill="#111">13</text>
<line x1="745.7" y1="1137.9" x2="745.7" y2="1140.5" stroke="#333" stroke-width="0.8"/>
<line x1="983.2" y1="1137.9" x2="983.2" y2="1140.5" stroke="#333" stroke-width="0.8"/>
<text x="744.5" y="1150.3" font-size="10.2" text-anchor="middle" fill="#111">−78</text>
<line x1="775.9" y1="1137.9" x2="775.9" y2="1140.5" stroke="#333" stroke-width="0.8"/>
<line x1="1013.4" y1="1137.9" x2="1013.4" y2="1140.5" stroke="#333" stroke-width="0.8"/>
<text x="774.6999999999999" y="1150.3" font-size="10.2" text-anchor="middle" fill="#111">−77</text>
<line x1="806.0" y1="1137.9" x2="806.0" y2="1140.5" stroke="#333" stroke-width="0.8"/>
<line x1="1043.5" y1="1137.9" x2="1043.5" y2="1140.5" stroke="#333" stroke-width="0.8"/>
<text x="804.8" y="1150.3" font-size="10.2" text-anchor="middle" fill="#111">−76</text>
<line x1="836.2" y1="1137.9" x2="836.2" y2="1140.5" stroke="#333" stroke-width="0.8"/>
<line x1="1073.7" y1="1137.9" x2="1073.7" y2="1140.5" stroke="#333" stroke-width="0.8"/>
<text x="835.0" y="1150.3" font-size="10.2" text-anchor="middle" fill="#111">−75</text>
<line x1="866.3" y1="1137.9" x2="866.3" y2="1140.5" stroke="#333" stroke-width="0.8"/>
<line x1="1103.8" y1="1137.9" x2="1103.8" y2="1140.5" stroke="#333" stroke-width="0.8"/>
<text x="865.0999999999999" y="1150.3" font-size="10.2" text-anchor="middle" fill="#111">−74</text>
<line x1="896.5" y1="1137.9" x2="896.5" y2="1140.5" stroke="#333" stroke-width="0.8"/>
<line x1="1134.0" y1="1137.9" x2="1134.0" y2="1140.5" stroke="#333" stroke-width="0.8"/>
<text x="895.3" y="1150.3" font-size="10.2" text-anchor="middle" fill="#111">−73</text>
<text x="818" y="1171.4" font-size="11.0" text-anchor="middle" fill="#111">3h old IR Data</text>
<text x="1055.8" y="1171.4" font-size="11.0" text-anchor="middle" fill="#111">SHAP Value=-1.67 kts</text>
<rect x="718.2" y="1175.8" width="199.8" height="199.6" fill="none" stroke="#333" stroke-width="0.9"/>
<rect x="955.7" y="1175.8" width="199.8" height="199.6" fill="none" stroke="#333" stroke-width="0.9"/>
<line x1="715.6" y1="1180.3" x2="718.2" y2="1180.3" stroke="#333" stroke-width="0.8"/>
<line x1="953.1" y1="1180.3" x2="955.7" y2="1180.3" stroke="#333" stroke-width="0.8"/>
<text x="714.3" y="1184.1" font-size="10.2" text-anchor="end" fill="#111">19</text>
<line x1="715.6" y1="1211.6" x2="718.2" y2="1211.6" stroke="#333" stroke-width="0.8"/>
<line x1="953.1" y1="1211.6" x2="955.7" y2="1211.6" stroke="#333" stroke-width="0.8"/>
<text x="714.3" y="1215.4" font-size="10.2" text-anchor="end" fill="#111">18</text>
<line x1="715.6" y1="1243.0" x2="718.2" y2="1243.0" stroke="#333" stroke-width="0.8"/>
<line x1="953.1" y1="1243.0" x2="955.7" y2="1243.0" stroke="#333" stroke-width="0.8"/>
<text x="714.3" y="1246.8" font-size="10.2" text-anchor="end" fill="#111">17</text>
<line x1="715.6" y1="1274.3" x2="718.2" y2="1274.3" stroke="#333" stroke-width="0.8"/>
<line x1="953.1" y1="1274.3" x2="955.7" y2="1274.3" stroke="#333" stroke-width="0.8"/>
<text x="714.3" y="1278.1" font-size="10.2" text-anchor="end" fill="#111">16</text>
<line x1="715.6" y1="1305.7" x2="718.2" y2="1305.7" stroke="#333" stroke-width="0.8"/>
<line x1="953.1" y1="1305.7" x2="955.7" y2="1305.7" stroke="#333" stroke-width="0.8"/>
<text x="714.3" y="1309.5" font-size="10.2" text-anchor="end" fill="#111">15</text>
<line x1="715.6" y1="1337.0" x2="718.2" y2="1337.0" stroke="#333" stroke-width="0.8"/>
<line x1="953.1" y1="1337.0" x2="955.7" y2="1337.0" stroke="#333" stroke-width="0.8"/>
<text x="714.3" y="1340.8" font-size="10.2" text-anchor="end" fill="#111">14</text>
<line x1="715.6" y1="1368.4" x2="718.2" y2="1368.4" stroke="#333" stroke-width="0.8"/>
<line x1="953.1" y1="1368.4" x2="955.7" y2="1368.4" stroke="#333" stroke-width="0.8"/>
<text x="714.3" y="1372.2" font-size="10.2" text-anchor="end" fill="#111">13</text>
<line x1="745.7" y1="1375.4" x2="745.7" y2="1378.0" stroke="#333" stroke-width="0.8"/>
<line x1="983.2" y1="1375.4" x2="983.2" y2="1378.0" stroke="#333" stroke-width="0.8"/>
<text x="744.5" y="1387.8" font-size="10.2" text-anchor="middle" fill="#111">−78</text>
<line x1="775.9" y1="1375.4" x2="775.9" y2="1378.0" stroke="#333" stroke-width="0.8"/>
<line x1="1013.4" y1="1375.4" x2="1013.4" y2="1378.0" stroke="#333" stroke-width="0.8"/>
<text x="774.6999999999999" y="1387.8" font-size="10.2" text-anchor="middle" fill="#111">−77</text>
<line x1="806.0" y1="1375.4" x2="806.0" y2="1378.0" stroke="#333" stroke-width="0.8"/>
<line x1="1043.5" y1="1375.4" x2="1043.5" y2="1378.0" stroke="#333" stroke-width="0.8"/>
<text x="804.8" y="1387.8" font-size="10.2" text-anchor="middle" fill="#111">−76</text>
<line x1="836.2" y1="1375.4" x2="836.2" y2="1378.0" stroke="#333" stroke-width="0.8"/>
<line x1="1073.7" y1="1375.4" x2="1073.7" y2="1378.0" stroke="#333" stroke-width="0.8"/>
<text x="835.0" y="1387.8" font-size="10.2" text-anchor="middle" fill="#111">−75</text>
<line x1="866.3" y1="1375.4" x2="866.3" y2="1378.0" stroke="#333" stroke-width="0.8"/>
<line x1="1103.8" y1="1375.4" x2="1103.8" y2="1378.0" stroke="#333" stroke-width="0.8"/>
<text x="865.0999999999999" y="1387.8" font-size="10.2" text-anchor="middle" fill="#111">−74</text>
<line x1="896.5" y1="1375.4" x2="896.5" y2="1378.0" stroke="#333" stroke-width="0.8"/>
<line x1="1134.0" y1="1375.4" x2="1134.0" y2="1378.0" stroke="#333" stroke-width="0.8"/>
<text x="895.3" y="1387.8" font-size="10.2" text-anchor="middle" fill="#111">−73</text>
<text x="818" y="1408.9" font-size="11.0" text-anchor="middle" fill="#111">6h old IR Data</text>
<text x="1055.8" y="1408.9" font-size="11.0" text-anchor="middle" fill="#111">SHAP Value=-4.20 kts</text>
<rect x="718.2" y="1413.35" width="199.8" height="199.6" fill="none" stroke="#333" stroke-width="0.9"/>
<rect x="955.7" y="1413.35" width="199.8" height="199.6" fill="none" stroke="#333" stroke-width="0.9"/>
<line x1="715.6" y1="1414.6" x2="718.2" y2="1414.6" stroke="#333" stroke-width="0.8"/>
<line x1="953.1" y1="1414.6" x2="955.7" y2="1414.6" stroke="#333" stroke-width="0.8"/>
<text x="714.3" y="1418.4" font-size="10.2" text-anchor="end" fill="#111">19</text>
<line x1="715.6" y1="1446.0" x2="718.2" y2="1446.0" stroke="#333" stroke-width="0.8"/>
<line x1="953.1" y1="1446.0" x2="955.7" y2="1446.0" stroke="#333" stroke-width="0.8"/>
<text x="714.3" y="1449.8" font-size="10.2" text-anchor="end" fill="#111">18</text>
<line x1="715.6" y1="1477.3" x2="718.2" y2="1477.3" stroke="#333" stroke-width="0.8"/>
<line x1="953.1" y1="1477.3" x2="955.7" y2="1477.3" stroke="#333" stroke-width="0.8"/>
<text x="714.3" y="1481.1" font-size="10.2" text-anchor="end" fill="#111">17</text>
<line x1="715.6" y1="1508.7" x2="718.2" y2="1508.7" stroke="#333" stroke-width="0.8"/>
<line x1="953.1" y1="1508.7" x2="955.7" y2="1508.7" stroke="#333" stroke-width="0.8"/>
<text x="714.3" y="1512.5" font-size="10.2" text-anchor="end" fill="#111">16</text>
<line x1="715.6" y1="1540.0" x2="718.2" y2="1540.0" stroke="#333" stroke-width="0.8"/>
<line x1="953.1" y1="1540.0" x2="955.7" y2="1540.0" stroke="#333" stroke-width="0.8"/>
<text x="714.3" y="1543.8" font-size="10.2" text-anchor="end" fill="#111">15</text>
<line x1="715.6" y1="1571.4" x2="718.2" y2="1571.4" stroke="#333" stroke-width="0.8"/>
<line x1="953.1" y1="1571.4" x2="955.7" y2="1571.4" stroke="#333" stroke-width="0.8"/>
<text x="714.3" y="1575.2" font-size="10.2" text-anchor="end" fill="#111">14</text>
<line x1="715.6" y1="1602.8" x2="718.2" y2="1602.8" stroke="#333" stroke-width="0.8"/>
<line x1="953.1" y1="1602.8" x2="955.7" y2="1602.8" stroke="#333" stroke-width="0.8"/>
<text x="714.3" y="1606.6" font-size="10.2" text-anchor="end" fill="#111">13</text>
<line x1="745.7" y1="1612.9" x2="745.7" y2="1615.5" stroke="#333" stroke-width="0.8"/>
<line x1="983.2" y1="1612.9" x2="983.2" y2="1615.5" stroke="#333" stroke-width="0.8"/>
<text x="744.5" y="1625.3" font-size="10.2" text-anchor="middle" fill="#111">−78</text>
<line x1="775.9" y1="1612.9" x2="775.9" y2="1615.5" stroke="#333" stroke-width="0.8"/>
<line x1="1013.4" y1="1612.9" x2="1013.4" y2="1615.5" stroke="#333" stroke-width="0.8"/>
<text x="774.6999999999999" y="1625.3" font-size="10.2" text-anchor="middle" fill="#111">−77</text>
<line x1="806.0" y1="1612.9" x2="806.0" y2="1615.5" stroke="#333" stroke-width="0.8"/>
<line x1="1043.5" y1="1612.9" x2="1043.5" y2="1615.5" stroke="#333" stroke-width="0.8"/>
<text x="804.8" y="1625.3" font-size="10.2" text-anchor="middle" fill="#111">−76</text>
<line x1="836.2" y1="1612.9" x2="836.2" y2="1615.5" stroke="#333" stroke-width="0.8"/>
<line x1="1073.7" y1="1612.9" x2="1073.7" y2="1615.5" stroke="#333" stroke-width="0.8"/>
<text x="835.0" y="1625.3" font-size="10.2" text-anchor="middle" fill="#111">−75</text>
<line x1="866.3" y1="1612.9" x2="866.3" y2="1615.5" stroke="#333" stroke-width="0.8"/>
<line x1="1103.8" y1="1612.9" x2="1103.8" y2="1615.5" stroke="#333" stroke-width="0.8"/>
<text x="865.0999999999999" y="1625.3" font-size="10.2" text-anchor="middle" fill="#111">−74</text>
<line x1="896.5" y1="1612.9" x2="896.5" y2="1615.5" stroke="#333" stroke-width="0.8"/>
<line x1="1134.0" y1="1612.9" x2="1134.0" y2="1615.5" stroke="#333" stroke-width="0.8"/>
<text x="895.3" y="1625.3" font-size="10.2" text-anchor="middle" fill="#111">−73</text>
<text x="818" y="1646.6" font-size="11.0" text-anchor="middle" fill="#111">9h old IR Data</text>
<text x="1055.8" y="1646.6" font-size="11.0" text-anchor="middle" fill="#111">SHAP Value=-2.79 kts</text>
<rect x="718.2" y="1651.0" width="199.8" height="199.6" fill="none" stroke="#333" stroke-width="0.9"/>
<rect x="955.7" y="1651.0" width="199.8" height="199.6" fill="none" stroke="#333" stroke-width="0.9"/>
<line x1="715.6" y1="1679.6" x2="718.2" y2="1679.6" stroke="#333" stroke-width="0.8"/>
<line x1="953.1" y1="1679.6" x2="955.7" y2="1679.6" stroke="#333" stroke-width="0.8"/>
<text x="714.3" y="1683.4" font-size="10.2" text-anchor="end" fill="#111">18</text>
<line x1="715.6" y1="1710.9" x2="718.2" y2="1710.9" stroke="#333" stroke-width="0.8"/>
<line x1="953.1" y1="1710.9" x2="955.7" y2="1710.9" stroke="#333" stroke-width="0.8"/>
<text x="714.3" y="1714.7" font-size="10.2" text-anchor="end" fill="#111">17</text>
<line x1="715.6" y1="1742.3" x2="718.2" y2="1742.3" stroke="#333" stroke-width="0.8"/>
<line x1="953.1" y1="1742.3" x2="955.7" y2="1742.3" stroke="#333" stroke-width="0.8"/>
<text x="714.3" y="1746.1" font-size="10.2" text-anchor="end" fill="#111">16</text>
<line x1="715.6" y1="1773.6" x2="718.2" y2="1773.6" stroke="#333" stroke-width="0.8"/>
<line x1="953.1" y1="1773.6" x2="955.7" y2="1773.6" stroke="#333" stroke-width="0.8"/>
<text x="714.3" y="1777.4" font-size="10.2" text-anchor="end" fill="#111">15</text>
<line x1="715.6" y1="1805.0" x2="718.2" y2="1805.0" stroke="#333" stroke-width="0.8"/>
<line x1="953.1" y1="1805.0" x2="955.7" y2="1805.0" stroke="#333" stroke-width="0.8"/>
<text x="714.3" y="1808.8" font-size="10.2" text-anchor="end" fill="#111">14</text>
<line x1="715.6" y1="1836.3" x2="718.2" y2="1836.3" stroke="#333" stroke-width="0.8"/>
<line x1="953.1" y1="1836.3" x2="955.7" y2="1836.3" stroke="#333" stroke-width="0.8"/>
<text x="714.3" y="1840.1" font-size="10.2" text-anchor="end" fill="#111">13</text>
<line x1="743.6" y1="1850.6" x2="743.6" y2="1853.2" stroke="#333" stroke-width="0.8"/>
<line x1="981.1" y1="1850.6" x2="981.1" y2="1853.2" stroke="#333" stroke-width="0.8"/>
<text x="742.4" y="1863.0" font-size="10.2" text-anchor="middle" fill="#111">−78</text>
<line x1="773.8" y1="1850.6" x2="773.8" y2="1853.2" stroke="#333" stroke-width="0.8"/>
<line x1="1011.3" y1="1850.6" x2="1011.3" y2="1853.2" stroke="#333" stroke-width="0.8"/>
<text x="772.5999999999999" y="1863.0" font-size="10.2" text-anchor="middle" fill="#111">−77</text>
<line x1="803.9" y1="1850.6" x2="803.9" y2="1853.2" stroke="#333" stroke-width="0.8"/>
<line x1="1041.4" y1="1850.6" x2="1041.4" y2="1853.2" stroke="#333" stroke-width="0.8"/>
<text x="802.6999999999999" y="1863.0" font-size="10.2" text-anchor="middle" fill="#111">−76</text>
<line x1="834.0" y1="1850.6" x2="834.0" y2="1853.2" stroke="#333" stroke-width="0.8"/>
<line x1="1071.5" y1="1850.6" x2="1071.5" y2="1853.2" stroke="#333" stroke-width="0.8"/>
<text x="832.8" y="1863.0" font-size="10.2" text-anchor="middle" fill="#111">−75</text>
<line x1="864.2" y1="1850.6" x2="864.2" y2="1853.2" stroke="#333" stroke-width="0.8"/>
<line x1="1101.7" y1="1850.6" x2="1101.7" y2="1853.2" stroke="#333" stroke-width="0.8"/>
<text x="863.0" y="1863.0" font-size="10.2" text-anchor="middle" fill="#111">−74</text>
<line x1="894.4" y1="1850.6" x2="894.4" y2="1853.2" stroke="#333" stroke-width="0.8"/>
<line x1="1131.9" y1="1850.6" x2="1131.9" y2="1853.2" stroke="#333" stroke-width="0.8"/>
<text x="893.1999999999999" y="1863.0" font-size="10.2" text-anchor="middle" fill="#111">−73</text>
<text x="818" y="1884.0" font-size="11.0" text-anchor="middle" fill="#111">12h old IR Data</text>
<text x="1055.8" y="1884.0" font-size="11.0" text-anchor="middle" fill="#111">SHAP Value=-7.61 kts</text>
<rect x="718.2" y="1888.45" width="199.8" height="199.6" fill="none" stroke="#333" stroke-width="0.9"/>
<rect x="955.7" y="1888.45" width="199.8" height="199.6" fill="none" stroke="#333" stroke-width="0.9"/>
<line x1="715.6" y1="1912.6" x2="718.2" y2="1912.6" stroke="#333" stroke-width="0.8"/>
<line x1="953.1" y1="1912.6" x2="955.7" y2="1912.6" stroke="#333" stroke-width="0.8"/>
<text x="714.3" y="1916.4" font-size="10.2" text-anchor="end" fill="#111">18</text>
<line x1="715.6" y1="1944.0" x2="718.2" y2="1944.0" stroke="#333" stroke-width="0.8"/>
<line x1="953.1" y1="1944.0" x2="955.7" y2="1944.0" stroke="#333" stroke-width="0.8"/>
<text x="714.3" y="1947.8" font-size="10.2" text-anchor="end" fill="#111">17</text>
<line x1="715.6" y1="1975.3" x2="718.2" y2="1975.3" stroke="#333" stroke-width="0.8"/>
<line x1="953.1" y1="1975.3" x2="955.7" y2="1975.3" stroke="#333" stroke-width="0.8"/>
<text x="714.3" y="1979.1" font-size="10.2" text-anchor="end" fill="#111">16</text>
<line x1="715.6" y1="2006.7" x2="718.2" y2="2006.7" stroke="#333" stroke-width="0.8"/>
<line x1="953.1" y1="2006.7" x2="955.7" y2="2006.7" stroke="#333" stroke-width="0.8"/>
<text x="714.3" y="2010.5" font-size="10.2" text-anchor="end" fill="#111">15</text>
<line x1="715.6" y1="2038.0" x2="718.2" y2="2038.0" stroke="#333" stroke-width="0.8"/>
<line x1="953.1" y1="2038.0" x2="955.7" y2="2038.0" stroke="#333" stroke-width="0.8"/>
<text x="714.3" y="2041.8" font-size="10.2" text-anchor="end" fill="#111">14</text>
<line x1="715.6" y1="2069.4" x2="718.2" y2="2069.4" stroke="#333" stroke-width="0.8"/>
<line x1="953.1" y1="2069.4" x2="955.7" y2="2069.4" stroke="#333" stroke-width="0.8"/>
<text x="714.3" y="2073.2" font-size="10.2" text-anchor="end" fill="#111">13</text>
<line x1="738.8" y1="2088.1" x2="738.8" y2="2090.7" stroke="#333" stroke-width="0.8"/>
<line x1="976.3" y1="2088.1" x2="976.3" y2="2090.7" stroke="#333" stroke-width="0.8"/>
<text x="737.5999999999999" y="2100.5" font-size="10.2" text-anchor="middle" fill="#111">−78</text>
<line x1="769.0" y1="2088.1" x2="769.0" y2="2090.7" stroke="#333" stroke-width="0.8"/>
<line x1="1006.5" y1="2088.1" x2="1006.5" y2="2090.7" stroke="#333" stroke-width="0.8"/>
<text x="767.8" y="2100.5" font-size="10.2" text-anchor="middle" fill="#111">−77</text>
<line x1="799.1" y1="2088.1" x2="799.1" y2="2090.7" stroke="#333" stroke-width="0.8"/>
<line x1="1036.6" y1="2088.1" x2="1036.6" y2="2090.7" stroke="#333" stroke-width="0.8"/>
<text x="797.9" y="2100.5" font-size="10.2" text-anchor="middle" fill="#111">−76</text>
<line x1="829.2" y1="2088.1" x2="829.2" y2="2090.7" stroke="#333" stroke-width="0.8"/>
<line x1="1066.7" y1="2088.1" x2="1066.7" y2="2090.7" stroke="#333" stroke-width="0.8"/>
<text x="828.0" y="2100.5" font-size="10.2" text-anchor="middle" fill="#111">−75</text>
<line x1="859.4" y1="2088.1" x2="859.4" y2="2090.7" stroke="#333" stroke-width="0.8"/>
<line x1="1096.9" y1="2088.1" x2="1096.9" y2="2090.7" stroke="#333" stroke-width="0.8"/>
<text x="858.1999999999999" y="2100.5" font-size="10.2" text-anchor="middle" fill="#111">−74</text>
<line x1="889.6" y1="2088.1" x2="889.6" y2="2090.7" stroke="#333" stroke-width="0.8"/>
<line x1="1127.1" y1="2088.1" x2="1127.1" y2="2090.7" stroke="#333" stroke-width="0.8"/>
<text x="888.4" y="2100.5" font-size="10.2" text-anchor="middle" fill="#111">−73</text>
<text x="818" y="2121.6" font-size="9.75" text-anchor="middle" fill="#111">Brightness Temperature [K]</text>
<text x="1055.8" y="2121.6" font-size="9.6" text-anchor="middle" fill="#111">SHAP Values</text>
<linearGradient id="bt" x1="0" x2="1" y1="0" y2="0">
<stop offset="0.0" stop-color="#8b008b"/>
<stop offset="0.0762" stop-color="#ff00ff"/>
<stop offset="0.0769" stop-color="#ffffff"/>
<stop offset="0.1538" stop-color="#000000"/>
<stop offset="0.2154" stop-color="#800000"/>
<stop offset="0.2692" stop-color="#ff0000"/>
<stop offset="0.3077" stop-color="#ff5a00"/>
<stop offset="0.3462" stop-color="#ffa800"/>
<stop offset="0.3846" stop-color="#ffff00"/>
<stop offset="0.4231" stop-color="#a0ff00"/>
<stop offset="0.4615" stop-color="#40ff00"/>
<stop offset="0.5077" stop-color="#00d800"/>
<stop offset="0.5462" stop-color="#008838"/>
<stop offset="0.5769" stop-color="#0000a0"/>
<stop offset="0.6154" stop-color="#0000ff"/>
<stop offset="0.6615" stop-color="#0068ff"/>
<stop offset="0.6923" stop-color="#00a8ff"/>
<stop offset="0.7269" stop-color="#00ffff"/>
<stop offset="0.7277" stop-color="#ffffff"/>
<stop offset="1.0" stop-color="#000000"/>
</linearGradient>
<rect x="718.0" y="2126.0" width="200.2" height="12.4" fill="url(#bt)" stroke="#222" stroke-width="0.7"/>
<line x1="717.8" y1="2138.4" x2="717.8" y2="2140.6" stroke="#333" stroke-width="0.7"/>
<text x="717.8" y="2149.0" font-size="6.6" text-anchor="middle" fill="#111">180</text>
<line x1="748.6" y1="2138.4" x2="748.6" y2="2140.6" stroke="#333" stroke-width="0.7"/>
<text x="748.6" y="2149.0" font-size="6.6" text-anchor="middle" fill="#111">200</text>
<line x1="779.5" y1="2138.4" x2="779.5" y2="2140.6" stroke="#333" stroke-width="0.7"/>
<text x="779.5" y="2149.0" font-size="6.6" text-anchor="middle" fill="#111">220</text>
<line x1="810.3" y1="2138.4" x2="810.3" y2="2140.6" stroke="#333" stroke-width="0.7"/>
<text x="810.3" y="2149.0" font-size="6.6" text-anchor="middle" fill="#111">240</text>
<line x1="841.2" y1="2138.4" x2="841.2" y2="2140.6" stroke="#333" stroke-width="0.7"/>
<text x="841.2" y="2149.0" font-size="6.6" text-anchor="middle" fill="#111">260</text>
<line x1="872.0" y1="2138.4" x2="872.0" y2="2140.6" stroke="#333" stroke-width="0.7"/>
<text x="872.0" y="2149.0" font-size="6.6" text-anchor="middle" fill="#111">280</text>
<line x1="902.9" y1="2138.4" x2="902.9" y2="2140.6" stroke="#333" stroke-width="0.7"/>
<text x="902.9" y="2149.0" font-size="6.6" text-anchor="middle" fill="#111">300</text>
<linearGradient id="sm" x1="0" x2="1" y1="0" y2="0">
<stop offset="0" stop-color="#00004d"/>
<stop offset="0.25" stop-color="#0000ff"/>
<stop offset="0.5" stop-color="#ffffff"/>
<stop offset="0.75" stop-color="#ff0000"/>
<stop offset="1" stop-color="#800000"/>
</linearGradient>
<rect x="955.7" y="2126.0" width="200.2" height="12.4" fill="url(#sm)" stroke="#222" stroke-width="0.7"/>
<line x1="996.6" y1="2138.4" x2="996.6" y2="2141" stroke="#333" stroke-width="0.7"/>
<text x="996.6" y="2150.9" font-size="10.2" text-anchor="middle" fill="#111">−0.05</text>
<line x1="1055.4" y1="2138.4" x2="1055.4" y2="2141" stroke="#333" stroke-width="0.7"/>
<text x="1055.4" y="2150.9" font-size="10.2" text-anchor="middle" fill="#111">0.00</text>
<line x1="1114.0" y1="2138.4" x2="1114.0" y2="2141" stroke="#333" stroke-width="0.7"/>
<text x="1114.0" y="2150.9" font-size="10.2" text-anchor="middle" fill="#111">0.05</text>
</g>
</svg>
</body></html>
